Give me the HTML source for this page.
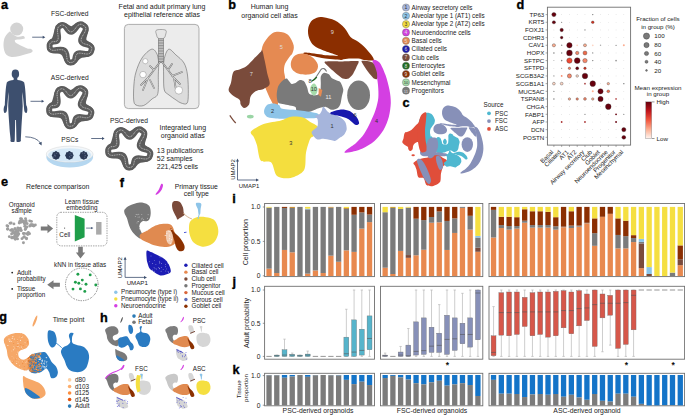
<!DOCTYPE html>
<html><head><meta charset="utf-8"><style>
html,body{margin:0;padding:0;background:#fff;width:685px;height:415px;overflow:hidden}
svg{display:block}
text{font-family:"Liberation Sans",sans-serif}
</style></head><body>
<svg width="685" height="415" viewBox="0 0 685 415" font-family="Liberation Sans, sans-serif">
<text x="69.7" y="16.2" font-size="6.7" text-anchor="middle" fill="#222" font-weight="normal" >FSC-derived</text>
<text x="69.7" y="79.6" font-size="6.7" text-anchor="middle" fill="#222" font-weight="normal" >ASC-derived</text>
<text x="69.8" y="142.1" font-size="6.6" text-anchor="middle" fill="#222" font-weight="normal" >PSCs</text>
<text x="128.9" y="122.6" font-size="6.7" text-anchor="middle" fill="#222" font-weight="normal" >PSC-derived</text>
<text x="162" y="8.6" font-size="7" text-anchor="middle" fill="#222" font-weight="normal" >Fetal and adult primary lung</text>
<text x="162" y="16.7" font-size="7" text-anchor="middle" fill="#222" font-weight="normal" >epithelial reference atlas</text>
<text x="182.8" y="130.1" font-size="7" text-anchor="middle" fill="#222" font-weight="normal" >Integrated lung</text>
<text x="182.8" y="137.7" font-size="7" text-anchor="middle" fill="#222" font-weight="normal" >organoid atlas</text>
<text x="156.8" y="153.0" font-size="7" text-anchor="start" fill="#222" font-weight="normal" >13 publications</text>
<text x="156.8" y="160.5" font-size="7" text-anchor="start" fill="#222" font-weight="normal" >52 samples</text>
<text x="156.8" y="168.6" font-size="7" text-anchor="start" fill="#222" font-weight="normal" >221,425 cells</text>
<line x1="32.2" y1="37.2" x2="43.739999999999995" y2="37.2" stroke="#3d4f6e" stroke-width="0.8"/>
<path d="M45.3,37.2 L42.699999999999996,35.7 L42.699999999999996,38.7Z" fill="#3d4f6e"/>
<line x1="30.5" y1="101.3" x2="42.64" y2="101.3" stroke="#3d4f6e" stroke-width="0.8"/>
<path d="M44.2,101.3 L41.6,99.8 L41.6,102.8Z" fill="#3d4f6e"/>
<line x1="91.2" y1="138.5" x2="103.03999999999999" y2="138.5" stroke="#3d4f6e" stroke-width="0.8"/>
<path d="M104.6,138.5 L102.0,137.0 L102.0,140.0Z" fill="#3d4f6e"/>
<path d="M25.3,136.8 Q36.5,137 40.6,143.2" fill="none" stroke="#3d4f6e" stroke-width="0.8"/>
<path d="M41.6,145.4 L38.6,143.2 L41.6,141.8Z" fill="#3d4f6e"/>
<g fill="#d3d3d3">
<circle cx="16.7" cy="29.1" r="6.5"/>
<path d="M10.1,31.2 C7,33.5 5,36 4.2,39 C3.2,43 3.3,47 4.2,50.5 C5,54 7.5,56.5 11.5,57 C16,57.2 22,55.5 28.4,53.6 C31.5,52.8 33,52 32.6,50.5 C32,48.6 30,48.5 28,48.7 C25,48 21,45.5 17.5,43.8 C15.5,42.8 14.6,41.5 14.8,40.2 C16,39.6 18.5,39.6 21.5,39.3 L24.8,38.4 C25,37 24,35.7 22.8,36 C20.5,36.8 18,37 16.5,36.5 C14,35.5 12,33.5 10.1,31.2Z" fill="#d3d3d3" />
</g>
<ellipse cx="15.4" cy="74" rx="3.7" ry="4.4" fill="#3d4f6e"/>
<path d="M13.7,77.5 L17.2,77.5 L17.4,79.9 C20,80.3 23.3,80.6 24.2,82.5 C25.5,88 25.8,98 26.2,105 C27.6,107.5 27.8,111 26.6,113 C25.6,113.5 24.3,112 24.2,110 C23.8,104 23,98 22.6,92 C22.2,97 22.6,102 22.7,106 C22.3,115 21.5,125 21.2,132 L20.8,139.5 C21.3,141 20.5,142 19,142 L16.8,142 C16.3,141 16.5,139.5 16.4,138 L16,120 L15.2,120 L14.8,138 C14.8,140 14.7,141.5 14.2,142 L11.8,142 C10.4,142 10.2,141 10.6,139.5 L9.8,132 C9.4,125 8.4,115 8.2,106 C8.3,102 8.8,97 8.4,92 C8,98 7.4,104 6.9,110 C6.8,112 5.5,113.5 4.4,113 C3.2,111 3.4,107.5 4.8,105 C5.2,98 5.5,88 6.8,82.5 C7.7,80.6 11,80.3 13.6,79.9Z" fill="#3d4f6e" />
<path d="M57.73,29.94 C58.85,27.12 58.60,27.02 60.07,26.15 C61.54,25.29 62.07,25.29 64.51,25.94 C66.95,26.59 68.28,29.31 71.32,29.14 C74.37,28.98 75.95,25.91 78.54,25.18 C81.13,24.45 81.78,24.72 83.28,25.76 C84.78,26.81 85.42,26.80 85.47,30.00 C85.53,33.19 82.50,37.03 83.52,40.50 C84.54,43.97 88.57,43.83 90.18,46.01 C91.80,48.18 91.52,48.86 90.98,50.53 C90.44,52.21 90.26,52.63 87.70,53.75 C85.14,54.88 82.02,54.32 79.18,55.72 C76.33,57.12 76.30,58.82 74.57,60.21 C72.84,61.60 72.68,62.09 71.19,62.14 C69.69,62.19 69.51,62.64 67.68,60.44 C65.85,58.23 66.05,54.21 62.75,51.97 C59.45,49.74 55.24,51.32 52.46,50.12 C49.68,48.92 50.13,48.14 49.93,46.44 C49.73,44.74 50.45,43.84 51.53,42.27 C52.61,40.69 53.56,41.84 54.90,39.17 C56.24,36.50 56.61,32.76 57.73,29.94Z" fill="#5c5c5c" stroke="#5c5c5c" stroke-width="5.94" stroke-linejoin="round"/>
<path d="M57.53,29.73 C58.01,26.66 58.42,26.76 59.91,25.88 C61.40,25.00 61.97,24.38 64.42,25.66 C66.86,26.95 68.11,31.99 71.19,31.82 C74.28,31.66 76.01,26.27 78.67,24.89 C81.33,23.52 81.95,24.43 83.47,25.49 C84.99,26.55 86.19,26.39 85.70,29.78 C85.21,33.17 80.16,37.61 81.19,41.13 C82.23,44.65 88.29,43.98 90.48,46.04 C92.67,48.10 91.84,48.93 91.29,50.63 C90.74,52.34 90.92,53.26 87.96,53.90 C85.00,54.54 80.52,52.18 77.63,53.60 C74.74,55.02 76.03,58.55 74.63,60.46 C73.24,62.37 72.71,62.37 71.19,62.41 C69.68,62.46 69.16,63.26 67.64,60.69 C66.11,58.11 67.51,52.80 64.16,50.53 C60.82,48.27 55.33,51.09 52.18,50.22 C49.03,49.34 49.82,48.20 49.61,46.48 C49.41,44.75 49.48,43.63 51.24,42.24 C53.00,40.85 56.37,42.75 57.73,40.04 C59.09,37.33 57.06,32.79 57.53,29.73Z" fill="#fff" stroke="#5c5c5c" stroke-width="5.94" stroke-linejoin="round"/>
<path d="M57.53,29.73 C58.01,26.66 58.42,26.76 59.91,25.88 C61.40,25.00 61.97,24.38 64.42,25.66 C66.86,26.95 68.11,31.99 71.19,31.82 C74.28,31.66 76.01,26.27 78.67,24.89 C81.33,23.52 81.95,24.43 83.47,25.49 C84.99,26.55 86.19,26.39 85.70,29.78 C85.21,33.17 80.16,37.61 81.19,41.13 C82.23,44.65 88.29,43.98 90.48,46.04 C92.67,48.10 91.84,48.93 91.29,50.63 C90.74,52.34 90.92,53.26 87.96,53.90 C85.00,54.54 80.52,52.18 77.63,53.60 C74.74,55.02 76.03,58.55 74.63,60.46 C73.24,62.37 72.71,62.37 71.19,62.41 C69.68,62.46 69.16,63.26 67.64,60.69 C66.11,58.11 67.51,52.80 64.16,50.53 C60.82,48.27 55.33,51.09 52.18,50.22 C49.03,49.34 49.82,48.20 49.61,46.48 C49.41,44.75 49.48,43.63 51.24,42.24 C53.00,40.85 56.37,42.75 57.73,40.04 C59.09,37.33 57.06,32.79 57.53,29.73Z" fill="none" stroke="#f2f2f2" stroke-width="0.6" stroke-dasharray="1 0.7"/>
<path d="M57.33,93.74 C58.45,90.92 58.20,90.82 59.67,89.95 C61.14,89.09 61.67,89.09 64.11,89.74 C66.55,90.39 67.88,93.11 70.92,92.94 C73.97,92.78 75.55,89.71 78.14,88.98 C80.73,88.25 81.38,88.52 82.88,89.56 C84.38,90.61 85.02,90.60 85.07,93.80 C85.13,96.99 82.10,100.83 83.12,104.30 C84.14,107.77 88.17,107.63 89.78,109.81 C91.40,111.98 91.12,112.66 90.58,114.33 C90.04,116.01 89.86,116.43 87.30,117.55 C84.74,118.68 81.62,118.12 78.78,119.52 C75.93,120.92 75.90,122.62 74.17,124.01 C72.44,125.40 72.28,125.89 70.79,125.94 C69.29,125.99 69.11,126.44 67.28,124.24 C65.45,122.03 65.65,118.01 62.35,115.77 C59.05,113.54 54.84,115.12 52.06,113.92 C49.28,112.72 49.73,111.94 49.53,110.24 C49.33,108.54 50.05,107.64 51.13,106.07 C52.21,104.49 53.16,105.64 54.50,102.97 C55.84,100.30 56.21,96.56 57.33,93.74Z" fill="#5c5c5c" stroke="#5c5c5c" stroke-width="5.94" stroke-linejoin="round"/>
<path d="M57.13,93.53 C57.61,90.46 58.02,90.56 59.51,89.68 C61.00,88.80 61.57,88.18 64.02,89.46 C66.46,90.75 67.71,95.79 70.79,95.62 C73.88,95.46 75.61,90.07 78.27,88.69 C80.93,87.32 81.55,88.23 83.07,89.29 C84.59,90.35 85.79,90.19 85.30,93.58 C84.81,96.97 79.76,101.41 80.79,104.93 C81.83,108.45 87.89,107.78 90.08,109.84 C92.27,111.90 91.44,112.73 90.89,114.43 C90.34,116.14 90.52,117.06 87.56,117.70 C84.60,118.34 80.12,115.98 77.23,117.40 C74.34,118.82 75.63,122.35 74.23,124.26 C72.84,126.17 72.31,126.17 70.79,126.21 C69.28,126.26 68.76,127.06 67.24,124.49 C65.71,121.91 67.11,116.60 63.77,114.33 C60.42,112.07 54.93,114.89 51.78,114.02 C48.63,113.14 49.42,112.00 49.21,110.27 C49.01,108.55 49.08,107.43 50.84,106.04 C52.60,104.65 55.97,106.55 57.33,103.84 C58.69,101.13 56.66,96.59 57.13,93.53Z" fill="#fff" stroke="#5c5c5c" stroke-width="5.94" stroke-linejoin="round"/>
<path d="M57.13,93.53 C57.61,90.46 58.02,90.56 59.51,89.68 C61.00,88.80 61.57,88.18 64.02,89.46 C66.46,90.75 67.71,95.79 70.79,95.62 C73.88,95.46 75.61,90.07 78.27,88.69 C80.93,87.32 81.55,88.23 83.07,89.29 C84.59,90.35 85.79,90.19 85.30,93.58 C84.81,96.97 79.76,101.41 80.79,104.93 C81.83,108.45 87.89,107.78 90.08,109.84 C92.27,111.90 91.44,112.73 90.89,114.43 C90.34,116.14 90.52,117.06 87.56,117.70 C84.60,118.34 80.12,115.98 77.23,117.40 C74.34,118.82 75.63,122.35 74.23,124.26 C72.84,126.17 72.31,126.17 70.79,126.21 C69.28,126.26 68.76,127.06 67.24,124.49 C65.71,121.91 67.11,116.60 63.77,114.33 C60.42,112.07 54.93,114.89 51.78,114.02 C48.63,113.14 49.42,112.00 49.21,110.27 C49.01,108.55 49.08,107.43 50.84,106.04 C52.60,104.65 55.97,106.55 57.33,103.84 C58.69,101.13 56.66,96.59 57.13,93.53Z" fill="none" stroke="#f2f2f2" stroke-width="0.6" stroke-dasharray="1 0.7"/>
<path d="M116.33,134.94 C117.45,132.12 117.20,132.02 118.67,131.15 C120.14,130.29 120.67,130.29 123.11,130.94 C125.55,131.59 126.88,134.31 129.92,134.14 C132.97,133.98 134.55,130.91 137.14,130.18 C139.73,129.45 140.38,129.72 141.88,130.76 C143.38,131.81 144.02,131.80 144.07,135.00 C144.13,138.19 141.10,142.03 142.12,145.50 C143.14,148.97 147.17,148.83 148.78,151.01 C150.40,153.18 150.12,153.86 149.58,155.53 C149.04,157.21 148.86,157.63 146.30,158.75 C143.74,159.88 140.62,159.32 137.78,160.72 C134.93,162.12 134.90,163.82 133.17,165.21 C131.44,166.60 131.28,167.09 129.79,167.14 C128.29,167.19 128.11,167.64 126.28,165.44 C124.45,163.23 124.65,159.21 121.35,156.97 C118.05,154.74 113.84,156.32 111.06,155.12 C108.28,153.92 108.73,153.14 108.53,151.44 C108.33,149.74 109.05,148.84 110.13,147.27 C111.21,145.69 112.16,146.84 113.50,144.17 C114.84,141.50 115.21,137.76 116.33,134.94Z" fill="#5c5c5c" stroke="#5c5c5c" stroke-width="5.94" stroke-linejoin="round"/>
<path d="M116.13,134.73 C116.61,131.66 117.02,131.76 118.51,130.88 C120.00,130.00 120.57,129.38 123.02,130.66 C125.46,131.95 126.71,136.99 129.79,136.82 C132.88,136.66 134.61,131.27 137.27,129.89 C139.93,128.52 140.55,129.43 142.07,130.49 C143.59,131.55 144.79,131.39 144.30,134.78 C143.81,138.17 138.76,142.61 139.79,146.13 C140.83,149.65 146.89,148.98 149.08,151.04 C151.27,153.10 150.44,153.93 149.89,155.63 C149.34,157.34 149.52,158.26 146.56,158.90 C143.60,159.54 139.12,157.18 136.23,158.60 C133.34,160.02 134.63,163.55 133.23,165.46 C131.84,167.37 131.31,167.37 129.79,167.41 C128.28,167.46 127.76,168.26 126.24,165.69 C124.71,163.11 126.11,157.80 122.76,155.53 C119.42,153.27 113.93,156.09 110.78,155.22 C107.63,154.34 108.42,153.20 108.21,151.47 C108.01,149.75 108.08,148.63 109.84,147.24 C111.60,145.85 114.97,147.75 116.33,145.04 C117.69,142.33 115.66,137.79 116.13,134.73Z" fill="#fff" stroke="#5c5c5c" stroke-width="5.94" stroke-linejoin="round"/>
<path d="M116.13,134.73 C116.61,131.66 117.02,131.76 118.51,130.88 C120.00,130.00 120.57,129.38 123.02,130.66 C125.46,131.95 126.71,136.99 129.79,136.82 C132.88,136.66 134.61,131.27 137.27,129.89 C139.93,128.52 140.55,129.43 142.07,130.49 C143.59,131.55 144.79,131.39 144.30,134.78 C143.81,138.17 138.76,142.61 139.79,146.13 C140.83,149.65 146.89,148.98 149.08,151.04 C151.27,153.10 150.44,153.93 149.89,155.63 C149.34,157.34 149.52,158.26 146.56,158.90 C143.60,159.54 139.12,157.18 136.23,158.60 C133.34,160.02 134.63,163.55 133.23,165.46 C131.84,167.37 131.31,167.37 129.79,167.41 C128.28,167.46 127.76,168.26 126.24,165.69 C124.71,163.11 126.11,157.80 122.76,155.53 C119.42,153.27 113.93,156.09 110.78,155.22 C107.63,154.34 108.42,153.20 108.21,151.47 C108.01,149.75 108.08,148.63 109.84,147.24 C111.60,145.85 114.97,147.75 116.33,145.04 C117.69,142.33 115.66,137.79 116.13,134.73Z" fill="none" stroke="#f2f2f2" stroke-width="0.6" stroke-dasharray="1 0.7"/>
<ellipse cx="69.7" cy="157.0" rx="23.4" ry="10.6" fill="#b5d7f0"/>
<ellipse cx="69.7" cy="154.2" rx="23.4" ry="8.1" fill="#f3f7fa" stroke="#cdcdcd" stroke-width="0.4"/>
<ellipse cx="69.7" cy="155.0" rx="21.6" ry="6.7" fill="#d6e9f7"/>
<path d="M60.30,155.40 C60.30,155.88 59.72,156.35 59.51,156.85 C59.30,157.36 59.38,158.10 59.04,158.44 C58.70,158.78 57.96,158.70 57.45,158.91 C56.95,159.12 56.48,159.70 56.00,159.70 C55.52,159.70 55.05,159.12 54.55,158.91 C54.04,158.70 53.30,158.78 52.96,158.44 C52.62,158.10 52.70,157.36 52.49,156.85 C52.28,156.35 51.70,155.88 51.70,155.40 C51.70,154.92 52.28,154.45 52.49,153.95 C52.70,153.44 52.62,152.70 52.96,152.36 C53.30,152.02 54.04,152.10 54.55,151.89 C55.05,151.68 55.52,151.10 56.00,151.10 C56.48,151.10 56.95,151.68 57.45,151.89 C57.96,152.10 58.70,152.02 59.04,152.36 C59.38,152.70 59.30,153.44 59.51,153.95 C59.72,154.45 60.30,154.92 60.30,155.40Z" fill="#2a3854" />
<circle cx="54.69" cy="155.62" r="0.6" fill="#5a6a88"/>
<circle cx="55.35" cy="155.92" r="0.6" fill="#5a6a88"/>
<circle cx="56.63" cy="153.23" r="0.6" fill="#5a6a88"/>
<circle cx="53.57" cy="157.09" r="0.6" fill="#5a6a88"/>
<circle cx="54.80" cy="154.07" r="0.6" fill="#5a6a88"/>
<path d="M73.70,155.40 C73.70,155.88 73.12,156.35 72.91,156.85 C72.70,157.36 72.78,158.10 72.44,158.44 C72.10,158.78 71.36,158.70 70.85,158.91 C70.35,159.12 69.88,159.70 69.40,159.70 C68.92,159.70 68.45,159.12 67.95,158.91 C67.44,158.70 66.70,158.78 66.36,158.44 C66.02,158.10 66.10,157.36 65.89,156.85 C65.68,156.35 65.10,155.88 65.10,155.40 C65.10,154.92 65.68,154.45 65.89,153.95 C66.10,153.44 66.02,152.70 66.36,152.36 C66.70,152.02 67.44,152.10 67.95,151.89 C68.45,151.68 68.92,151.10 69.40,151.10 C69.88,151.10 70.35,151.68 70.85,151.89 C71.36,152.10 72.10,152.02 72.44,152.36 C72.78,152.70 72.70,153.44 72.91,153.95 C73.12,154.45 73.70,154.92 73.70,155.40Z" fill="#2a3854" />
<circle cx="71.88" cy="155.25" r="0.6" fill="#5a6a88"/>
<circle cx="71.08" cy="155.28" r="0.6" fill="#5a6a88"/>
<circle cx="70.10" cy="153.65" r="0.6" fill="#5a6a88"/>
<circle cx="70.07" cy="157.24" r="0.6" fill="#5a6a88"/>
<circle cx="69.52" cy="156.61" r="0.6" fill="#5a6a88"/>
<path d="M88.00,155.40 C88.00,155.88 87.42,156.35 87.21,156.85 C87.00,157.36 87.08,158.10 86.74,158.44 C86.40,158.78 85.66,158.70 85.15,158.91 C84.65,159.12 84.18,159.70 83.70,159.70 C83.22,159.70 82.75,159.12 82.25,158.91 C81.74,158.70 81.00,158.78 80.66,158.44 C80.32,158.10 80.40,157.36 80.19,156.85 C79.98,156.35 79.40,155.88 79.40,155.40 C79.40,154.92 79.98,154.45 80.19,153.95 C80.40,153.44 80.32,152.70 80.66,152.36 C81.00,152.02 81.74,152.10 82.25,151.89 C82.75,151.68 83.22,151.10 83.70,151.10 C84.18,151.10 84.65,151.68 85.15,151.89 C85.66,152.10 86.40,152.02 86.74,152.36 C87.08,152.70 87.00,153.44 87.21,153.95 C87.42,154.45 88.00,154.92 88.00,155.40Z" fill="#2a3854" />
<circle cx="84.56" cy="153.22" r="0.6" fill="#5a6a88"/>
<circle cx="84.99" cy="155.86" r="0.6" fill="#5a6a88"/>
<circle cx="82.71" cy="153.06" r="0.6" fill="#5a6a88"/>
<circle cx="85.53" cy="155.26" r="0.6" fill="#5a6a88"/>
<circle cx="84.79" cy="157.29" r="0.6" fill="#5a6a88"/>
<rect x="124.4" y="24.4" width="74.6" height="84.2" rx="4" fill="#ececec" stroke="#8f8f8f" stroke-width="0.7"/>
<path d="M151.30,49.30 C153.72,48.47 155.28,50.88 156.50,53.00 C157.72,55.12 158.30,58.33 158.60,62.00 C158.90,65.67 158.43,69.73 158.30,75.00 C158.17,80.27 158.85,89.60 157.80,93.60 C156.75,97.60 154.35,97.02 152.00,99.00 C149.65,100.98 146.37,104.50 143.70,105.50 C141.03,106.50 137.67,105.92 136.00,105.00 C134.33,104.08 134.05,103.33 133.70,100.00 C133.35,96.67 133.52,89.67 133.90,85.00 C134.28,80.33 134.65,76.50 136.00,72.00 C137.35,67.50 139.45,61.78 142.00,58.00 C144.55,54.22 148.88,50.13 151.30,49.30Z" fill="#dcdcdc" stroke="#666" stroke-width="0.6"/>
<path d="M168.60,49.30 C170.60,48.47 173.43,52.72 176.00,55.00 C178.57,57.28 182.08,59.67 184.00,63.00 C185.92,66.33 186.78,69.90 187.50,75.00 C188.22,80.10 188.38,88.88 188.30,93.60 C188.22,98.32 188.22,101.73 187.00,103.30 C185.78,104.87 182.80,103.53 181.00,103.00 C179.20,102.47 178.20,101.43 176.20,100.10 C174.20,98.77 170.98,96.68 169.00,95.00 C167.02,93.32 165.20,93.33 164.30,90.00 C163.40,86.67 163.65,80.00 163.60,75.00 C163.55,70.00 163.17,64.28 164.00,60.00 C164.83,55.72 166.60,50.13 168.60,49.30Z" fill="#dcdcdc" stroke="#666" stroke-width="0.6"/>
<rect x="158.4" y="37" width="5.2" height="25.5" fill="#e0e0e0" stroke="#666" stroke-width="0.5"/>
<line x1="158.4" y1="39.0" x2="163.6" y2="39.0" stroke="#555" stroke-width="0.6"/>
<line x1="158.4" y1="40.6" x2="163.6" y2="40.6" stroke="#555" stroke-width="0.6"/>
<line x1="158.4" y1="42.2" x2="163.6" y2="42.2" stroke="#555" stroke-width="0.6"/>
<line x1="158.4" y1="43.8" x2="163.6" y2="43.8" stroke="#555" stroke-width="0.6"/>
<line x1="158.4" y1="45.4" x2="163.6" y2="45.4" stroke="#555" stroke-width="0.6"/>
<line x1="158.4" y1="47.0" x2="163.6" y2="47.0" stroke="#555" stroke-width="0.6"/>
<line x1="158.4" y1="48.6" x2="163.6" y2="48.6" stroke="#555" stroke-width="0.6"/>
<line x1="158.4" y1="50.2" x2="163.6" y2="50.2" stroke="#555" stroke-width="0.6"/>
<line x1="158.4" y1="51.8" x2="163.6" y2="51.8" stroke="#555" stroke-width="0.6"/>
<line x1="158.4" y1="53.4" x2="163.6" y2="53.4" stroke="#555" stroke-width="0.6"/>
<line x1="158.4" y1="55.0" x2="163.6" y2="55.0" stroke="#555" stroke-width="0.6"/>
<line x1="158.4" y1="56.6" x2="163.6" y2="56.6" stroke="#555" stroke-width="0.6"/>
<line x1="158.4" y1="58.2" x2="163.6" y2="58.2" stroke="#555" stroke-width="0.6"/>
<line x1="158.4" y1="59.8" x2="163.6" y2="59.8" stroke="#555" stroke-width="0.6"/>
<line x1="158.4" y1="61.4" x2="163.6" y2="61.4" stroke="#555" stroke-width="0.6"/>
<path d="M156.00,30.50 C156.73,29.58 159.33,29.50 161.00,29.50 C162.67,29.50 165.25,29.58 166.00,30.50 C166.75,31.42 165.87,33.72 165.50,35.00 C165.13,36.28 165.02,37.67 163.80,38.20 C162.58,38.73 159.40,38.73 158.20,38.20 C157.00,37.67 156.97,36.28 156.60,35.00 C156.23,33.72 155.27,31.42 156.00,30.50Z" fill="#e6e6e6" stroke="#666" stroke-width="0.5"/>
<g fill="none" stroke="#666" stroke-width="1.6" stroke-linecap="round"><path d="M160,62 L154,70 L148,78 L141,85 M154,70 L150,66 M148,78 L143,90 M150,80 L154,88"/><path d="M162,62 L168,70 L174,78 L180,84 M168,70 L172,64 M174,78 L176,90 M172,76 L182,72"/></g>
<g fill="none" stroke="#f4f4f4" stroke-width="0.7" stroke-linecap="round"><path d="M160,62 L154,70 L148,78 L141,85 M154,70 L150,66 M148,78 L143,90 M150,80 L154,88"/><path d="M162,62 L168,70 L174,78 L180,84 M168,70 L172,64 M174,78 L176,90 M172,76 L182,72"/></g>
<circle cx="145.3" cy="61.2" r="2.6" fill="#fff" stroke="#777" stroke-width="0.4"/>
<circle cx="143" cy="74.6" r="3.2" fill="#fff" stroke="#777" stroke-width="0.4"/>
<circle cx="178.8" cy="90.3" r="3.8" fill="#fff" stroke="#777" stroke-width="0.4"/>
<g >
<path d="M372.70,59.50 C373.60,59.27 377.58,60.17 379.50,62.50 C381.42,64.83 384.00,70.88 385.50,75.00 C387.00,79.12 388.70,85.80 389.50,90.00 C390.30,94.20 390.91,98.95 390.80,103.00 C390.69,107.05 389.90,112.95 388.80,117.00 C387.70,121.05 385.64,126.40 383.50,130.00 C381.36,133.60 377.73,138.18 374.50,141.00 C371.27,143.82 365.68,147.11 362.00,148.80 C358.32,150.50 352.62,151.75 350.00,152.30 C347.38,152.86 344.95,152.92 344.50,152.50 C344.05,152.08 345.27,150.93 347.00,149.50 C348.73,148.07 353.45,145.32 356.00,143.00 C358.55,140.68 361.82,137.15 364.00,134.00 C366.18,130.85 368.77,125.60 370.50,122.00 C372.23,118.40 374.33,113.60 375.50,110.00 C376.67,106.40 377.93,101.75 378.30,98.00 C378.68,94.25 378.35,88.90 378.00,85.00 C377.65,81.10 376.68,75.15 376.00,72.00 C375.32,68.85 374.00,65.88 373.50,64.00 C373.00,62.12 371.80,59.73 372.70,59.50Z" fill="#d43fe2"/>
<path d="M323.50,17.30 C326.55,17.78 331.57,18.77 335.10,20.60 C338.63,22.43 342.13,25.57 344.70,28.30 C347.27,31.03 348.25,34.75 350.50,37.00 C352.75,39.25 355.63,39.88 358.20,41.80 C360.77,43.72 363.30,45.58 365.90,48.50 C368.50,51.42 373.80,57.33 373.80,59.30 C373.80,61.27 368.50,60.42 365.90,60.30 C363.30,60.18 361.02,58.88 358.20,58.60 C355.38,58.32 351.87,58.47 349.00,58.60 C346.13,58.73 343.00,59.95 341.00,59.40 C339.00,58.85 339.92,56.78 337.00,55.30 C334.08,53.82 327.35,52.12 323.50,50.50 C319.65,48.88 316.30,47.70 313.90,45.60 C311.50,43.50 310.07,40.62 309.10,37.90 C308.13,35.18 307.78,32.02 308.10,29.30 C308.42,26.58 309.55,23.53 311.00,21.60 C312.45,19.67 314.72,18.42 316.80,17.70 C318.88,16.98 320.45,16.82 323.50,17.30Z" fill="#8b2e00"/>
<path d="M303.30,53.40 C303.30,53.20 304.18,52.45 306.20,52.60 C308.22,52.75 320.02,54.55 323.50,54.90 C326.98,55.25 339.05,55.77 341.00,56.10 C342.95,56.43 343.00,57.82 343.00,58.20 C343.00,58.58 342.95,59.89 341.00,59.90 C339.05,59.91 326.98,58.83 323.50,58.30 C320.02,57.77 308.22,55.09 306.20,54.60 C304.18,54.11 303.30,53.60 303.30,53.40Z" fill="#8b2e00"/>
<path d="M291.00,62.00 C291.50,59.75 293.00,56.90 295.00,55.50 C297.00,54.10 300.17,53.35 303.00,53.60 C305.83,53.85 309.53,55.18 312.00,57.00 C314.47,58.82 317.13,62.08 317.80,64.50 C318.47,66.92 317.63,69.82 316.00,71.50 C314.37,73.18 311.00,74.27 308.00,74.60 C305.00,74.93 300.67,74.43 298.00,73.50 C295.33,72.57 293.17,70.92 292.00,69.00 C290.83,67.08 290.50,64.25 291.00,62.00Z" fill="#e58a52"/>
<path d="M324.50,62.00 C325.09,60.97 336.63,61.49 340.00,61.40 C343.37,61.31 356.55,60.54 358.20,61.10 C359.85,61.66 357.02,65.71 356.50,67.00 C355.98,68.29 353.79,72.84 353.00,74.00 C352.21,75.16 349.62,78.14 348.60,78.60 C347.58,79.06 344.25,79.29 342.80,78.60 C341.35,77.91 335.93,73.36 334.10,71.70 C332.27,70.04 323.91,63.03 324.50,62.00Z" fill="#7a4b3b"/>
<path d="M361.50,61.00 C361.97,60.08 371.17,61.40 372.70,62.50 C374.23,63.60 376.37,70.35 376.80,72.00 C377.23,73.65 377.28,78.34 377.00,79.00 C376.72,79.66 374.90,79.33 374.00,78.60 C373.10,77.87 369.25,73.46 368.00,71.70 C366.75,69.94 361.03,61.92 361.50,61.00Z" fill="#7a4b3b"/>
<path d="M276.80,31.70 C278.72,31.53 281.48,31.72 283.50,32.40 C285.52,33.08 287.20,33.62 288.90,35.80 C290.60,37.98 293.10,42.63 293.70,45.50 C294.30,48.37 293.12,51.20 292.50,53.00 C291.88,54.80 291.22,54.53 290.00,56.30 C288.78,58.07 286.20,61.18 285.20,63.60 C284.20,66.02 284.00,68.23 284.00,70.80 C284.00,73.37 285.37,76.47 285.20,79.00 C285.03,81.53 284.00,82.95 283.00,86.00 C282.00,89.05 280.03,94.22 279.20,97.30 C278.37,100.38 277.80,101.28 278.00,104.50 C278.20,107.72 280.65,115.35 280.40,116.60 C280.15,117.85 277.70,114.02 276.50,112.00 C275.30,109.98 274.55,107.35 273.20,104.50 C271.85,101.65 270.00,98.52 268.40,94.90 C266.80,91.28 264.75,86.95 263.60,82.80 C262.45,78.65 261.92,74.02 261.50,70.00 C261.08,65.98 260.97,62.58 261.10,58.70 C261.23,54.82 261.28,50.10 262.30,46.70 C263.32,43.30 265.58,40.52 267.20,38.30 C268.82,36.08 270.40,34.50 272.00,33.40 C273.60,32.30 274.88,31.87 276.80,31.70Z" fill="#e58a52"/>
<path d="M262.30,50.30 C262.92,51.90 263.98,57.28 264.80,61.10 C265.62,64.92 266.40,69.38 267.20,73.20 C268.00,77.02 270.20,81.38 269.60,84.00 C269.00,86.62 265.42,87.88 263.60,88.90 C261.78,89.92 260.32,89.50 258.70,90.10 C257.08,90.70 255.30,91.30 253.90,92.50 C252.50,93.70 251.10,95.30 250.30,97.30 C249.50,99.30 250.10,102.70 249.10,104.50 C248.10,106.30 245.70,108.10 244.30,108.10 C242.90,108.10 241.50,105.90 240.70,104.50 C239.90,103.10 240.92,101.30 239.50,99.70 C238.08,98.10 234.02,96.50 232.20,94.90 C230.38,93.30 228.80,92.12 228.60,90.10 C228.40,88.08 230.20,85.82 231.00,82.80 C231.80,79.78 231.98,74.20 233.40,72.00 C234.82,69.80 237.28,70.60 239.50,69.60 C241.72,68.60 244.30,67.82 246.70,66.00 C249.10,64.18 251.50,61.12 253.90,58.70 C256.30,56.28 259.70,52.90 261.10,51.50 C262.50,50.10 261.68,48.70 262.30,50.30Z" fill="#7a4b3b"/>
<path d="M276.70,95.30 C276.70,93.18 277.33,88.53 278.10,86.60 C278.87,84.67 281.34,81.87 282.50,80.80 C283.66,79.73 285.64,78.21 286.80,78.60 C287.96,78.99 290.04,83.11 291.20,83.70 C292.36,84.29 294.35,83.48 295.50,83.00 C296.65,82.52 298.64,80.30 299.80,80.10 C300.96,79.90 303.23,80.54 304.20,81.50 C305.17,82.46 306.43,85.66 307.10,87.30 C307.77,88.94 308.04,92.73 309.20,93.80 C310.36,94.87 314.35,95.49 315.80,95.30 C317.25,95.11 319.43,93.95 320.10,92.40 C320.77,90.85 320.71,85.82 320.80,83.70 C320.89,81.58 320.41,77.94 320.80,76.50 C321.19,75.06 322.63,73.19 323.70,72.90 C324.77,72.61 327.73,73.63 328.80,74.30 C329.87,74.97 330.54,77.03 331.70,77.90 C332.86,78.77 336.34,80.21 337.50,80.80 C338.66,81.39 339.63,81.14 340.40,82.30 C341.17,83.46 343.11,87.58 343.30,89.50 C343.49,91.42 342.19,94.77 341.80,96.70 C341.41,98.63 340.97,102.45 340.40,104.00 C339.83,105.55 338.66,107.53 337.50,108.30 C336.34,109.07 333.25,109.99 331.70,109.80 C330.15,109.61 327.63,107.10 325.90,106.90 C324.17,106.70 320.63,107.73 318.70,108.30 C316.77,108.87 313.33,110.61 311.40,111.20 C309.47,111.79 306.13,112.70 304.20,112.70 C302.27,112.70 298.06,111.97 296.90,111.20 C295.74,110.43 296.46,107.67 295.50,106.90 C294.54,106.13 291.43,105.79 289.70,105.40 C287.97,105.01 284.05,104.39 282.50,104.00 C280.95,103.61 278.87,103.66 278.10,102.50 C277.33,101.34 276.70,97.42 276.70,95.30Z" fill="#7a7a7a"/>
<ellipse cx="358.6" cy="95.2" rx="11.4" ry="14.8" fill="#7a7a7a"/>
<path d="M314.30,83.50 C315.37,83.83 316.98,86.42 317.40,88.00 C317.82,89.58 317.43,91.75 316.80,93.00 C316.17,94.25 314.70,95.83 313.60,95.50 C312.50,95.17 310.63,92.58 310.20,91.00 C309.77,89.42 310.32,87.25 311.00,86.00 C311.68,84.75 313.23,83.17 314.30,83.50Z" fill="#a6dcab"/>
<path d="M264.20,110.00 C264.52,108.80 265.83,105.85 267.00,105.00 C268.17,104.15 271.40,103.60 273.00,103.60 C274.60,103.60 277.75,104.31 279.00,105.00 C280.25,105.69 279.60,108.07 282.40,108.80 C285.20,109.53 295.32,109.87 300.00,110.50 C304.68,111.13 315.23,112.53 317.50,113.50 C319.77,114.47 319.33,117.13 317.00,117.80 C314.67,118.47 304.53,118.38 300.00,118.50 C295.47,118.62 286.20,118.69 283.00,118.70 C279.80,118.71 278.00,118.79 276.00,118.60 C274.00,118.41 269.52,117.91 268.00,117.30 C266.48,116.69 265.11,114.97 264.60,114.00 C264.09,113.03 263.88,111.20 264.20,110.00Z" fill="#8dc4e8"/>
<path d="M251.00,131.60 C252.44,129.57 259.10,125.58 263.60,123.90 C268.10,122.22 276.86,121.47 281.00,120.40 C285.14,119.34 287.91,117.23 291.20,116.80 C294.49,116.36 300.05,116.73 302.90,117.50 C305.75,118.27 308.01,120.58 310.20,121.90 C312.39,123.22 316.19,124.55 317.50,126.30 C318.81,128.06 319.56,132.07 318.90,133.60 C318.24,135.13 314.44,135.65 313.10,136.50 C311.77,137.35 311.06,136.86 310.00,139.30 C308.94,141.75 306.90,148.17 306.00,152.80 C305.10,157.44 306.31,166.44 304.00,170.20 C301.69,173.96 294.65,177.03 290.60,177.90 C286.55,178.77 279.89,178.31 277.00,176.00 C274.11,173.69 273.75,164.82 271.30,162.50 C268.86,160.18 262.86,163.11 260.70,160.50 C258.54,157.89 257.90,148.56 256.90,145.10 C255.89,141.63 254.88,139.43 254.00,137.40 C253.12,135.38 249.56,133.62 251.00,131.60Z" fill="#f4de3e"/>
<path d="M323.30,106.60 C324.07,106.80 326.54,110.73 327.70,111.70 C328.86,112.67 330.44,113.22 332.00,113.90 C333.56,114.58 337.64,115.73 339.40,116.80 C341.16,117.87 344.23,120.25 345.20,121.90 C346.17,123.55 346.89,127.45 346.70,129.20 C346.51,130.95 344.77,133.83 343.80,135.00 C342.83,136.17 340.57,137.21 339.40,138.00 C338.23,138.79 336.17,140.62 335.00,140.90 C333.83,141.18 332.16,140.39 330.60,140.10 C329.04,139.81 325.05,138.79 323.30,138.70 C321.55,138.61 318.77,139.69 317.50,139.40 C316.23,139.11 314.59,137.47 313.80,136.50 C313.01,135.53 311.11,133.46 311.60,132.10 C312.09,130.74 316.71,128.05 317.50,126.30 C318.29,124.55 317.89,120.36 317.50,119.00 C317.11,117.64 314.31,116.78 314.60,116.10 C314.89,115.42 318.73,114.69 319.70,113.90 C320.67,113.11 321.42,111.17 321.90,110.20 C322.38,109.23 322.53,106.40 323.30,106.60Z" fill="#a6b5dc"/>
<path d="M330.60,112.40 C331.77,111.72 338.27,109.69 340.80,109.50 C343.33,109.31 347.45,109.93 349.60,111.00 C351.75,112.07 355.63,115.85 356.90,117.50 C358.17,119.15 359.30,122.43 359.10,123.40 C358.90,124.37 356.87,125.39 355.40,124.80 C353.93,124.21 350.23,120.16 348.10,119.00 C345.97,117.84 341.55,116.69 339.40,116.10 C337.25,115.51 333.17,115.09 332.00,114.60 C330.83,114.11 329.43,113.08 330.60,112.40Z" fill="#1818ad"/>
<ellipse cx="250.3" cy="116.6" rx="3.4" ry="1.9" fill="#9ad5a5"/>
</g>
<path d="M311.5,81.2 C315,80 318,74 321,69.5 C323,67.6 325,68.4 326.6,71.6" fill="none" stroke="#7a7a7a" stroke-width="1.1"/>
<path d="M311.5,81.2 C313.5,80.6 315.5,79 316.8,77.2" fill="none" stroke="#1d6b1d" stroke-width="1.2"/>
<path d="M229.8,115.4 C231.5,118 233.5,121 235.8,123" fill="none" stroke="#7a4b3b" stroke-width="1.2"/>
<path d="M318.7,88 L322.3,90 L321,96.7 L318.5,95 Z" fill="#e58a52"/>
<text x="332" y="127.5" font-size="5.6" text-anchor="middle" fill="#333" font-weight="normal" >1</text>
<text x="272.5" y="113.2" font-size="5.6" text-anchor="middle" fill="#333" font-weight="normal" >2</text>
<text x="290.8" y="144.6" font-size="5.6" text-anchor="middle" fill="#333" font-weight="normal" >3</text>
<text x="376.6" y="122.5" font-size="5.6" text-anchor="middle" fill="#333" font-weight="normal" >4</text>
<text x="281.3" y="48.5" font-size="5.6" text-anchor="middle" fill="#ddd" font-weight="normal" >5</text>
<text x="355" y="117.3" font-size="5.6" text-anchor="middle" fill="#333" font-weight="normal" >6</text>
<text x="251.3" y="75.5" font-size="5.6" text-anchor="middle" fill="#ddd" font-weight="normal" >7</text>
<text x="310" y="83.3" font-size="5.6" text-anchor="middle" fill="#333" font-weight="normal" >8</text>
<text x="332.3" y="33.5" font-size="5.6" text-anchor="middle" fill="#ddd" font-weight="normal" >9</text>
<text x="313.8" y="91.3" font-size="5.6" text-anchor="middle" fill="#333" font-weight="normal" >10</text>
<text x="328.5" y="98.5" font-size="5.6" text-anchor="middle" fill="#eee" font-weight="normal" >11</text>
<path d="M237.5,180 L237.5,160.2 M237.5,180 L257.3,180" stroke="#3d4f6e" stroke-width="0.8" fill="none"/>
<path d="M237.5,158.4 L236,161.4 L239,161.4Z M259,180 L256,178.5 L256,181.5Z" fill="#3d4f6e"/>
<text x="0" y="0" font-size="6.0" text-anchor="middle" fill="#222" font-weight="normal" transform="translate(234.8,169.5) rotate(-90)">UMAP2</text>
<text x="249" y="187.7" font-size="6.0" text-anchor="middle" fill="#222" font-weight="normal" >UMAP1</text>
<text x="269.5" y="8.5" font-size="7" text-anchor="middle" fill="#222" font-weight="normal" >Human lung</text>
<text x="269.5" y="18.0" font-size="7" text-anchor="middle" fill="#222" font-weight="normal" >organoid cell atlas</text>
<circle cx="406" cy="7.50" r="3.6" fill="#a6b5dc" stroke="#666" stroke-width="0.4"/>
<text x="406" y="9.4" font-size="5.0" text-anchor="middle" fill="#333" font-weight="normal" >1</text>
<text x="411.6" y="9.7" font-size="6.3" text-anchor="start" fill="#222" font-weight="normal" >Airway secretory cells</text>
<circle cx="406" cy="15.82" r="3.6" fill="#8dc4e8" stroke="#666" stroke-width="0.4"/>
<text x="406" y="17.72" font-size="5.0" text-anchor="middle" fill="#333" font-weight="normal" >2</text>
<text x="411.6" y="18.02" font-size="6.3" text-anchor="start" fill="#222" font-weight="normal" >Alveolar type 1 (AT1) cells</text>
<circle cx="406" cy="24.14" r="3.6" fill="#f4de3e" stroke="#666" stroke-width="0.4"/>
<text x="406" y="26.04" font-size="5.0" text-anchor="middle" fill="#333" font-weight="normal" >3</text>
<text x="411.6" y="26.34" font-size="6.3" text-anchor="start" fill="#222" font-weight="normal" >Alveolar type 2 (AT2) cells</text>
<circle cx="406" cy="32.46" r="3.6" fill="#d43fe2" stroke="#666" stroke-width="0.4"/>
<text x="406" y="34.36" font-size="5.0" text-anchor="middle" fill="#ddd" font-weight="normal" >4</text>
<text x="411.6" y="34.660000000000004" font-size="6.3" text-anchor="start" fill="#222" font-weight="normal" >Neuroendocrine cells</text>
<circle cx="406" cy="40.78" r="3.6" fill="#e58a52" stroke="#666" stroke-width="0.4"/>
<text x="406" y="42.68" font-size="5.0" text-anchor="middle" fill="#ddd" font-weight="normal" >5</text>
<text x="411.6" y="42.980000000000004" font-size="6.3" text-anchor="start" fill="#222" font-weight="normal" >Basal cells</text>
<circle cx="406" cy="49.10" r="3.6" fill="#1818ad" stroke="#666" stroke-width="0.4"/>
<text x="406" y="51.0" font-size="5.0" text-anchor="middle" fill="#ddd" font-weight="normal" >6</text>
<text x="411.6" y="51.300000000000004" font-size="6.3" text-anchor="start" fill="#222" font-weight="normal" >Ciliated cells</text>
<circle cx="406" cy="57.42" r="3.6" fill="#7a4b3b" stroke="#666" stroke-width="0.4"/>
<text x="406" y="59.32" font-size="5.0" text-anchor="middle" fill="#ddd" font-weight="normal" >7</text>
<text x="411.6" y="59.620000000000005" font-size="6.3" text-anchor="start" fill="#222" font-weight="normal" >Club cells</text>
<circle cx="406" cy="65.74" r="3.6" fill="#1d6b1d" stroke="#666" stroke-width="0.4"/>
<text x="406" y="67.64000000000001" font-size="5.0" text-anchor="middle" fill="#ddd" font-weight="normal" >8</text>
<text x="411.6" y="67.94000000000001" font-size="6.3" text-anchor="start" fill="#222" font-weight="normal" >Enterocytes</text>
<circle cx="406" cy="74.06" r="3.6" fill="#8b2e00" stroke="#666" stroke-width="0.4"/>
<text x="406" y="75.96000000000001" font-size="5.0" text-anchor="middle" fill="#ddd" font-weight="normal" >9</text>
<text x="411.6" y="76.26" font-size="6.3" text-anchor="start" fill="#222" font-weight="normal" >Goblet cells</text>
<circle cx="406" cy="82.38" r="3.6" fill="#a6dcab" stroke="#666" stroke-width="0.4"/>
<text x="406" y="84.28" font-size="4.2" text-anchor="middle" fill="#333" font-weight="normal" >10</text>
<text x="411.6" y="84.58" font-size="6.3" text-anchor="start" fill="#222" font-weight="normal" >Mesenchymal</text>
<circle cx="406" cy="90.70" r="3.6" fill="#7a7a7a" stroke="#666" stroke-width="0.4"/>
<text x="406" y="92.60000000000001" font-size="4.2" text-anchor="middle" fill="#ddd" font-weight="normal" >11</text>
<text x="411.6" y="92.9" font-size="6.3" text-anchor="start" fill="#222" font-weight="normal" >Progenitors</text>
<g transform="translate(288,97) scale(0.5)">
<path d="M372.70,59.50 C373.60,59.27 377.58,60.17 379.50,62.50 C381.42,64.83 384.00,70.88 385.50,75.00 C387.00,79.12 388.70,85.80 389.50,90.00 C390.30,94.20 390.91,98.95 390.80,103.00 C390.69,107.05 389.90,112.95 388.80,117.00 C387.70,121.05 385.64,126.40 383.50,130.00 C381.36,133.60 377.73,138.18 374.50,141.00 C371.27,143.82 365.68,147.11 362.00,148.80 C358.32,150.50 352.62,151.75 350.00,152.30 C347.38,152.86 344.95,152.92 344.50,152.50 C344.05,152.08 345.27,150.93 347.00,149.50 C348.73,148.07 353.45,145.32 356.00,143.00 C358.55,140.68 361.82,137.15 364.00,134.00 C366.18,130.85 368.77,125.60 370.50,122.00 C372.23,118.40 374.33,113.60 375.50,110.00 C376.67,106.40 377.93,101.75 378.30,98.00 C378.68,94.25 378.35,88.90 378.00,85.00 C377.65,81.10 376.68,75.15 376.00,72.00 C375.32,68.85 374.00,65.88 373.50,64.00 C373.00,62.12 371.80,59.73 372.70,59.50Z" fill="#8790b8"/>
<path d="M323.50,17.30 C326.55,17.78 331.57,18.77 335.10,20.60 C338.63,22.43 342.13,25.57 344.70,28.30 C347.27,31.03 348.25,34.75 350.50,37.00 C352.75,39.25 355.63,39.88 358.20,41.80 C360.77,43.72 363.30,45.58 365.90,48.50 C368.50,51.42 373.80,57.33 373.80,59.30 C373.80,61.27 368.50,60.42 365.90,60.30 C363.30,60.18 361.02,58.88 358.20,58.60 C355.38,58.32 351.87,58.47 349.00,58.60 C346.13,58.73 343.00,59.95 341.00,59.40 C339.00,58.85 339.92,56.78 337.00,55.30 C334.08,53.82 327.35,52.12 323.50,50.50 C319.65,48.88 316.30,47.70 313.90,45.60 C311.50,43.50 310.07,40.62 309.10,37.90 C308.13,35.18 307.78,32.02 308.10,29.30 C308.42,26.58 309.55,23.53 311.00,21.60 C312.45,19.67 314.72,18.42 316.80,17.70 C318.88,16.98 320.45,16.82 323.50,17.30Z" fill="#8790b8"/>
<path d="M303.30,53.40 C303.30,53.20 304.18,52.45 306.20,52.60 C308.22,52.75 320.02,54.55 323.50,54.90 C326.98,55.25 339.05,55.77 341.00,56.10 C342.95,56.43 343.00,57.82 343.00,58.20 C343.00,58.58 342.95,59.89 341.00,59.90 C339.05,59.91 326.98,58.83 323.50,58.30 C320.02,57.77 308.22,55.09 306.20,54.60 C304.18,54.11 303.30,53.60 303.30,53.40Z" fill="#8790b8"/>
<path d="M291.00,62.00 C291.50,59.75 293.00,56.90 295.00,55.50 C297.00,54.10 300.17,53.35 303.00,53.60 C305.83,53.85 309.53,55.18 312.00,57.00 C314.47,58.82 317.13,62.08 317.80,64.50 C318.47,66.92 317.63,69.82 316.00,71.50 C314.37,73.18 311.00,74.27 308.00,74.60 C305.00,74.93 300.67,74.43 298.00,73.50 C295.33,72.57 293.17,70.92 292.00,69.00 C290.83,67.08 290.50,64.25 291.00,62.00Z" fill="#8790b8"/>
<path d="M324.50,62.00 C325.09,60.97 336.63,61.49 340.00,61.40 C343.37,61.31 356.55,60.54 358.20,61.10 C359.85,61.66 357.02,65.71 356.50,67.00 C355.98,68.29 353.79,72.84 353.00,74.00 C352.21,75.16 349.62,78.14 348.60,78.60 C347.58,79.06 344.25,79.29 342.80,78.60 C341.35,77.91 335.93,73.36 334.10,71.70 C332.27,70.04 323.91,63.03 324.50,62.00Z" fill="#8790b8"/>
<path d="M361.50,61.00 C361.97,60.08 371.17,61.40 372.70,62.50 C374.23,63.60 376.37,70.35 376.80,72.00 C377.23,73.65 377.28,78.34 377.00,79.00 C376.72,79.66 374.90,79.33 374.00,78.60 C373.10,77.87 369.25,73.46 368.00,71.70 C366.75,69.94 361.03,61.92 361.50,61.00Z" fill="#8790b8"/>
<path d="M276.80,31.70 C278.72,31.53 281.48,31.72 283.50,32.40 C285.52,33.08 287.20,33.62 288.90,35.80 C290.60,37.98 293.10,42.63 293.70,45.50 C294.30,48.37 293.12,51.20 292.50,53.00 C291.88,54.80 291.22,54.53 290.00,56.30 C288.78,58.07 286.20,61.18 285.20,63.60 C284.20,66.02 284.00,68.23 284.00,70.80 C284.00,73.37 285.37,76.47 285.20,79.00 C285.03,81.53 284.00,82.95 283.00,86.00 C282.00,89.05 280.03,94.22 279.20,97.30 C278.37,100.38 277.80,101.28 278.00,104.50 C278.20,107.72 280.65,115.35 280.40,116.60 C280.15,117.85 277.70,114.02 276.50,112.00 C275.30,109.98 274.55,107.35 273.20,104.50 C271.85,101.65 270.00,98.52 268.40,94.90 C266.80,91.28 264.75,86.95 263.60,82.80 C262.45,78.65 261.92,74.02 261.50,70.00 C261.08,65.98 260.97,62.58 261.10,58.70 C261.23,54.82 261.28,50.10 262.30,46.70 C263.32,43.30 265.58,40.52 267.20,38.30 C268.82,36.08 270.40,34.50 272.00,33.40 C273.60,32.30 274.88,31.87 276.80,31.70Z" fill="#4fb8d0"/>
<path d="M262.30,50.30 C262.92,51.90 263.98,57.28 264.80,61.10 C265.62,64.92 266.40,69.38 267.20,73.20 C268.00,77.02 270.20,81.38 269.60,84.00 C269.00,86.62 265.42,87.88 263.60,88.90 C261.78,89.92 260.32,89.50 258.70,90.10 C257.08,90.70 255.30,91.30 253.90,92.50 C252.50,93.70 251.10,95.30 250.30,97.30 C249.50,99.30 250.10,102.70 249.10,104.50 C248.10,106.30 245.70,108.10 244.30,108.10 C242.90,108.10 241.50,105.90 240.70,104.50 C239.90,103.10 240.92,101.30 239.50,99.70 C238.08,98.10 234.02,96.50 232.20,94.90 C230.38,93.30 228.80,92.12 228.60,90.10 C228.40,88.08 230.20,85.82 231.00,82.80 C231.80,79.78 231.98,74.20 233.40,72.00 C234.82,69.80 237.28,70.60 239.50,69.60 C241.72,68.60 244.30,67.82 246.70,66.00 C249.10,64.18 251.50,61.12 253.90,58.70 C256.30,56.28 259.70,52.90 261.10,51.50 C262.50,50.10 261.68,48.70 262.30,50.30Z" fill="#e04e3a"/>
<path d="M276.70,95.30 C276.70,93.18 277.33,88.53 278.10,86.60 C278.87,84.67 281.34,81.87 282.50,80.80 C283.66,79.73 285.64,78.21 286.80,78.60 C287.96,78.99 290.04,83.11 291.20,83.70 C292.36,84.29 294.35,83.48 295.50,83.00 C296.65,82.52 298.64,80.30 299.80,80.10 C300.96,79.90 303.23,80.54 304.20,81.50 C305.17,82.46 306.43,85.66 307.10,87.30 C307.77,88.94 308.04,92.73 309.20,93.80 C310.36,94.87 314.35,95.49 315.80,95.30 C317.25,95.11 319.43,93.95 320.10,92.40 C320.77,90.85 320.71,85.82 320.80,83.70 C320.89,81.58 320.41,77.94 320.80,76.50 C321.19,75.06 322.63,73.19 323.70,72.90 C324.77,72.61 327.73,73.63 328.80,74.30 C329.87,74.97 330.54,77.03 331.70,77.90 C332.86,78.77 336.34,80.21 337.50,80.80 C338.66,81.39 339.63,81.14 340.40,82.30 C341.17,83.46 343.11,87.58 343.30,89.50 C343.49,91.42 342.19,94.77 341.80,96.70 C341.41,98.63 340.97,102.45 340.40,104.00 C339.83,105.55 338.66,107.53 337.50,108.30 C336.34,109.07 333.25,109.99 331.70,109.80 C330.15,109.61 327.63,107.10 325.90,106.90 C324.17,106.70 320.63,107.73 318.70,108.30 C316.77,108.87 313.33,110.61 311.40,111.20 C309.47,111.79 306.13,112.70 304.20,112.70 C302.27,112.70 298.06,111.97 296.90,111.20 C295.74,110.43 296.46,107.67 295.50,106.90 C294.54,106.13 291.43,105.79 289.70,105.40 C287.97,105.01 284.05,104.39 282.50,104.00 C280.95,103.61 278.87,103.66 278.10,102.50 C277.33,101.34 276.70,97.42 276.70,95.30Z" fill="#4fb8d0"/>
<ellipse cx="358.6" cy="95.2" rx="11.4" ry="14.8" fill="#8790b8"/>
<path d="M314.30,83.50 C315.37,83.83 316.98,86.42 317.40,88.00 C317.82,89.58 317.43,91.75 316.80,93.00 C316.17,94.25 314.70,95.83 313.60,95.50 C312.50,95.17 310.63,92.58 310.20,91.00 C309.77,89.42 310.32,87.25 311.00,86.00 C311.68,84.75 313.23,83.17 314.30,83.50Z" fill="#4fb8d0"/>
<path d="M264.20,110.00 C264.52,108.80 265.83,105.85 267.00,105.00 C268.17,104.15 271.40,103.60 273.00,103.60 C274.60,103.60 277.75,104.31 279.00,105.00 C280.25,105.69 279.60,108.07 282.40,108.80 C285.20,109.53 295.32,109.87 300.00,110.50 C304.68,111.13 315.23,112.53 317.50,113.50 C319.77,114.47 319.33,117.13 317.00,117.80 C314.67,118.47 304.53,118.38 300.00,118.50 C295.47,118.62 286.20,118.69 283.00,118.70 C279.80,118.71 278.00,118.79 276.00,118.60 C274.00,118.41 269.52,117.91 268.00,117.30 C266.48,116.69 265.11,114.97 264.60,114.00 C264.09,113.03 263.88,111.20 264.20,110.00Z" fill="#8790b8"/>
<path d="M251.00,131.60 C252.44,129.57 259.10,125.58 263.60,123.90 C268.10,122.22 276.86,121.47 281.00,120.40 C285.14,119.34 287.91,117.23 291.20,116.80 C294.49,116.36 300.05,116.73 302.90,117.50 C305.75,118.27 308.01,120.58 310.20,121.90 C312.39,123.22 316.19,124.55 317.50,126.30 C318.81,128.06 319.56,132.07 318.90,133.60 C318.24,135.13 314.44,135.65 313.10,136.50 C311.77,137.35 311.06,136.86 310.00,139.30 C308.94,141.75 306.90,148.17 306.00,152.80 C305.10,157.44 306.31,166.44 304.00,170.20 C301.69,173.96 294.65,177.03 290.60,177.90 C286.55,178.77 279.89,178.31 277.00,176.00 C274.11,173.69 273.75,164.82 271.30,162.50 C268.86,160.18 262.86,163.11 260.70,160.50 C258.54,157.89 257.90,148.56 256.90,145.10 C255.89,141.63 254.88,139.43 254.00,137.40 C253.12,135.38 249.56,133.62 251.00,131.60Z" fill="#e04e3a"/>
<path d="M323.30,106.60 C324.07,106.80 326.54,110.73 327.70,111.70 C328.86,112.67 330.44,113.22 332.00,113.90 C333.56,114.58 337.64,115.73 339.40,116.80 C341.16,117.87 344.23,120.25 345.20,121.90 C346.17,123.55 346.89,127.45 346.70,129.20 C346.51,130.95 344.77,133.83 343.80,135.00 C342.83,136.17 340.57,137.21 339.40,138.00 C338.23,138.79 336.17,140.62 335.00,140.90 C333.83,141.18 332.16,140.39 330.60,140.10 C329.04,139.81 325.05,138.79 323.30,138.70 C321.55,138.61 318.77,139.69 317.50,139.40 C316.23,139.11 314.59,137.47 313.80,136.50 C313.01,135.53 311.11,133.46 311.60,132.10 C312.09,130.74 316.71,128.05 317.50,126.30 C318.29,124.55 317.89,120.36 317.50,119.00 C317.11,117.64 314.31,116.78 314.60,116.10 C314.89,115.42 318.73,114.69 319.70,113.90 C320.67,113.11 321.42,111.17 321.90,110.20 C322.38,109.23 322.53,106.40 323.30,106.60Z" fill="#4fb8d0"/>
<path d="M330.60,112.40 C331.77,111.72 338.27,109.69 340.80,109.50 C343.33,109.31 347.45,109.93 349.60,111.00 C351.75,112.07 355.63,115.85 356.90,117.50 C358.17,119.15 359.30,122.43 359.10,123.40 C358.90,124.37 356.87,125.39 355.40,124.80 C353.93,124.21 350.23,120.16 348.10,119.00 C345.97,117.84 341.55,116.69 339.40,116.10 C337.25,115.51 333.17,115.09 332.00,114.60 C330.83,114.11 329.43,113.08 330.60,112.40Z" fill="#4fb8d0"/>
<ellipse cx="250.3" cy="116.6" rx="3.4" ry="1.9" fill="#e04e3a"/>
</g>
<path d="M418.50,124.00 C419.08,121.25 419.75,117.42 421.00,115.50 C422.25,113.58 425.17,111.75 426.00,112.50 C426.83,113.25 426.17,117.08 426.00,120.00 C425.83,122.92 425.08,126.67 425.00,130.00 C424.92,133.33 425.17,136.67 425.50,140.00 C425.83,143.33 427.75,148.00 427.00,150.00 C426.25,152.00 422.50,153.33 421.00,152.00 C419.50,150.67 418.58,145.33 418.00,142.00 C417.42,138.67 417.42,135.00 417.50,132.00 C417.58,129.00 417.92,126.75 418.50,124.00Z" fill="#e04e3a" />
<path d="M428.00,140.00 C429.08,137.92 431.50,137.67 433.00,137.50 C434.50,137.33 436.17,137.42 437.00,139.00 C437.83,140.58 438.50,144.17 438.00,147.00 C437.50,149.83 435.50,154.17 434.00,156.00 C432.50,157.83 430.25,159.00 429.00,158.00 C427.75,157.00 426.67,153.00 426.50,150.00 C426.33,147.00 426.92,142.08 428.00,140.00Z" fill="#8790b8" />
<path d="M417.00,161.00 C416.83,158.83 418.83,158.67 420.00,159.00 C421.17,159.33 422.67,161.00 424.00,163.00 C425.33,165.00 426.83,168.17 428.00,171.00 C429.17,173.83 430.83,177.83 431.00,180.00 C431.17,182.17 430.00,184.00 429.00,184.00 C428.00,184.00 426.33,182.00 425.00,180.00 C423.67,178.00 422.33,175.17 421.00,172.00 C419.67,168.83 417.17,163.17 417.00,161.00Z" fill="#8790b8" />
<path d="M436.00,157.00 C436.33,155.67 438.00,155.50 439.00,156.00 C440.00,156.50 441.33,158.17 442.00,160.00 C442.67,161.83 443.33,165.33 443.00,167.00 C442.67,168.67 441.00,170.50 440.00,170.00 C439.00,169.50 437.67,166.17 437.00,164.00 C436.33,161.83 435.67,158.33 436.00,157.00Z" fill="#8790b8" />
<text x="483.5" y="107.3" font-size="6.3" text-anchor="start" fill="#222" font-weight="normal" >Source</text>
<circle cx="489" cy="113.30" r="1.9" fill="#4fb8d0"/>
<text x="495" y="115.5" font-size="6.3" text-anchor="start" fill="#222" font-weight="normal" >PSC</text>
<circle cx="489" cy="121.10" r="1.9" fill="#8790b8"/>
<text x="495" y="123.3" font-size="6.3" text-anchor="start" fill="#222" font-weight="normal" >FSC</text>
<circle cx="489" cy="128.90" r="1.9" fill="#e04e3a"/>
<text x="495" y="131.1" font-size="6.3" text-anchor="start" fill="#222" font-weight="normal" >ASC</text>
<text x="57.7" y="188.5" font-size="6.9" text-anchor="middle" fill="#222" font-weight="normal" >Refence comparison</text>
<text x="21.7" y="206.8" font-size="6.3" text-anchor="middle" fill="#222" font-weight="normal" >Organoid</text>
<text x="21.7" y="213.3" font-size="6.3" text-anchor="middle" fill="#222" font-weight="normal" >sample</text>
<text x="81.9" y="203.5" font-size="6.3" text-anchor="middle" fill="#222" font-weight="normal" >Learn tissue</text>
<text x="81.9" y="210.2" font-size="6.3" text-anchor="middle" fill="#222" font-weight="normal" >embedding</text>
<circle cx="20.56" cy="222.33" r="1.45" fill="#9e9e9e"/>
<circle cx="25.89" cy="220.37" r="1.45" fill="#9e9e9e"/>
<circle cx="20.31" cy="221.36" r="1.45" fill="#9e9e9e"/>
<circle cx="24.65" cy="223.92" r="1.45" fill="#9e9e9e"/>
<circle cx="20.58" cy="218.66" r="1.45" fill="#9e9e9e"/>
<circle cx="25.19" cy="222.54" r="1.45" fill="#9e9e9e"/>
<circle cx="27.18" cy="223.66" r="1.45" fill="#9e9e9e"/>
<circle cx="23.26" cy="220.90" r="1.45" fill="#9e9e9e"/>
<circle cx="29.67" cy="220.86" r="1.45" fill="#9e9e9e"/>
<circle cx="21.62" cy="219.00" r="1.45" fill="#9e9e9e"/>
<circle cx="23.73" cy="221.82" r="1.45" fill="#9e9e9e"/>
<circle cx="22.67" cy="221.36" r="1.45" fill="#9e9e9e"/>
<circle cx="24.16" cy="223.02" r="1.45" fill="#9e9e9e"/>
<circle cx="26.13" cy="221.96" r="1.45" fill="#9e9e9e"/>
<circle cx="19.20" cy="223.04" r="1.45" fill="#9e9e9e"/>
<circle cx="20.09" cy="221.12" r="1.45" fill="#9e9e9e"/>
<circle cx="19.96" cy="221.50" r="1.45" fill="#9e9e9e"/>
<circle cx="21.63" cy="221.97" r="1.45" fill="#9e9e9e"/>
<circle cx="31.42" cy="221.39" r="1.45" fill="#9e9e9e"/>
<circle cx="25.52" cy="218.59" r="1.45" fill="#9e9e9e"/>
<circle cx="29.75" cy="226.10" r="1.45" fill="#9e9e9e"/>
<circle cx="30.26" cy="225.83" r="1.45" fill="#9e9e9e"/>
<circle cx="30.77" cy="224.59" r="1.45" fill="#9e9e9e"/>
<circle cx="31.97" cy="224.77" r="1.45" fill="#9e9e9e"/>
<circle cx="35.37" cy="225.05" r="1.45" fill="#9e9e9e"/>
<circle cx="32.28" cy="225.50" r="1.45" fill="#9e9e9e"/>
<circle cx="32.98" cy="224.96" r="1.45" fill="#9e9e9e"/>
<circle cx="33.10" cy="225.39" r="1.45" fill="#9e9e9e"/>
<circle cx="33.78" cy="226.06" r="1.45" fill="#9e9e9e"/>
<circle cx="15.04" cy="229.00" r="1.45" fill="#9e9e9e"/>
<circle cx="17.42" cy="233.00" r="1.45" fill="#9e9e9e"/>
<circle cx="20.74" cy="230.29" r="1.45" fill="#9e9e9e"/>
<circle cx="16.61" cy="233.13" r="1.45" fill="#9e9e9e"/>
<circle cx="15.58" cy="232.17" r="1.45" fill="#9e9e9e"/>
<circle cx="15.19" cy="229.59" r="1.45" fill="#9e9e9e"/>
<circle cx="10.65" cy="230.23" r="1.45" fill="#9e9e9e"/>
<circle cx="16.75" cy="236.34" r="1.45" fill="#9e9e9e"/>
<circle cx="18.21" cy="234.87" r="1.45" fill="#9e9e9e"/>
<circle cx="17.45" cy="233.74" r="1.45" fill="#9e9e9e"/>
<circle cx="15.20" cy="233.97" r="1.45" fill="#9e9e9e"/>
<circle cx="21.24" cy="230.45" r="1.45" fill="#9e9e9e"/>
<circle cx="11.86" cy="237.77" r="1.45" fill="#9e9e9e"/>
<circle cx="15.43" cy="234.61" r="1.45" fill="#9e9e9e"/>
<circle cx="17.82" cy="227.87" r="1.45" fill="#9e9e9e"/>
<circle cx="23.75" cy="237.18" r="1.45" fill="#9e9e9e"/>
<circle cx="15.17" cy="233.91" r="1.45" fill="#9e9e9e"/>
<circle cx="14.98" cy="228.67" r="1.45" fill="#9e9e9e"/>
<circle cx="14.07" cy="232.70" r="1.45" fill="#9e9e9e"/>
<circle cx="18.74" cy="233.77" r="1.45" fill="#9e9e9e"/>
<circle cx="14.73" cy="235.84" r="1.45" fill="#9e9e9e"/>
<circle cx="11.61" cy="234.04" r="1.45" fill="#9e9e9e"/>
<circle cx="18.73" cy="230.57" r="1.45" fill="#9e9e9e"/>
<circle cx="7.70" cy="228.60" r="1.45" fill="#9e9e9e"/>
<circle cx="15.40" cy="233.19" r="1.45" fill="#9e9e9e"/>
<circle cx="20.38" cy="228.29" r="1.45" fill="#9e9e9e"/>
<circle cx="14.51" cy="233.58" r="1.45" fill="#9e9e9e"/>
<circle cx="13.90" cy="223.92" r="1.45" fill="#9e9e9e"/>
<circle cx="17.56" cy="238.90" r="1.45" fill="#9e9e9e"/>
<circle cx="18.32" cy="228.56" r="1.45" fill="#9e9e9e"/>
<circle cx="12.93" cy="232.21" r="1.45" fill="#9e9e9e"/>
<circle cx="23.96" cy="233.48" r="1.45" fill="#9e9e9e"/>
<circle cx="14.93" cy="236.48" r="1.45" fill="#9e9e9e"/>
<circle cx="14.19" cy="237.46" r="1.45" fill="#9e9e9e"/>
<circle cx="11.90" cy="229.98" r="1.45" fill="#9e9e9e"/>
<circle cx="17.24" cy="236.06" r="1.45" fill="#9e9e9e"/>
<circle cx="16.98" cy="232.47" r="1.45" fill="#9e9e9e"/>
<circle cx="7.58" cy="229.22" r="1.45" fill="#9e9e9e"/>
<circle cx="12.18" cy="229.79" r="1.45" fill="#9e9e9e"/>
<circle cx="16.73" cy="230.43" r="1.45" fill="#9e9e9e"/>
<circle cx="17.49" cy="231.76" r="1.45" fill="#9e9e9e"/>
<circle cx="13.24" cy="231.88" r="1.45" fill="#9e9e9e"/>
<circle cx="16.13" cy="234.25" r="1.45" fill="#9e9e9e"/>
<circle cx="12.69" cy="230.76" r="1.45" fill="#9e9e9e"/>
<circle cx="9.32" cy="236.63" r="1.45" fill="#9e9e9e"/>
<circle cx="28.32" cy="232.50" r="1.45" fill="#9e9e9e"/>
<circle cx="25.23" cy="229.54" r="1.45" fill="#9e9e9e"/>
<circle cx="26.27" cy="233.58" r="1.45" fill="#9e9e9e"/>
<circle cx="29.49" cy="233.69" r="1.45" fill="#9e9e9e"/>
<circle cx="24.76" cy="226.16" r="1.45" fill="#9e9e9e"/>
<circle cx="28.26" cy="233.53" r="1.45" fill="#9e9e9e"/>
<circle cx="23.43" cy="233.51" r="1.45" fill="#9e9e9e"/>
<circle cx="23.43" cy="242.75" r="1.45" fill="#9e9e9e"/>
<circle cx="27.79" cy="234.60" r="1.45" fill="#9e9e9e"/>
<circle cx="25.72" cy="227.01" r="1.45" fill="#9e9e9e"/>
<circle cx="25.80" cy="228.65" r="1.45" fill="#9e9e9e"/>
<circle cx="26.95" cy="227.01" r="1.45" fill="#9e9e9e"/>
<circle cx="7.82" cy="226.09" r="1.45" fill="#9e9e9e"/>
<circle cx="11.14" cy="222.96" r="1.45" fill="#9e9e9e"/>
<circle cx="7.01" cy="225.64" r="1.45" fill="#9e9e9e"/>
<circle cx="10.11" cy="223.22" r="1.45" fill="#9e9e9e"/>
<circle cx="12.53" cy="237.74" r="1.45" fill="#9e9e9e"/>
<circle cx="11.83" cy="237.75" r="1.45" fill="#9e9e9e"/>
<circle cx="15.25" cy="239.26" r="1.45" fill="#9e9e9e"/>
<circle cx="16.38" cy="238.41" r="1.45" fill="#9e9e9e"/>
<circle cx="13.31" cy="237.42" r="1.45" fill="#9e9e9e"/>
<circle cx="24.33" cy="236.82" r="1.45" fill="#9e9e9e"/>
<circle cx="22.01" cy="238.63" r="1.45" fill="#9e9e9e"/>
<circle cx="26.52" cy="238.75" r="1.45" fill="#9e9e9e"/>
<circle cx="26.37" cy="238.23" r="1.45" fill="#9e9e9e"/>
<rect x="56.8" y="212.3" width="50.2" height="33.6" rx="4.5" fill="none" stroke="#444" stroke-width="0.7" stroke-dasharray="0.7 1.0"/>
<path d="M40.8,226.6 L47.5,226.6 L47.5,224 L53.1,228.6 L47.5,233.2 L47.5,230.6 L40.8,230.6Z" fill="#7a7a7a" />
<path d="M78.2,246.8 L78.2,252.5 L75.9,252.5 L80.5,258.6 L85.2,252.5 L82.8,252.5 L82.8,246.8Z" fill="#7a7a7a" />
<path d="M59.9,282.7 L53.5,282.7 L53.5,280.2 L47.2,284.7 L53.5,289.2 L53.5,286.7 L59.9,286.7Z" fill="#7a7a7a" />
<circle cx="64.6" cy="228.1" r="0.6" fill="#555"/>
<text x="64.8" y="237.3" font-size="6.3" text-anchor="middle" fill="#222" font-weight="normal" >Cell</text>
<path d="M74.8,215.1 L84.6,218.8 L84.6,237.2 L74.8,241.6Z" fill="#1e9e4a" />
<line x1="86.1" y1="228.1" x2="92" y2="228.1" stroke="#3d4f6e" stroke-width="0.7"/>
<path d="M93.4,228.1 L91.2,226.9 L91.2,229.3Z" fill="#3d4f6e" />
<rect x="96.1" y="222" width="5.4" height="12.6" fill="#aaa"/>
<text x="80.1" y="266.5" font-size="6.3" text-anchor="middle" fill="#222" font-weight="normal" >kNN in tissue atlas</text>
<circle cx="81.8" cy="284.4" r="16.3" fill="none" stroke="#222" stroke-width="0.75" stroke-dasharray="0.7 1.1"/>
<circle cx="77.9" cy="274.2" r="1.45" fill="#1e9e4a"/>
<circle cx="90.2" cy="274.9" r="1.45" fill="#1e9e4a"/>
<circle cx="82.3" cy="280.1" r="1.45" fill="#1e9e4a"/>
<circle cx="75.4" cy="282.2" r="1.45" fill="#1e9e4a"/>
<circle cx="78.8" cy="283.3" r="1.45" fill="#1e9e4a"/>
<circle cx="86" cy="284.2" r="1.45" fill="#1e9e4a"/>
<circle cx="95.8" cy="285" r="1.45" fill="#1e9e4a"/>
<circle cx="73" cy="289.1" r="1.45" fill="#1e9e4a"/>
<circle cx="80.4" cy="288.9" r="1.45" fill="#1e9e4a"/>
<circle cx="84.8" cy="291.4" r="1.45" fill="#1e9e4a"/>
<circle cx="82" cy="284.4" r="0.7" fill="#999"/>
<text x="16.9" y="274.6" font-size="6.3" text-anchor="start" fill="#222" font-weight="normal" >Adult</text>
<text x="16.9" y="281.2" font-size="6.3" text-anchor="start" fill="#222" font-weight="normal" >probability</text>
<text x="16.9" y="291" font-size="6.3" text-anchor="start" fill="#222" font-weight="normal" >Tissue</text>
<text x="16.9" y="297" font-size="6.3" text-anchor="start" fill="#222" font-weight="normal" >proportion</text>
<circle cx="12.2" cy="272.6" r="0.9" fill="#222"/><circle cx="12.2" cy="288.9" r="0.9" fill="#222"/>
<g >
<path d="M124.60,209.60 C125.37,208.32 127.42,206.73 129.20,205.70 C130.98,204.67 133.00,203.90 135.30,203.40 C137.60,202.90 140.70,202.32 143.00,202.70 C145.30,203.08 147.82,204.17 149.10,205.70 C150.38,207.23 150.57,209.85 150.70,211.90 C150.83,213.95 150.42,216.47 149.90,218.00 C149.38,219.53 148.75,220.58 147.60,221.10 C146.45,221.62 144.28,220.60 143.00,221.10 C141.72,221.60 140.42,222.83 139.90,224.10 C139.38,225.37 139.38,226.90 139.90,228.70 C140.42,230.50 141.85,233.62 143.00,234.90 C144.15,236.18 147.13,235.80 146.80,236.40 C146.47,237.00 142.65,238.50 141.00,238.50 C139.35,238.50 138.35,237.52 136.90,236.40 C135.45,235.28 133.58,233.58 132.30,231.80 C131.02,230.02 130.10,228.00 129.20,225.70 C128.30,223.40 127.67,220.05 126.90,218.00 C126.13,215.95 124.98,214.80 124.60,213.40 C124.22,212.00 123.83,210.88 124.60,209.60Z" fill="#777"/>
<path d="M139.90,234.90 C140.92,233.37 145.30,231.72 147.60,230.30 C149.90,228.88 151.40,227.43 153.70,226.40 C156.00,225.37 158.83,224.48 161.40,224.10 C163.97,223.72 167.18,223.58 169.10,224.10 C171.02,224.62 171.88,225.40 172.90,227.20 C173.92,229.00 174.57,232.60 175.20,234.90 C175.83,237.20 177.22,239.22 176.70,241.00 C176.18,242.78 174.13,244.58 172.10,245.60 C170.07,246.62 167.30,247.10 164.50,247.10 C161.70,247.10 158.12,246.37 155.30,245.60 C152.48,244.83 149.90,243.52 147.60,242.50 C145.30,241.48 142.78,240.77 141.50,239.50 C140.22,238.23 138.88,236.43 139.90,234.90Z" fill="#e08a50"/>
<path d="M170.60,228.00 C171.05,227.73 173.53,231.52 175.20,233.30 C176.87,235.08 179.07,236.65 180.60,238.70 C182.13,240.75 183.88,243.68 184.40,245.60 C184.92,247.52 184.60,249.30 183.70,250.20 C182.80,251.10 180.28,251.52 179.00,251.00 C177.72,250.48 176.75,248.77 176.00,247.10 C175.25,245.43 175.08,243.03 174.50,241.00 C173.92,238.97 173.15,237.07 172.50,234.90 C171.85,232.73 170.15,228.27 170.60,228.00Z" fill="#8b3000"/>
<path d="M174.40,201.10 C175.68,200.72 178.38,200.87 179.80,201.90 C181.22,202.93 182.25,205.52 182.90,207.30 C183.55,209.08 183.45,211.33 183.70,212.60 C183.95,213.87 185.05,214.00 184.40,214.90 C183.75,215.80 180.95,217.23 179.80,218.00 C178.65,218.77 178.13,219.75 177.50,219.50 C176.87,219.25 176.77,218.03 176.00,216.50 C175.23,214.97 173.55,212.35 172.90,210.30 C172.25,208.25 171.85,205.73 172.10,204.20 C172.35,202.67 173.12,201.48 174.40,201.10Z" fill="#7a4a3a"/>
<path d="M190.60,221.10 C191.88,219.43 194.15,217.85 196.70,217.20 C199.25,216.55 203.08,216.82 205.90,217.20 C208.72,217.58 211.68,218.08 213.60,219.50 C215.52,220.92 216.63,223.40 217.40,225.70 C218.17,228.00 218.58,230.75 218.20,233.30 C217.82,235.85 216.63,238.95 215.10,241.00 C213.57,243.05 211.30,244.70 209.00,245.60 C206.70,246.50 203.87,246.92 201.30,246.40 C198.73,245.88 195.52,244.42 193.60,242.50 C191.68,240.58 190.57,237.45 189.80,234.90 C189.03,232.35 188.87,229.50 189.00,227.20 C189.13,224.90 189.32,222.77 190.60,221.10Z" fill="#f5df40"/>
<path d="M195.90,203.40 C196.22,202.78 197.60,202.70 198.50,202.80 C199.40,202.90 200.95,202.97 201.30,204.00 C201.65,205.03 200.78,207.33 200.60,209.00 C200.42,210.67 200.53,213.17 200.20,214.00 C199.87,214.83 199.00,214.83 198.60,214.00 C198.20,213.17 198.13,210.25 197.80,209.00 C197.47,207.75 196.92,207.43 196.60,206.50 C196.28,205.57 195.58,204.02 195.90,203.40Z" fill="#8dc4e8"/>
<path d="M146.70,250.80 C147.42,249.63 149.23,251.30 151.00,252.00 C152.77,252.70 155.30,254.00 157.30,255.00 C159.30,256.00 161.23,256.70 163.00,258.00 C164.77,259.30 166.60,260.55 167.90,262.80 C169.20,265.05 171.12,269.55 170.80,271.50 C170.48,273.45 167.77,273.85 166.00,274.50 C164.23,275.15 162.20,275.82 160.20,275.40 C158.20,274.98 155.77,273.13 154.00,272.00 C152.23,270.87 150.68,270.10 149.60,268.60 C148.52,267.10 147.98,264.60 147.50,263.00 C147.02,261.40 146.83,261.03 146.70,259.00 C146.57,256.97 145.98,251.97 146.70,250.80Z" fill="#1c1cb4"/>
<path d="M161.50,183.70 C161.95,183.53 162.95,184.03 163.00,185.00 C163.05,185.97 162.55,188.08 161.80,189.50 C161.05,190.92 159.47,192.62 158.50,193.50 C157.53,194.38 156.45,194.75 156.00,194.80 C155.55,194.85 155.37,194.60 155.80,193.80 C156.23,193.00 157.85,191.30 158.60,190.00 C159.35,188.70 159.82,187.05 160.30,186.00 C160.78,184.95 161.05,183.87 161.50,183.70Z" fill="#d43fe2"/>
<path d="M183,213 C186,216 189,218 192,219" stroke="#caa27a" stroke-width="0.8" fill="none"/>
<path d="M199.5,213 L198,219" stroke="#8dc4e8" stroke-width="1" fill="none"/>
<path d="M184,232.6 L186.5,232.2" stroke="#3a4ad0" stroke-width="0.9" fill="none"/>
<circle cx="142.2" cy="218.1" r="0.45" fill="#fff" opacity="0.8"/>
<circle cx="145.5" cy="223.0" r="0.45" fill="#fff" opacity="0.8"/>
<circle cx="144.2" cy="230.6" r="0.45" fill="#fff" opacity="0.8"/>
<circle cx="138.8" cy="214.2" r="0.45" fill="#fff" opacity="0.8"/>
<circle cx="139.5" cy="226.2" r="0.45" fill="#fff" opacity="0.8"/>
<circle cx="138.0" cy="217.1" r="0.45" fill="#fff" opacity="0.8"/>
<circle cx="148.6" cy="225.9" r="0.45" fill="#fff" opacity="0.8"/>
<circle cx="141.6" cy="230.1" r="0.45" fill="#fff" opacity="0.8"/>
<circle cx="139.9" cy="226.0" r="0.45" fill="#fff" opacity="0.8"/>
<circle cx="138.0" cy="221.8" r="0.45" fill="#fff" opacity="0.8"/>
<circle cx="147.1" cy="230.5" r="0.45" fill="#fff" opacity="0.8"/>
<circle cx="148.2" cy="220.9" r="0.45" fill="#fff" opacity="0.8"/>
<circle cx="143.7" cy="219.7" r="0.45" fill="#fff" opacity="0.8"/>
<circle cx="137.0" cy="222.9" r="0.45" fill="#fff" opacity="0.8"/>
<circle cx="147.6" cy="229.3" r="0.45" fill="#fff" opacity="0.8"/>
<circle cx="145.7" cy="231.1" r="0.45" fill="#fff" opacity="0.8"/>
<circle cx="139.2" cy="217.0" r="0.45" fill="#fff" opacity="0.8"/>
<circle cx="141.8" cy="219.0" r="0.45" fill="#fff" opacity="0.8"/>
<circle cx="138.2" cy="221.5" r="0.45" fill="#fff" opacity="0.8"/>
<circle cx="144.4" cy="222.9" r="0.45" fill="#fff" opacity="0.8"/>
<circle cx="139.7" cy="229.1" r="0.45" fill="#fff" opacity="0.8"/>
<circle cx="149.7" cy="222.1" r="0.45" fill="#fff" opacity="0.8"/>
<circle cx="136.1" cy="214.6" r="0.45" fill="#fff" opacity="0.8"/>
<circle cx="148.1" cy="214.7" r="0.45" fill="#fff" opacity="0.8"/>
<circle cx="145.6" cy="224.3" r="0.45" fill="#fff" opacity="0.8"/>
<circle cx="139.6" cy="228.2" r="0.45" fill="#fff" opacity="0.8"/>
<circle cx="135.3" cy="216.4" r="0.45" fill="#fff" opacity="0.8"/>
<circle cx="141.8" cy="214.4" r="0.45" fill="#fff" opacity="0.8"/>
<circle cx="147.4" cy="218.3" r="0.45" fill="#fff" opacity="0.8"/>
<circle cx="137.1" cy="214.8" r="0.45" fill="#fff" opacity="0.8"/>
<path d="M166,231 C168.5,229.5 171,230.5 172.5,234 C173.5,238 173,242 171,244.5 C168.5,245 166.5,242 166,238Z" fill="#fff" opacity="0.55"/>
<circle cx="169.4" cy="235.1" r="0.5" fill="#fff" opacity="0.8"/>
<circle cx="169.4" cy="238.5" r="0.5" fill="#fff" opacity="0.8"/>
<circle cx="170.7" cy="243.3" r="0.5" fill="#fff" opacity="0.8"/>
<circle cx="169.8" cy="231.2" r="0.5" fill="#fff" opacity="0.8"/>
<circle cx="168.3" cy="230.9" r="0.5" fill="#fff" opacity="0.8"/>
<circle cx="165.1" cy="235.6" r="0.5" fill="#fff" opacity="0.8"/>
<circle cx="170.0" cy="230.9" r="0.5" fill="#fff" opacity="0.8"/>
<circle cx="166.9" cy="233.5" r="0.5" fill="#fff" opacity="0.8"/>
<circle cx="169.9" cy="236.3" r="0.5" fill="#fff" opacity="0.8"/>
<circle cx="169.3" cy="240.1" r="0.5" fill="#fff" opacity="0.8"/>
<circle cx="167.8" cy="240.7" r="0.5" fill="#fff" opacity="0.8"/>
<circle cx="171.3" cy="229.4" r="0.5" fill="#fff" opacity="0.8"/>
<circle cx="171.5" cy="239.6" r="0.5" fill="#fff" opacity="0.8"/>
<circle cx="165.9" cy="235.3" r="0.5" fill="#fff" opacity="0.8"/>
<circle cx="161.1" cy="271.2" r="0.45" fill="#fff" opacity="0.7"/>
<circle cx="155.9" cy="264.4" r="0.45" fill="#fff" opacity="0.7"/>
<circle cx="166.5" cy="268.9" r="0.45" fill="#fff" opacity="0.7"/>
<circle cx="167.8" cy="262.3" r="0.45" fill="#fff" opacity="0.7"/>
<circle cx="161.7" cy="257.1" r="0.45" fill="#fff" opacity="0.7"/>
<circle cx="163.2" cy="269.4" r="0.45" fill="#fff" opacity="0.7"/>
<circle cx="161.5" cy="267.4" r="0.45" fill="#fff" opacity="0.7"/>
<circle cx="152.5" cy="271.0" r="0.45" fill="#fff" opacity="0.7"/>
<circle cx="168.6" cy="272.5" r="0.45" fill="#fff" opacity="0.7"/>
<circle cx="159.3" cy="268.8" r="0.45" fill="#fff" opacity="0.7"/>
<circle cx="154.7" cy="271.2" r="0.45" fill="#fff" opacity="0.7"/>
<circle cx="166.0" cy="260.0" r="0.45" fill="#fff" opacity="0.7"/>
<circle cx="149.7" cy="261.8" r="0.45" fill="#fff" opacity="0.7"/>
<circle cx="159.6" cy="268.4" r="0.45" fill="#fff" opacity="0.7"/>
<circle cx="158.2" cy="253.6" r="0.45" fill="#fff" opacity="0.7"/>
<circle cx="165.0" cy="254.3" r="0.45" fill="#fff" opacity="0.7"/>
<circle cx="164.8" cy="256.5" r="0.45" fill="#fff" opacity="0.7"/>
<circle cx="155.0" cy="268.8" r="0.45" fill="#fff" opacity="0.7"/>
<circle cx="151.0" cy="256.0" r="0.45" fill="#fff" opacity="0.7"/>
<circle cx="158.8" cy="267.5" r="0.45" fill="#fff" opacity="0.7"/>
<circle cx="165.6" cy="266.8" r="0.45" fill="#fff" opacity="0.7"/>
<circle cx="167.9" cy="262.9" r="0.45" fill="#fff" opacity="0.7"/>
<circle cx="167.9" cy="254.7" r="0.45" fill="#fff" opacity="0.7"/>
<circle cx="152.6" cy="263.5" r="0.45" fill="#fff" opacity="0.7"/>
<circle cx="154.1" cy="267.6" r="0.45" fill="#fff" opacity="0.7"/>
<circle cx="161.4" cy="263.5" r="0.45" fill="#fff" opacity="0.7"/>
<circle cx="165.7" cy="264.2" r="0.45" fill="#fff" opacity="0.7"/>
<circle cx="154.5" cy="260.6" r="0.45" fill="#fff" opacity="0.7"/>
<circle cx="165.8" cy="271.0" r="0.45" fill="#fff" opacity="0.7"/>
<circle cx="152.4" cy="270.0" r="0.45" fill="#fff" opacity="0.7"/>
<circle cx="168.3" cy="263.5" r="0.45" fill="#fff" opacity="0.7"/>
<circle cx="160.0" cy="257.0" r="0.45" fill="#fff" opacity="0.7"/>
<circle cx="159.3" cy="263.1" r="0.45" fill="#fff" opacity="0.7"/>
<circle cx="160.7" cy="253.6" r="0.45" fill="#fff" opacity="0.7"/>
<circle cx="168.4" cy="263.3" r="0.45" fill="#fff" opacity="0.7"/>
<circle cx="156.4" cy="269.0" r="0.45" fill="#fff" opacity="0.7"/>
<circle cx="159.8" cy="262.8" r="0.45" fill="#fff" opacity="0.7"/>
<circle cx="162.5" cy="254.3" r="0.45" fill="#fff" opacity="0.7"/>
<circle cx="159.3" cy="261.3" r="0.45" fill="#fff" opacity="0.7"/>
<circle cx="168.1" cy="271.5" r="0.45" fill="#fff" opacity="0.7"/>
</g>
<text x="196.3" y="188.5" font-size="6.8" text-anchor="middle" fill="#222" font-weight="normal" >Primary tissue</text>
<text x="196.3" y="196.0" font-size="6.8" text-anchor="middle" fill="#222" font-weight="normal" >cell type</text>
<path d="M125.1,277.4 L125.1,258.6 M125.1,277.4 L145.2,277.4" stroke="#3d4f6e" stroke-width="0.8" fill="none"/>
<path d="M125.1,256.8 L123.6,259.8 L126.6,259.8Z M147,277.4 L144,275.9 L144,278.9Z" fill="#3d4f6e"/>
<text x="0" y="0" font-size="6.2" text-anchor="middle" fill="#222" font-weight="normal" transform="translate(122.4,267.6) rotate(-90)">UMAP2</text>
<text x="137.3" y="284.6" font-size="6.2" text-anchor="middle" fill="#222" font-weight="normal" >UMAP1</text>
<circle cx="185.9" cy="265.30" r="1.7" fill="#1c1cb4"/>
<text x="191.5" y="267.5" font-size="6.3" text-anchor="start" fill="#222" font-weight="normal" >Ciliated cell</text>
<circle cx="185.9" cy="272.13" r="1.7" fill="#e8894f"/>
<text x="191.5" y="274.33" font-size="6.3" text-anchor="start" fill="#222" font-weight="normal" >Basal cell</text>
<circle cx="185.9" cy="278.96" r="1.7" fill="#7a4a3a"/>
<text x="191.5" y="281.16" font-size="6.3" text-anchor="start" fill="#222" font-weight="normal" >Club cell</text>
<circle cx="185.9" cy="285.79" r="1.7" fill="#777"/>
<text x="191.5" y="287.99" font-size="6.3" text-anchor="start" fill="#222" font-weight="normal" >Progenitor</text>
<circle cx="185.9" cy="292.62" r="1.7" fill="#d9653a"/>
<text x="191.5" y="294.82" font-size="6.3" text-anchor="start" fill="#222" font-weight="normal" >Mucous cell</text>
<circle cx="185.9" cy="299.45" r="1.7" fill="#5a6ab8"/>
<text x="191.5" y="301.65" font-size="6.3" text-anchor="start" fill="#222" font-weight="normal" >Serous cell</text>
<circle cx="185.9" cy="306.28" r="1.7" fill="#8b3000"/>
<text x="191.5" y="308.48" font-size="6.3" text-anchor="start" fill="#222" font-weight="normal" >Goblet cell</text>
<circle cx="115.8" cy="292.20" r="1.7" fill="#8dc4e8"/>
<text x="121" y="294.4" font-size="6.3" text-anchor="start" fill="#222" font-weight="normal" >Pneumocyte (type i)</text>
<circle cx="115.8" cy="298.95" r="1.7" fill="#f5df40"/>
<text x="121" y="301.15" font-size="6.3" text-anchor="start" fill="#222" font-weight="normal" >Pneumocyte (type ii)</text>
<circle cx="115.8" cy="305.70" r="1.7" fill="#d43fe2"/>
<text x="121" y="307.9" font-size="6.3" text-anchor="start" fill="#222" font-weight="normal" >Neuroendocrine</text>
<text x="68.6" y="321.8" font-size="6.9" text-anchor="middle" fill="#222" font-weight="normal" >Time point</text>
<path d="M56,343 C59,345 61,347 63,349" stroke="#2a7bc2" stroke-width="0.8" fill="none"/>
<clipPath id="gclip"><path d="M32.50,325.50 C32.60,324.58 33.22,322.50 33.80,321.00 C34.38,319.50 35.42,317.37 36.00,316.50 C36.58,315.63 37.17,315.30 37.30,315.80 C37.43,316.30 37.18,318.13 36.80,319.50 C36.42,320.87 35.60,322.83 35.00,324.00 C34.40,325.17 33.62,326.25 33.20,326.50 C32.78,326.75 32.40,326.42 32.50,325.50Z"/><path d="M3.90,339.50 C4.33,338.19 5.98,336.56 7.70,335.60 C9.43,334.64 13.07,333.39 15.40,333.10 C17.73,332.81 21.31,332.89 23.20,333.70 C25.09,334.51 27.13,336.91 28.00,338.50 C28.87,340.09 29.29,342.85 29.00,344.30 C28.71,345.75 27.27,347.33 26.10,348.20 C24.93,349.07 22.37,349.38 21.20,350.10 C20.03,350.82 18.59,351.85 18.30,353.00 C18.02,354.15 18.57,356.80 19.30,357.80 C20.04,358.81 21.74,359.83 23.20,359.70 C24.66,359.56 27.56,357.75 29.00,356.90 C30.44,356.04 32.50,353.24 32.80,354.00 C33.10,354.76 31.57,360.12 31.00,362.00 C30.43,363.88 29.60,365.24 29.00,366.50 C28.40,367.76 28.17,369.96 27.00,370.40 C25.83,370.83 22.94,369.98 21.20,369.40 C19.46,368.81 16.99,367.65 15.40,366.50 C13.81,365.35 11.75,363.29 10.60,361.70 C9.45,360.11 8.27,357.64 7.70,355.90 C7.13,354.16 7.23,351.84 6.80,350.10 C6.37,348.36 5.23,345.89 4.80,344.30 C4.37,342.71 3.46,340.81 3.90,339.50Z"/><path d="M29.00,356.90 C29.68,355.46 31.84,354.58 33.00,354.00 C34.16,353.42 34.99,353.30 36.70,353.00 C38.41,352.70 42.66,351.56 44.40,352.00 C46.14,352.44 47.14,354.31 48.30,355.90 C49.45,357.49 50.95,361.01 52.10,362.60 C53.26,364.19 55.13,365.05 56.00,366.50 C56.87,367.95 57.90,370.71 57.90,372.30 C57.90,373.89 57.01,376.23 56.00,377.10 C54.99,377.97 52.22,378.82 51.20,378.10 C50.18,377.38 49.94,373.75 49.20,372.30 C48.47,370.85 47.60,368.40 46.30,368.40 C44.99,368.40 42.38,371.56 40.50,372.30 C38.62,373.04 35.52,373.59 33.80,373.30 C32.07,373.01 29.79,371.85 29.00,370.40 C28.21,368.94 28.50,365.62 28.50,363.60 C28.50,361.58 28.32,358.34 29.00,356.90Z"/><path d="M47.90,331.60 C48.38,329.97 49.70,330.28 50.80,330.40 C51.90,330.52 53.53,330.90 54.50,332.30 C55.47,333.70 56.37,336.75 56.60,338.80 C56.83,340.85 56.50,343.15 55.90,344.60 C55.30,346.05 53.97,347.27 53.00,347.50 C52.03,347.73 50.95,347.22 50.10,346.00 C49.25,344.78 48.27,342.60 47.90,340.20 C47.53,337.80 47.42,333.23 47.90,331.60Z"/><path d="M61.00,351.10 C61.21,350.02 62.12,348.37 63.10,347.50 C64.08,346.63 66.42,346.17 67.50,345.30 C68.58,344.43 70.09,343.11 70.30,341.70 C70.51,340.29 68.90,337.20 68.90,335.90 C68.90,334.59 69.61,333.39 70.30,333.00 C70.99,332.61 73.23,332.66 73.50,333.30 C73.77,333.94 72.25,335.83 72.10,337.30 C71.95,338.77 71.67,341.90 72.50,343.10 C73.33,344.30 75.96,344.76 77.60,345.30 C79.23,345.84 81.89,345.83 83.40,346.70 C84.92,347.57 86.84,349.47 87.70,351.10 C88.56,352.74 89.20,355.34 89.10,357.60 C88.99,359.87 87.86,364.25 87.00,366.20 C86.14,368.15 84.81,369.69 83.40,370.60 C81.99,371.52 79.56,372.30 77.60,372.30 C75.63,372.30 71.94,371.52 70.30,370.60 C68.66,369.69 67.56,367.71 66.70,366.20 C65.84,364.69 65.35,362.23 64.60,360.50 C63.85,358.77 62.24,356.11 61.70,354.70 C61.16,353.29 60.79,352.18 61.00,351.10Z"/><path d="M23.20,376.20 C23.83,375.40 25.08,377.30 27.00,378.10 C28.92,378.90 32.45,380.03 34.70,381.00 C36.95,381.97 38.88,382.62 40.50,383.90 C42.12,385.18 43.58,386.93 44.40,388.70 C45.22,390.47 46.05,392.88 45.40,394.50 C44.75,396.12 42.60,397.75 40.50,398.40 C38.40,399.05 35.05,399.05 32.80,398.40 C30.55,397.75 28.45,396.12 27.00,394.50 C25.55,392.88 24.73,390.63 24.10,388.70 C23.47,386.77 23.35,384.98 23.20,382.90 C23.05,380.82 22.57,377.00 23.20,376.20Z"/><path d="M25.50,388.00 C26.33,387.83 28.25,389.00 30.00,390.00 C31.75,391.00 34.33,392.75 36.00,394.00 C37.67,395.25 40.50,396.73 40.00,397.50 C39.50,398.27 35.08,399.02 33.00,398.60 C30.92,398.18 28.83,396.27 27.50,395.00 C26.17,393.73 25.33,392.17 25.00,391.00 C24.67,389.83 24.67,388.17 25.50,388.00Z"/></clipPath>
<g >
<path d="M32.50,325.50 C32.60,324.58 33.22,322.50 33.80,321.00 C34.38,319.50 35.42,317.37 36.00,316.50 C36.58,315.63 37.17,315.30 37.30,315.80 C37.43,316.30 37.18,318.13 36.80,319.50 C36.42,320.87 35.60,322.83 35.00,324.00 C34.40,325.17 33.62,326.25 33.20,326.50 C32.78,326.75 32.40,326.42 32.50,325.50Z" fill="#f6a868"/>
<path d="M3.90,339.50 C4.33,338.19 5.98,336.56 7.70,335.60 C9.43,334.64 13.07,333.39 15.40,333.10 C17.73,332.81 21.31,332.89 23.20,333.70 C25.09,334.51 27.13,336.91 28.00,338.50 C28.87,340.09 29.29,342.85 29.00,344.30 C28.71,345.75 27.27,347.33 26.10,348.20 C24.93,349.07 22.37,349.38 21.20,350.10 C20.03,350.82 18.59,351.85 18.30,353.00 C18.02,354.15 18.57,356.80 19.30,357.80 C20.04,358.81 21.74,359.83 23.20,359.70 C24.66,359.56 27.56,357.75 29.00,356.90 C30.44,356.04 32.50,353.24 32.80,354.00 C33.10,354.76 31.57,360.12 31.00,362.00 C30.43,363.88 29.60,365.24 29.00,366.50 C28.40,367.76 28.17,369.96 27.00,370.40 C25.83,370.83 22.94,369.98 21.20,369.40 C19.46,368.81 16.99,367.65 15.40,366.50 C13.81,365.35 11.75,363.29 10.60,361.70 C9.45,360.11 8.27,357.64 7.70,355.90 C7.13,354.16 7.23,351.84 6.80,350.10 C6.37,348.36 5.23,345.89 4.80,344.30 C4.37,342.71 3.46,340.81 3.90,339.50Z" fill="#f6a868"/>
<path d="M29.00,356.90 C29.68,355.46 31.84,354.58 33.00,354.00 C34.16,353.42 34.99,353.30 36.70,353.00 C38.41,352.70 42.66,351.56 44.40,352.00 C46.14,352.44 47.14,354.31 48.30,355.90 C49.45,357.49 50.95,361.01 52.10,362.60 C53.26,364.19 55.13,365.05 56.00,366.50 C56.87,367.95 57.90,370.71 57.90,372.30 C57.90,373.89 57.01,376.23 56.00,377.10 C54.99,377.97 52.22,378.82 51.20,378.10 C50.18,377.38 49.94,373.75 49.20,372.30 C48.47,370.85 47.60,368.40 46.30,368.40 C44.99,368.40 42.38,371.56 40.50,372.30 C38.62,373.04 35.52,373.59 33.80,373.30 C32.07,373.01 29.79,371.85 29.00,370.40 C28.21,368.94 28.50,365.62 28.50,363.60 C28.50,361.58 28.32,358.34 29.00,356.90Z" fill="#2a7bc2"/>
<path d="M47.90,331.60 C48.38,329.97 49.70,330.28 50.80,330.40 C51.90,330.52 53.53,330.90 54.50,332.30 C55.47,333.70 56.37,336.75 56.60,338.80 C56.83,340.85 56.50,343.15 55.90,344.60 C55.30,346.05 53.97,347.27 53.00,347.50 C52.03,347.73 50.95,347.22 50.10,346.00 C49.25,344.78 48.27,342.60 47.90,340.20 C47.53,337.80 47.42,333.23 47.90,331.60Z" fill="#2a7bc2"/>
<path d="M61.00,351.10 C61.21,350.02 62.12,348.37 63.10,347.50 C64.08,346.63 66.42,346.17 67.50,345.30 C68.58,344.43 70.09,343.11 70.30,341.70 C70.51,340.29 68.90,337.20 68.90,335.90 C68.90,334.59 69.61,333.39 70.30,333.00 C70.99,332.61 73.23,332.66 73.50,333.30 C73.77,333.94 72.25,335.83 72.10,337.30 C71.95,338.77 71.67,341.90 72.50,343.10 C73.33,344.30 75.96,344.76 77.60,345.30 C79.23,345.84 81.89,345.83 83.40,346.70 C84.92,347.57 86.84,349.47 87.70,351.10 C88.56,352.74 89.20,355.34 89.10,357.60 C88.99,359.87 87.86,364.25 87.00,366.20 C86.14,368.15 84.81,369.69 83.40,370.60 C81.99,371.52 79.56,372.30 77.60,372.30 C75.63,372.30 71.94,371.52 70.30,370.60 C68.66,369.69 67.56,367.71 66.70,366.20 C65.84,364.69 65.35,362.23 64.60,360.50 C63.85,358.77 62.24,356.11 61.70,354.70 C61.16,353.29 60.79,352.18 61.00,351.10Z" fill="#2a7bc2"/>
<path d="M23.20,376.20 C23.83,375.40 25.08,377.30 27.00,378.10 C28.92,378.90 32.45,380.03 34.70,381.00 C36.95,381.97 38.88,382.62 40.50,383.90 C42.12,385.18 43.58,386.93 44.40,388.70 C45.22,390.47 46.05,392.88 45.40,394.50 C44.75,396.12 42.60,397.75 40.50,398.40 C38.40,399.05 35.05,399.05 32.80,398.40 C30.55,397.75 28.45,396.12 27.00,394.50 C25.55,392.88 24.73,390.63 24.10,388.70 C23.47,386.77 23.35,384.98 23.20,382.90 C23.05,380.82 22.57,377.00 23.20,376.20Z" fill="#f6a868"/>
<path d="M25.50,388.00 C26.33,387.83 28.25,389.00 30.00,390.00 C31.75,391.00 34.33,392.75 36.00,394.00 C37.67,395.25 40.50,396.73 40.00,397.50 C39.50,398.27 35.08,399.02 33.00,398.60 C30.92,398.18 28.83,396.27 27.50,395.00 C26.17,393.73 25.33,392.17 25.00,391.00 C24.67,389.83 24.67,388.17 25.50,388.00Z" fill="#2a7bc2"/>
</g>
<g clip-path="url(#gclip)">
<circle cx="11.8" cy="351.0" r="0.5" fill="#fbc89a" opacity="0.85"/>
<circle cx="13.9" cy="367.2" r="0.5" fill="#fbc89a" opacity="0.85"/>
<circle cx="19.2" cy="337.1" r="0.5" fill="#fbc89a" opacity="0.85"/>
<circle cx="21.9" cy="368.2" r="0.5" fill="#fbc89a" opacity="0.85"/>
<circle cx="24.4" cy="370.1" r="0.5" fill="#ee8a3e" opacity="0.85"/>
<circle cx="9.6" cy="341.6" r="0.5" fill="#fff" opacity="0.85"/>
<circle cx="13.3" cy="346.5" r="0.5" fill="#fbc89a" opacity="0.85"/>
<circle cx="7.0" cy="360.8" r="0.5" fill="#ee8a3e" opacity="0.85"/>
<circle cx="28.7" cy="356.7" r="0.5" fill="#fbc89a" opacity="0.85"/>
<circle cx="24.3" cy="366.4" r="0.5" fill="#ee8a3e" opacity="0.85"/>
<circle cx="14.9" cy="348.7" r="0.5" fill="#fbc89a" opacity="0.85"/>
<circle cx="19.6" cy="365.8" r="0.5" fill="#fbc89a" opacity="0.85"/>
<circle cx="19.4" cy="365.3" r="0.5" fill="#fbc89a" opacity="0.85"/>
<circle cx="10.7" cy="361.1" r="0.5" fill="#fff" opacity="0.85"/>
<circle cx="30.2" cy="345.0" r="0.5" fill="#fff" opacity="0.85"/>
<circle cx="29.8" cy="340.4" r="0.5" fill="#fbc89a" opacity="0.85"/>
<circle cx="29.7" cy="338.1" r="0.5" fill="#fbc89a" opacity="0.85"/>
<circle cx="7.8" cy="336.3" r="0.5" fill="#fbc89a" opacity="0.85"/>
<circle cx="6.8" cy="364.6" r="0.5" fill="#fbc89a" opacity="0.85"/>
<circle cx="19.8" cy="359.8" r="0.5" fill="#fbc89a" opacity="0.85"/>
<circle cx="15.7" cy="359.0" r="0.5" fill="#ee8a3e" opacity="0.85"/>
<circle cx="6.8" cy="354.7" r="0.5" fill="#fff" opacity="0.85"/>
<circle cx="30.4" cy="369.8" r="0.5" fill="#ee8a3e" opacity="0.85"/>
<circle cx="24.4" cy="357.1" r="0.5" fill="#fff" opacity="0.85"/>
<circle cx="18.6" cy="359.1" r="0.5" fill="#fbc89a" opacity="0.85"/>
<circle cx="27.3" cy="351.3" r="0.5" fill="#ee8a3e" opacity="0.85"/>
<circle cx="5.1" cy="354.0" r="0.5" fill="#fbc89a" opacity="0.85"/>
<circle cx="8.3" cy="340.0" r="0.5" fill="#fbc89a" opacity="0.85"/>
<circle cx="9.0" cy="339.0" r="0.5" fill="#fff" opacity="0.85"/>
<circle cx="30.9" cy="336.6" r="0.5" fill="#ee8a3e" opacity="0.85"/>
<circle cx="7.9" cy="358.9" r="0.5" fill="#ee8a3e" opacity="0.85"/>
<circle cx="26.2" cy="345.4" r="0.5" fill="#fbc89a" opacity="0.85"/>
<circle cx="16.4" cy="346.5" r="0.5" fill="#fbc89a" opacity="0.85"/>
<circle cx="21.4" cy="333.5" r="0.5" fill="#ee8a3e" opacity="0.85"/>
<circle cx="28.5" cy="339.9" r="0.5" fill="#fbc89a" opacity="0.85"/>
<circle cx="14.4" cy="347.1" r="0.5" fill="#fbc89a" opacity="0.85"/>
<circle cx="21.5" cy="336.6" r="0.5" fill="#ee8a3e" opacity="0.85"/>
<circle cx="13.4" cy="336.2" r="0.5" fill="#fbc89a" opacity="0.85"/>
<circle cx="20.5" cy="340.3" r="0.5" fill="#fff" opacity="0.85"/>
<circle cx="27.3" cy="342.8" r="0.5" fill="#ee8a3e" opacity="0.85"/>
<circle cx="25.6" cy="362.6" r="0.5" fill="#fbc89a" opacity="0.85"/>
<circle cx="7.9" cy="345.5" r="0.5" fill="#fff" opacity="0.85"/>
<circle cx="26.3" cy="362.1" r="0.5" fill="#fbc89a" opacity="0.85"/>
<circle cx="10.0" cy="340.0" r="0.5" fill="#fff" opacity="0.85"/>
<circle cx="12.7" cy="336.8" r="0.5" fill="#fff" opacity="0.85"/>
<circle cx="32.7" cy="367.3" r="0.5" fill="#ee8a3e" opacity="0.85"/>
<circle cx="10.7" cy="368.9" r="0.5" fill="#fff" opacity="0.85"/>
<circle cx="13.8" cy="358.1" r="0.5" fill="#fbc89a" opacity="0.85"/>
<circle cx="19.5" cy="347.8" r="0.5" fill="#fbc89a" opacity="0.85"/>
<circle cx="22.6" cy="359.6" r="0.5" fill="#fbc89a" opacity="0.85"/>
<circle cx="32.4" cy="333.9" r="0.5" fill="#ee8a3e" opacity="0.85"/>
<circle cx="25.4" cy="342.8" r="0.5" fill="#fbc89a" opacity="0.85"/>
<circle cx="18.6" cy="361.9" r="0.5" fill="#fbc89a" opacity="0.85"/>
<circle cx="4.3" cy="342.8" r="0.5" fill="#fff" opacity="0.85"/>
<circle cx="30.3" cy="353.9" r="0.5" fill="#fbc89a" opacity="0.85"/>
<circle cx="32.0" cy="354.6" r="0.5" fill="#ee8a3e" opacity="0.85"/>
<circle cx="22.5" cy="363.8" r="0.5" fill="#ee8a3e" opacity="0.85"/>
<circle cx="19.9" cy="358.4" r="0.5" fill="#ee8a3e" opacity="0.85"/>
<circle cx="15.2" cy="368.7" r="0.5" fill="#fbc89a" opacity="0.85"/>
<circle cx="17.7" cy="339.4" r="0.5" fill="#fbc89a" opacity="0.85"/>
<circle cx="19.7" cy="355.7" r="0.5" fill="#fbc89a" opacity="0.85"/>
<circle cx="31.4" cy="349.0" r="0.5" fill="#fbc89a" opacity="0.85"/>
<circle cx="21.3" cy="346.9" r="0.5" fill="#fff" opacity="0.85"/>
<circle cx="18.0" cy="343.3" r="0.5" fill="#fff" opacity="0.85"/>
<circle cx="23.2" cy="361.4" r="0.5" fill="#ee8a3e" opacity="0.85"/>
<circle cx="4.4" cy="342.3" r="0.5" fill="#ee8a3e" opacity="0.85"/>
<circle cx="22.4" cy="348.5" r="0.5" fill="#fbc89a" opacity="0.85"/>
<circle cx="5.5" cy="345.0" r="0.5" fill="#fbc89a" opacity="0.85"/>
<circle cx="5.5" cy="370.6" r="0.5" fill="#fff" opacity="0.85"/>
<circle cx="6.1" cy="367.4" r="0.5" fill="#fbc89a" opacity="0.85"/>
<circle cx="24.9" cy="342.5" r="0.5" fill="#fbc89a" opacity="0.85"/>
<circle cx="5.3" cy="336.7" r="0.5" fill="#fbc89a" opacity="0.85"/>
<circle cx="8.2" cy="369.5" r="0.5" fill="#fbc89a" opacity="0.85"/>
<circle cx="21.5" cy="337.4" r="0.5" fill="#fbc89a" opacity="0.85"/>
<circle cx="17.2" cy="340.7" r="0.5" fill="#ee8a3e" opacity="0.85"/>
<circle cx="14.3" cy="338.9" r="0.5" fill="#fff" opacity="0.85"/>
<circle cx="16.8" cy="358.4" r="0.5" fill="#fbc89a" opacity="0.85"/>
<circle cx="21.4" cy="357.3" r="0.5" fill="#fbc89a" opacity="0.85"/>
<circle cx="14.6" cy="361.3" r="0.5" fill="#fbc89a" opacity="0.85"/>
<circle cx="31.6" cy="360.9" r="0.5" fill="#fbc89a" opacity="0.85"/>
<circle cx="18.0" cy="352.1" r="0.5" fill="#fff" opacity="0.85"/>
<circle cx="26.7" cy="356.7" r="0.5" fill="#fff" opacity="0.85"/>
<circle cx="12.0" cy="356.2" r="0.5" fill="#fbc89a" opacity="0.85"/>
<circle cx="22.4" cy="361.6" r="0.5" fill="#fbc89a" opacity="0.85"/>
<circle cx="31.6" cy="352.1" r="0.5" fill="#fbc89a" opacity="0.85"/>
<circle cx="29.5" cy="334.5" r="0.5" fill="#ee8a3e" opacity="0.85"/>
<circle cx="4.3" cy="342.9" r="0.5" fill="#ee8a3e" opacity="0.85"/>
<circle cx="22.1" cy="336.9" r="0.5" fill="#fff" opacity="0.85"/>
<circle cx="6.1" cy="336.3" r="0.5" fill="#fbc89a" opacity="0.85"/>
<circle cx="20.0" cy="357.0" r="0.5" fill="#fff" opacity="0.85"/>
<circle cx="18.0" cy="346.5" r="0.5" fill="#fff" opacity="0.85"/>
<circle cx="14.0" cy="361.3" r="0.5" fill="#ee8a3e" opacity="0.85"/>
<circle cx="27.3" cy="350.0" r="0.5" fill="#fbc89a" opacity="0.85"/>
<circle cx="16.9" cy="361.4" r="0.5" fill="#fbc89a" opacity="0.85"/>
<circle cx="27.5" cy="347.0" r="0.5" fill="#fff" opacity="0.85"/>
<circle cx="12.4" cy="361.8" r="0.5" fill="#fbc89a" opacity="0.85"/>
<circle cx="16.4" cy="347.0" r="0.5" fill="#ee8a3e" opacity="0.85"/>
<circle cx="17.4" cy="345.3" r="0.5" fill="#ee8a3e" opacity="0.85"/>
<circle cx="16.5" cy="354.6" r="0.5" fill="#fbc89a" opacity="0.85"/>
<circle cx="12.7" cy="362.5" r="0.5" fill="#ee8a3e" opacity="0.85"/>
<circle cx="13.0" cy="367.6" r="0.5" fill="#ee8a3e" opacity="0.85"/>
<circle cx="24.2" cy="351.8" r="0.5" fill="#fff" opacity="0.85"/>
<circle cx="12.2" cy="338.4" r="0.5" fill="#fff" opacity="0.85"/>
<circle cx="23.1" cy="345.4" r="0.5" fill="#ee8a3e" opacity="0.85"/>
<circle cx="13.4" cy="349.8" r="0.5" fill="#fff" opacity="0.85"/>
<circle cx="16.7" cy="363.5" r="0.5" fill="#fff" opacity="0.85"/>
<circle cx="17.3" cy="341.4" r="0.5" fill="#fbc89a" opacity="0.85"/>
<circle cx="6.4" cy="364.5" r="0.5" fill="#ee8a3e" opacity="0.85"/>
<circle cx="14.5" cy="348.0" r="0.5" fill="#fbc89a" opacity="0.85"/>
<circle cx="27.1" cy="361.1" r="0.5" fill="#fff" opacity="0.85"/>
<circle cx="27.1" cy="353.5" r="0.5" fill="#fbc89a" opacity="0.85"/>
<circle cx="9.1" cy="361.8" r="0.5" fill="#fff" opacity="0.85"/>
<circle cx="27.5" cy="341.4" r="0.5" fill="#ee8a3e" opacity="0.85"/>
<circle cx="19.8" cy="354.6" r="0.5" fill="#ee8a3e" opacity="0.85"/>
<circle cx="22.9" cy="363.6" r="0.5" fill="#ee8a3e" opacity="0.85"/>
<circle cx="20.9" cy="344.6" r="0.5" fill="#ee8a3e" opacity="0.85"/>
<circle cx="13.7" cy="343.4" r="0.5" fill="#ee8a3e" opacity="0.85"/>
<circle cx="30.1" cy="336.2" r="0.5" fill="#fbc89a" opacity="0.85"/>
<circle cx="6.8" cy="364.0" r="0.5" fill="#fbc89a" opacity="0.85"/>
<circle cx="11.1" cy="341.4" r="0.5" fill="#fff" opacity="0.85"/>
<circle cx="44.9" cy="361.7" r="0.5" fill="#fff" opacity="0.8"/>
<circle cx="41.0" cy="368.6" r="0.5" fill="#fff" opacity="0.8"/>
<circle cx="44.1" cy="362.9" r="0.5" fill="#fff" opacity="0.8"/>
<circle cx="42.8" cy="365.7" r="0.5" fill="#fff" opacity="0.8"/>
<circle cx="44.4" cy="368.0" r="0.5" fill="#fff" opacity="0.8"/>
<circle cx="41.7" cy="366.9" r="0.5" fill="#fff" opacity="0.8"/>
<circle cx="44.0" cy="367.2" r="0.5" fill="#fff" opacity="0.8"/>
<circle cx="45.3" cy="367.0" r="0.5" fill="#fff" opacity="0.8"/>
<circle cx="46.0" cy="368.5" r="0.5" fill="#fff" opacity="0.8"/>
<circle cx="43.8" cy="363.3" r="0.5" fill="#fff" opacity="0.8"/>
<circle cx="44.4" cy="366.6" r="0.5" fill="#fff" opacity="0.8"/>
<circle cx="41.8" cy="362.0" r="0.5" fill="#fff" opacity="0.8"/>
<circle cx="39.3" cy="365.9" r="0.5" fill="#fff" opacity="0.8"/>
<circle cx="46.9" cy="361.5" r="0.5" fill="#fff" opacity="0.8"/>
<circle cx="39.5" cy="359.5" r="0.5" fill="#fff" opacity="0.8"/>
<circle cx="41.8" cy="360.5" r="0.5" fill="#fff" opacity="0.8"/>
<circle cx="46.7" cy="357.7" r="0.5" fill="#fff" opacity="0.8"/>
<circle cx="40.8" cy="358.4" r="0.5" fill="#fff" opacity="0.8"/>
<circle cx="43.8" cy="366.3" r="0.5" fill="#fff" opacity="0.8"/>
<circle cx="39.6" cy="357.7" r="0.5" fill="#fff" opacity="0.8"/>
<circle cx="42.1" cy="364.0" r="0.5" fill="#fff" opacity="0.8"/>
<circle cx="46.2" cy="357.4" r="0.5" fill="#fff" opacity="0.8"/>
<circle cx="39.0" cy="359.2" r="0.5" fill="#fff" opacity="0.8"/>
<circle cx="40.0" cy="359.8" r="0.5" fill="#fff" opacity="0.8"/>
<circle cx="44.5" cy="364.1" r="0.5" fill="#fff" opacity="0.8"/>
<circle cx="40.0" cy="359.2" r="0.5" fill="#fff" opacity="0.8"/>
<circle cx="40.5" cy="359.1" r="0.5" fill="#fff" opacity="0.8"/>
<circle cx="44.8" cy="360.7" r="0.5" fill="#fff" opacity="0.8"/>
<circle cx="42.9" cy="366.8" r="0.5" fill="#fff" opacity="0.8"/>
<circle cx="42.3" cy="360.1" r="0.5" fill="#fff" opacity="0.8"/>
<circle cx="46.0" cy="368.0" r="0.5" fill="#fff" opacity="0.8"/>
<circle cx="41.1" cy="363.6" r="0.5" fill="#fff" opacity="0.8"/>
<circle cx="46.6" cy="362.8" r="0.5" fill="#fff" opacity="0.8"/>
<circle cx="40.0" cy="357.6" r="0.5" fill="#fff" opacity="0.8"/>
<circle cx="46.5" cy="366.6" r="0.5" fill="#fff" opacity="0.8"/>
<circle cx="41.5" cy="363.3" r="0.5" fill="#fff" opacity="0.8"/>
<circle cx="42.6" cy="360.3" r="0.5" fill="#fff" opacity="0.8"/>
<circle cx="46.9" cy="364.9" r="0.5" fill="#fff" opacity="0.8"/>
<circle cx="40.1" cy="357.1" r="0.5" fill="#fff" opacity="0.8"/>
<circle cx="42.3" cy="361.5" r="0.5" fill="#fff" opacity="0.8"/>
<circle cx="37.0" cy="367.3" r="0.55" fill="#d9762e"/>
<circle cx="38.5" cy="361.3" r="0.55" fill="#f6a868"/>
<circle cx="28.6" cy="371.2" r="0.55" fill="#d9762e"/>
<circle cx="28.5" cy="367.8" r="0.55" fill="#d9762e"/>
<circle cx="29.6" cy="363.7" r="0.55" fill="#ee8a3e"/>
<circle cx="33.3" cy="356.6" r="0.55" fill="#ee8a3e"/>
<circle cx="37.5" cy="369.9" r="0.55" fill="#ee8a3e"/>
<circle cx="28.2" cy="358.4" r="0.55" fill="#d9762e"/>
<circle cx="32.7" cy="370.8" r="0.55" fill="#d9762e"/>
<circle cx="31.9" cy="372.1" r="0.55" fill="#d9762e"/>
<circle cx="32.9" cy="363.1" r="0.55" fill="#ee8a3e"/>
<circle cx="36.9" cy="361.3" r="0.55" fill="#d9762e"/>
<circle cx="28.3" cy="369.5" r="0.55" fill="#ee8a3e"/>
<circle cx="28.1" cy="361.3" r="0.55" fill="#f6a868"/>
<circle cx="28.7" cy="369.6" r="0.55" fill="#f6a868"/>
<circle cx="30.1" cy="361.1" r="0.55" fill="#d9762e"/>
<circle cx="30.0" cy="362.3" r="0.55" fill="#d9762e"/>
<circle cx="28.2" cy="354.5" r="0.55" fill="#ee8a3e"/>
<circle cx="28.4" cy="360.9" r="0.55" fill="#f6a868"/>
<circle cx="36.1" cy="368.7" r="0.55" fill="#ee8a3e"/>
<circle cx="34.6" cy="353.2" r="0.55" fill="#f6a868"/>
<circle cx="35.5" cy="362.5" r="0.55" fill="#f6a868"/>
<circle cx="33.2" cy="362.2" r="0.55" fill="#ee8a3e"/>
<circle cx="38.1" cy="369.9" r="0.55" fill="#d9762e"/>
<circle cx="29.0" cy="365.3" r="0.55" fill="#f6a868"/>
<circle cx="34.2" cy="371.7" r="0.55" fill="#d9762e"/>
<circle cx="29.9" cy="359.7" r="0.55" fill="#f6a868"/>
<circle cx="33.1" cy="354.7" r="0.55" fill="#ee8a3e"/>
<circle cx="29.0" cy="367.6" r="0.55" fill="#f6a868"/>
<circle cx="30.0" cy="358.5" r="0.55" fill="#f6a868"/>
<circle cx="35.8" cy="359.6" r="0.55" fill="#f6a868"/>
<circle cx="28.3" cy="355.8" r="0.55" fill="#ee8a3e"/>
<circle cx="28.5" cy="365.6" r="0.55" fill="#ee8a3e"/>
<circle cx="28.8" cy="361.0" r="0.55" fill="#f6a868"/>
<circle cx="33.6" cy="354.8" r="0.55" fill="#ee8a3e"/>
<circle cx="28.1" cy="372.7" r="0.55" fill="#f6a868"/>
<circle cx="31.1" cy="354.5" r="0.55" fill="#f6a868"/>
<circle cx="39.5" cy="355.8" r="0.55" fill="#ee8a3e"/>
<circle cx="36.5" cy="369.4" r="0.55" fill="#f6a868"/>
<circle cx="32.1" cy="371.4" r="0.55" fill="#d9762e"/>
<circle cx="28.0" cy="361.0" r="0.55" fill="#d9762e"/>
<circle cx="30.1" cy="368.8" r="0.55" fill="#ee8a3e"/>
<circle cx="34.7" cy="365.2" r="0.55" fill="#ee8a3e"/>
<circle cx="29.5" cy="356.8" r="0.55" fill="#f6a868"/>
<circle cx="34.5" cy="355.1" r="0.55" fill="#f6a868"/>
<circle cx="29.0" cy="359.7" r="0.55" fill="#f6a868"/>
<circle cx="37.6" cy="365.2" r="0.55" fill="#ee8a3e"/>
<circle cx="29.4" cy="363.8" r="0.55" fill="#f6a868"/>
<circle cx="33.0" cy="360.1" r="0.55" fill="#d9762e"/>
<circle cx="32.5" cy="364.5" r="0.55" fill="#ee8a3e"/>
<circle cx="40.7" cy="363.3" r="0.55" fill="#d9762e"/>
<circle cx="35.5" cy="371.7" r="0.55" fill="#d9762e"/>
<circle cx="39.9" cy="365.5" r="0.55" fill="#ee8a3e"/>
<circle cx="36.7" cy="355.7" r="0.55" fill="#f6a868"/>
<circle cx="33.4" cy="366.9" r="0.55" fill="#f6a868"/>
<circle cx="28.3" cy="370.5" r="0.55" fill="#f6a868"/>
<circle cx="31.8" cy="355.5" r="0.55" fill="#d9762e"/>
<circle cx="28.5" cy="371.1" r="0.55" fill="#d9762e"/>
<circle cx="32.9" cy="354.3" r="0.55" fill="#f6a868"/>
<circle cx="28.8" cy="367.9" r="0.55" fill="#f6a868"/>
<circle cx="33.8" cy="355.5" r="0.55" fill="#ee8a3e"/>
<circle cx="29.8" cy="370.9" r="0.55" fill="#ee8a3e"/>
<circle cx="36.4" cy="360.3" r="0.55" fill="#ee8a3e"/>
<circle cx="28.9" cy="364.0" r="0.55" fill="#ee8a3e"/>
<circle cx="31.7" cy="361.1" r="0.55" fill="#d9762e"/>
<circle cx="28.5" cy="368.1" r="0.55" fill="#d9762e"/>
<circle cx="39.1" cy="365.3" r="0.55" fill="#d9762e"/>
<circle cx="37.2" cy="353.3" r="0.55" fill="#ee8a3e"/>
<circle cx="31.1" cy="353.7" r="0.55" fill="#d9762e"/>
<circle cx="30.8" cy="364.4" r="0.55" fill="#ee8a3e"/>
<circle cx="30.3" cy="355.6" r="0.55" fill="#ee8a3e"/>
<circle cx="33.3" cy="359.6" r="0.55" fill="#d9762e"/>
<circle cx="36.8" cy="367.4" r="0.55" fill="#ee8a3e"/>
<circle cx="31.0" cy="363.0" r="0.55" fill="#ee8a3e"/>
<circle cx="31.9" cy="361.2" r="0.55" fill="#d9762e"/>
<circle cx="39.2" cy="364.3" r="0.55" fill="#f6a868"/>
<circle cx="36.2" cy="362.7" r="0.55" fill="#f6a868"/>
<circle cx="37.8" cy="370.1" r="0.55" fill="#f6a868"/>
<circle cx="37.6" cy="355.3" r="0.55" fill="#ee8a3e"/>
<circle cx="39.1" cy="363.5" r="0.55" fill="#d9762e"/>
<circle cx="32.6" cy="361.4" r="0.55" fill="#ee8a3e"/>
<circle cx="30.1" cy="354.1" r="0.55" fill="#d9762e"/>
<circle cx="34.0" cy="361.7" r="0.55" fill="#f6a868"/>
<circle cx="33.7" cy="368.0" r="0.55" fill="#f6a868"/>
<circle cx="38.6" cy="370.5" r="0.55" fill="#ee8a3e"/>
<circle cx="28.5" cy="361.9" r="0.55" fill="#d9762e"/>
<circle cx="38.5" cy="372.5" r="0.55" fill="#f6a868"/>
<circle cx="35.3" cy="363.5" r="0.55" fill="#ee8a3e"/>
<circle cx="32.9" cy="366.1" r="0.55" fill="#ee8a3e"/>
<circle cx="38.6" cy="373.0" r="0.55" fill="#d9762e"/>
<circle cx="40.3" cy="366.3" r="0.55" fill="#d9762e"/>
<circle cx="31.3" cy="369.1" r="0.55" fill="#ee8a3e"/>
<circle cx="34.5" cy="361.4" r="0.55" fill="#ee8a3e"/>
<circle cx="39.1" cy="355.0" r="0.55" fill="#ee8a3e"/>
<circle cx="28.5" cy="363.8" r="0.55" fill="#f6a868"/>
<circle cx="28.0" cy="357.9" r="0.55" fill="#f6a868"/>
<circle cx="28.0" cy="356.4" r="0.55" fill="#f6a868"/>
<circle cx="38.9" cy="369.3" r="0.55" fill="#f6a868"/>
<circle cx="28.6" cy="366.8" r="0.55" fill="#ee8a3e"/>
<circle cx="28.1" cy="353.6" r="0.55" fill="#f6a868"/>
<circle cx="30.0" cy="363.0" r="0.55" fill="#f6a868"/>
<circle cx="38.6" cy="357.1" r="0.55" fill="#d9762e"/>
<circle cx="38.9" cy="356.9" r="0.55" fill="#f6a868"/>
<circle cx="39.0" cy="353.3" r="0.55" fill="#d9762e"/>
<circle cx="38.6" cy="372.9" r="0.55" fill="#ee8a3e"/>
<circle cx="32.8" cy="357.7" r="0.55" fill="#ee8a3e"/>
<circle cx="34.5" cy="359.1" r="0.55" fill="#f6a868"/>
<circle cx="40.2" cy="358.5" r="0.55" fill="#f6a868"/>
<circle cx="35.6" cy="355.7" r="0.55" fill="#d9762e"/>
<circle cx="40.1" cy="368.6" r="0.55" fill="#f6a868"/>
<circle cx="28.2" cy="357.5" r="0.55" fill="#f6a868"/>
<circle cx="28.4" cy="366.8" r="0.55" fill="#f6a868"/>
<circle cx="28.8" cy="357.7" r="0.55" fill="#d9762e"/>
<circle cx="29.8" cy="358.5" r="0.55" fill="#d9762e"/>
<circle cx="32.6" cy="355.3" r="0.55" fill="#d9762e"/>
<circle cx="29.2" cy="359.0" r="0.55" fill="#ee8a3e"/>
<circle cx="34.8" cy="358.5" r="0.55" fill="#d9762e"/>
<circle cx="34.8" cy="362.3" r="0.55" fill="#ee8a3e"/>
<circle cx="31.5" cy="363.6" r="0.55" fill="#d9762e"/>
<circle cx="39.1" cy="353.1" r="0.55" fill="#d9762e"/>
<circle cx="29.7" cy="358.0" r="0.55" fill="#d9762e"/>
<circle cx="28.3" cy="358.7" r="0.55" fill="#ee8a3e"/>
<circle cx="29.4" cy="358.6" r="0.55" fill="#d9762e"/>
<circle cx="28.0" cy="368.8" r="0.55" fill="#ee8a3e"/>
<circle cx="40.7" cy="353.7" r="0.55" fill="#f6a868"/>
<circle cx="39.3" cy="364.7" r="0.55" fill="#ee8a3e"/>
<circle cx="39.6" cy="363.0" r="0.55" fill="#ee8a3e"/>
<circle cx="28.2" cy="368.5" r="0.55" fill="#f6a868"/>
<circle cx="30.1" cy="362.7" r="0.55" fill="#ee8a3e"/>
<circle cx="32.5" cy="363.1" r="0.55" fill="#d9762e"/>
<circle cx="35.1" cy="363.4" r="0.55" fill="#d9762e"/>
<circle cx="28.8" cy="368.6" r="0.55" fill="#ee8a3e"/>
<circle cx="28.4" cy="361.7" r="0.55" fill="#d9762e"/>
<circle cx="31.5" cy="368.5" r="0.55" fill="#d9762e"/>
<circle cx="36.9" cy="357.7" r="0.55" fill="#f6a868"/>
<circle cx="32.9" cy="370.1" r="0.55" fill="#d9762e"/>
<circle cx="32.3" cy="353.7" r="0.55" fill="#d9762e"/>
<circle cx="40.4" cy="354.1" r="0.55" fill="#f6a868"/>
<circle cx="38.5" cy="356.6" r="0.55" fill="#ee8a3e"/>
<circle cx="33.9" cy="365.2" r="0.55" fill="#f6a868"/>
<circle cx="32.3" cy="367.5" r="0.55" fill="#ee8a3e"/>
<circle cx="28.2" cy="371.1" r="0.55" fill="#d9762e"/>
<circle cx="34.4" cy="364.6" r="0.55" fill="#d9762e"/>
<circle cx="29.3" cy="355.9" r="0.55" fill="#f6a868"/>
<circle cx="31.3" cy="366.9" r="0.55" fill="#d9762e"/>
<circle cx="36.0" cy="368.6" r="0.55" fill="#d9762e"/>
<circle cx="32.3" cy="366.0" r="0.55" fill="#d9762e"/>
<circle cx="28.8" cy="358.1" r="0.55" fill="#ee8a3e"/>
<circle cx="32.2" cy="366.2" r="0.55" fill="#d9762e"/>
<circle cx="36.9" cy="354.2" r="0.55" fill="#f6a868"/>
<circle cx="31.8" cy="367.0" r="0.55" fill="#d9762e"/>
<circle cx="40.4" cy="353.8" r="0.55" fill="#f6a868"/>
<circle cx="36.3" cy="365.0" r="0.55" fill="#ee8a3e"/>
<circle cx="28.6" cy="362.1" r="0.55" fill="#d9762e"/>
<circle cx="40.7" cy="353.1" r="0.55" fill="#f6a868"/>
<circle cx="38.8" cy="355.8" r="0.55" fill="#f6a868"/>
<circle cx="33.1" cy="362.4" r="0.55" fill="#ee8a3e"/>
<circle cx="40.4" cy="366.6" r="0.55" fill="#d9762e"/>
<circle cx="36.4" cy="367.7" r="0.55" fill="#ee8a3e"/>
<circle cx="29.9" cy="355.4" r="0.55" fill="#ee8a3e"/>
<circle cx="31.2" cy="354.7" r="0.55" fill="#ee8a3e"/>
<circle cx="30.6" cy="359.7" r="0.55" fill="#d9762e"/>
<circle cx="29.1" cy="356.2" r="0.55" fill="#d9762e"/>
<circle cx="34.5" cy="354.2" r="0.55" fill="#f6a868"/>
<circle cx="33.3" cy="371.2" r="0.55" fill="#d9762e"/>
<circle cx="39.5" cy="356.5" r="0.55" fill="#f6a868"/>
<circle cx="39.7" cy="357.3" r="0.55" fill="#f6a868"/>
<circle cx="36.8" cy="357.3" r="0.55" fill="#f6a868"/>
<circle cx="29.4" cy="368.9" r="0.55" fill="#ee8a3e"/>
<circle cx="32.0" cy="361.0" r="0.55" fill="#d9762e"/>
<circle cx="31.9" cy="359.2" r="0.55" fill="#f6a868"/>
<circle cx="32.2" cy="365.5" r="0.55" fill="#ee8a3e"/>
<circle cx="38.3" cy="357.1" r="0.55" fill="#f6a868"/>
<circle cx="31.2" cy="353.9" r="0.55" fill="#f6a868"/>
<circle cx="30.6" cy="358.5" r="0.55" fill="#ee8a3e"/>
<circle cx="32.6" cy="367.8" r="0.55" fill="#d9762e"/>
<circle cx="30.9" cy="371.5" r="0.55" fill="#d9762e"/>
<circle cx="29.1" cy="355.1" r="0.55" fill="#ee8a3e"/>
<circle cx="28.6" cy="371.7" r="0.55" fill="#f6a868"/>
<circle cx="28.5" cy="357.8" r="0.55" fill="#ee8a3e"/>
<circle cx="28.0" cy="359.4" r="0.55" fill="#f6a868"/>
<circle cx="31.6" cy="370.1" r="0.55" fill="#f6a868"/>
<circle cx="30.2" cy="368.4" r="0.55" fill="#d9762e"/>
<circle cx="34.8" cy="359.0" r="0.55" fill="#d9762e"/>
<circle cx="29.3" cy="353.8" r="0.55" fill="#ee8a3e"/>
<circle cx="32.5" cy="355.6" r="0.55" fill="#ee8a3e"/>
<circle cx="30.0" cy="361.5" r="0.55" fill="#d9762e"/>
<circle cx="35.2" cy="363.3" r="0.55" fill="#d9762e"/>
<circle cx="29.5" cy="367.5" r="0.55" fill="#d9762e"/>
<circle cx="30.7" cy="370.6" r="0.55" fill="#f6a868"/>
<circle cx="32.8" cy="362.0" r="0.55" fill="#ee8a3e"/>
<circle cx="30.8" cy="370.3" r="0.55" fill="#ee8a3e"/>
<circle cx="28.3" cy="360.4" r="0.55" fill="#d9762e"/>
<circle cx="29.1" cy="353.8" r="0.55" fill="#ee8a3e"/>
<circle cx="36.2" cy="362.7" r="0.55" fill="#ee8a3e"/>
<circle cx="37.3" cy="372.5" r="0.55" fill="#f6a868"/>
<circle cx="34.7" cy="354.3" r="0.55" fill="#ee8a3e"/>
<circle cx="33.1" cy="360.1" r="0.55" fill="#ee8a3e"/>
<circle cx="40.1" cy="370.4" r="0.55" fill="#ee8a3e"/>
<circle cx="36.8" cy="358.2" r="0.55" fill="#f6a868"/>
<circle cx="28.4" cy="362.9" r="0.55" fill="#f6a868"/>
<circle cx="30.8" cy="359.6" r="0.55" fill="#f6a868"/>
<circle cx="35.4" cy="357.4" r="0.55" fill="#f6a868"/>
<circle cx="29.0" cy="368.4" r="0.55" fill="#f6a868"/>
<circle cx="34.8" cy="357.8" r="0.55" fill="#ee8a3e"/>
<circle cx="36.1" cy="371.2" r="0.55" fill="#ee8a3e"/>
<circle cx="32.0" cy="358.1" r="0.55" fill="#d9762e"/>
<circle cx="30.0" cy="371.3" r="0.55" fill="#f6a868"/>
<circle cx="28.4" cy="371.2" r="0.55" fill="#f6a868"/>
<circle cx="29.6" cy="360.5" r="0.55" fill="#d9762e"/>
<circle cx="29.9" cy="367.4" r="0.55" fill="#f6a868"/>
<circle cx="28.2" cy="353.7" r="0.55" fill="#f6a868"/>
<circle cx="38.8" cy="364.3" r="0.55" fill="#f6a868"/>
<circle cx="37.4" cy="370.7" r="0.55" fill="#d9762e"/>
<circle cx="31.9" cy="365.3" r="0.55" fill="#f6a868"/>
<circle cx="28.1" cy="367.1" r="0.55" fill="#ee8a3e"/>
<circle cx="36.6" cy="365.5" r="0.55" fill="#d9762e"/>
<circle cx="32.9" cy="365.3" r="0.55" fill="#ee8a3e"/>
<circle cx="29.7" cy="369.6" r="0.55" fill="#f6a868"/>
<circle cx="30.8" cy="371.2" r="0.55" fill="#ee8a3e"/>
<circle cx="37.2" cy="366.7" r="0.55" fill="#f6a868"/>
<circle cx="30.0" cy="360.2" r="0.55" fill="#ee8a3e"/>
<circle cx="28.6" cy="356.8" r="0.55" fill="#ee8a3e"/>
<circle cx="29.5" cy="357.4" r="0.55" fill="#d9762e"/>
<circle cx="28.0" cy="363.9" r="0.55" fill="#f6a868"/>
<circle cx="28.0" cy="363.9" r="0.55" fill="#d9762e"/>
<circle cx="36.5" cy="354.6" r="0.55" fill="#d9762e"/>
<circle cx="38.7" cy="366.8" r="0.55" fill="#f6a868"/>
<circle cx="29.5" cy="355.1" r="0.55" fill="#ee8a3e"/>
<circle cx="30.0" cy="367.3" r="0.55" fill="#d9762e"/>
<circle cx="31.0" cy="356.1" r="0.55" fill="#ee8a3e"/>
<circle cx="37.5" cy="356.2" r="0.55" fill="#d9762e"/>
<circle cx="35.2" cy="369.1" r="0.55" fill="#f6a868"/>
<circle cx="30.6" cy="358.7" r="0.55" fill="#d9762e"/>
<circle cx="34.8" cy="363.0" r="0.55" fill="#d9762e"/>
<circle cx="29.4" cy="359.5" r="0.55" fill="#ee8a3e"/>
<circle cx="39.3" cy="367.8" r="0.55" fill="#ee8a3e"/>
<circle cx="40.8" cy="369.4" r="0.55" fill="#d9762e"/>
<circle cx="30.0" cy="370.0" r="0.55" fill="#d9762e"/>
<circle cx="36.6" cy="362.6" r="0.55" fill="#ee8a3e"/>
<circle cx="34.1" cy="361.3" r="0.55" fill="#f6a868"/>
<circle cx="28.1" cy="358.1" r="0.55" fill="#d9762e"/>
<circle cx="36.0" cy="366.9" r="0.55" fill="#f6a868"/>
<circle cx="35.6" cy="358.0" r="0.55" fill="#d9762e"/>
<circle cx="35.1" cy="356.7" r="0.55" fill="#ee8a3e"/>
<circle cx="37.9" cy="369.6" r="0.55" fill="#d9762e"/>
<circle cx="40.7" cy="365.8" r="0.55" fill="#ee8a3e"/>
<circle cx="34.1" cy="369.6" r="0.55" fill="#ee8a3e"/>
<circle cx="28.5" cy="360.5" r="0.55" fill="#d9762e"/>
<circle cx="29.8" cy="366.0" r="0.55" fill="#ee8a3e"/>
<circle cx="31.9" cy="366.9" r="0.55" fill="#ee8a3e"/>
<circle cx="29.6" cy="358.4" r="0.55" fill="#f6a868"/>
<circle cx="34.2" cy="360.9" r="0.55" fill="#d9762e"/>
<circle cx="40.8" cy="354.0" r="0.55" fill="#d9762e"/>
<circle cx="40.9" cy="370.4" r="0.55" fill="#ee8a3e"/>
<circle cx="29.8" cy="367.6" r="0.55" fill="#ee8a3e"/>
<circle cx="31.1" cy="371.1" r="0.55" fill="#d9762e"/>
<circle cx="38.1" cy="356.4" r="0.55" fill="#ee8a3e"/>
<circle cx="30.0" cy="369.0" r="0.55" fill="#d9762e"/>
<circle cx="29.7" cy="360.8" r="0.55" fill="#d9762e"/>
</g>
<circle cx="69.6" cy="379.90" r="1.8" fill="#fdd0a2"/>
<text x="74.9" y="382.09999999999997" font-size="6.4" text-anchor="start" fill="#222" font-weight="normal" >d80</text>
<circle cx="69.6" cy="386.45" r="1.8" fill="#fdae6b"/>
<text x="74.9" y="388.65" font-size="6.4" text-anchor="start" fill="#222" font-weight="normal" >d103</text>
<circle cx="69.6" cy="393.00" r="1.8" fill="#fd8d3c"/>
<text x="74.9" y="395.2" font-size="6.4" text-anchor="start" fill="#222" font-weight="normal" >d125</text>
<circle cx="69.6" cy="399.55" r="1.8" fill="#e6550d"/>
<text x="74.9" y="401.74999999999994" font-size="6.4" text-anchor="start" fill="#222" font-weight="normal" >d145</text>
<circle cx="69.6" cy="406.10" r="1.8" fill="#2c7bb6"/>
<text x="74.9" y="408.29999999999995" font-size="6.4" text-anchor="start" fill="#222" font-weight="normal" >Adult</text>
<circle cx="134" cy="316.1" r="1.8" fill="#2c7bb6"/><circle cx="134" cy="322.2" r="1.8" fill="#777"/>
<text x="138.2" y="318.3" font-size="6.3" text-anchor="start" fill="#222" font-weight="normal" >Adult</text>
<text x="138.2" y="324.4" font-size="6.3" text-anchor="start" fill="#222" font-weight="normal" >Fetal</text>
<g transform="translate(103.1,149.8) scale(0.53)">
<path d="M32.50,325.50 C32.60,324.58 33.22,322.50 33.80,321.00 C34.38,319.50 35.42,317.37 36.00,316.50 C36.58,315.63 37.17,315.30 37.30,315.80 C37.43,316.30 37.18,318.13 36.80,319.50 C36.42,320.87 35.60,322.83 35.00,324.00 C34.40,325.17 33.62,326.25 33.20,326.50 C32.78,326.75 32.40,326.42 32.50,325.50Z" fill="#555"/>
<path d="M3.90,339.50 C4.33,338.19 5.98,336.56 7.70,335.60 C9.43,334.64 13.07,333.39 15.40,333.10 C17.73,332.81 21.31,332.89 23.20,333.70 C25.09,334.51 27.13,336.91 28.00,338.50 C28.87,340.09 29.29,342.85 29.00,344.30 C28.71,345.75 27.27,347.33 26.10,348.20 C24.93,349.07 22.37,349.38 21.20,350.10 C20.03,350.82 18.59,351.85 18.30,353.00 C18.02,354.15 18.57,356.80 19.30,357.80 C20.04,358.81 21.74,359.83 23.20,359.70 C24.66,359.56 27.56,357.75 29.00,356.90 C30.44,356.04 32.50,353.24 32.80,354.00 C33.10,354.76 31.57,360.12 31.00,362.00 C30.43,363.88 29.60,365.24 29.00,366.50 C28.40,367.76 28.17,369.96 27.00,370.40 C25.83,370.83 22.94,369.98 21.20,369.40 C19.46,368.81 16.99,367.65 15.40,366.50 C13.81,365.35 11.75,363.29 10.60,361.70 C9.45,360.11 8.27,357.64 7.70,355.90 C7.13,354.16 7.23,351.84 6.80,350.10 C6.37,348.36 5.23,345.89 4.80,344.30 C4.37,342.71 3.46,340.81 3.90,339.50Z" fill="#7a7a7a"/>
<path d="M29.00,356.90 C29.68,355.46 31.84,354.58 33.00,354.00 C34.16,353.42 34.99,353.30 36.70,353.00 C38.41,352.70 42.66,351.56 44.40,352.00 C46.14,352.44 47.14,354.31 48.30,355.90 C49.45,357.49 50.95,361.01 52.10,362.60 C53.26,364.19 55.13,365.05 56.00,366.50 C56.87,367.95 57.90,370.71 57.90,372.30 C57.90,373.89 57.01,376.23 56.00,377.10 C54.99,377.97 52.22,378.82 51.20,378.10 C50.18,377.38 49.94,373.75 49.20,372.30 C48.47,370.85 47.60,368.40 46.30,368.40 C44.99,368.40 42.38,371.56 40.50,372.30 C38.62,373.04 35.52,373.59 33.80,373.30 C32.07,373.01 29.79,371.85 29.00,370.40 C28.21,368.94 28.50,365.62 28.50,363.60 C28.50,361.58 28.32,358.34 29.00,356.90Z" fill="#2a7bc2"/>
<path d="M47.90,331.60 C48.38,329.97 49.70,330.28 50.80,330.40 C51.90,330.52 53.53,330.90 54.50,332.30 C55.47,333.70 56.37,336.75 56.60,338.80 C56.83,340.85 56.50,343.15 55.90,344.60 C55.30,346.05 53.97,347.27 53.00,347.50 C52.03,347.73 50.95,347.22 50.10,346.00 C49.25,344.78 48.27,342.60 47.90,340.20 C47.53,337.80 47.42,333.23 47.90,331.60Z" fill="#2a7bc2"/>
<path d="M61.00,351.10 C61.21,350.02 62.12,348.37 63.10,347.50 C64.08,346.63 66.42,346.17 67.50,345.30 C68.58,344.43 70.09,343.11 70.30,341.70 C70.51,340.29 68.90,337.20 68.90,335.90 C68.90,334.59 69.61,333.39 70.30,333.00 C70.99,332.61 73.23,332.66 73.50,333.30 C73.77,333.94 72.25,335.83 72.10,337.30 C71.95,338.77 71.67,341.90 72.50,343.10 C73.33,344.30 75.96,344.76 77.60,345.30 C79.23,345.84 81.89,345.83 83.40,346.70 C84.92,347.57 86.84,349.47 87.70,351.10 C88.56,352.74 89.20,355.34 89.10,357.60 C88.99,359.87 87.86,364.25 87.00,366.20 C86.14,368.15 84.81,369.69 83.40,370.60 C81.99,371.52 79.56,372.30 77.60,372.30 C75.63,372.30 71.94,371.52 70.30,370.60 C68.66,369.69 67.56,367.71 66.70,366.20 C65.84,364.69 65.35,362.23 64.60,360.50 C63.85,358.77 62.24,356.11 61.70,354.70 C61.16,353.29 60.79,352.18 61.00,351.10Z" fill="#2a7bc2"/>
<path d="M23.20,376.20 C23.83,375.40 25.08,377.30 27.00,378.10 C28.92,378.90 32.45,380.03 34.70,381.00 C36.95,381.97 38.88,382.62 40.50,383.90 C42.12,385.18 43.58,386.93 44.40,388.70 C45.22,390.47 46.05,392.88 45.40,394.50 C44.75,396.12 42.60,397.75 40.50,398.40 C38.40,399.05 35.05,399.05 32.80,398.40 C30.55,397.75 28.45,396.12 27.00,394.50 C25.55,392.88 24.73,390.63 24.10,388.70 C23.47,386.77 23.35,384.98 23.20,382.90 C23.05,380.82 22.57,377.00 23.20,376.20Z" fill="#7a7a7a"/>
<path d="M25.50,388.00 C26.33,387.83 28.25,389.00 30.00,390.00 C31.75,391.00 34.33,392.75 36.00,394.00 C37.67,395.25 40.50,396.73 40.00,397.50 C39.50,398.27 35.08,399.02 33.00,398.60 C30.92,398.18 28.83,396.27 27.50,395.00 C26.17,393.73 25.33,392.17 25.00,391.00 C24.67,389.83 24.67,388.17 25.50,388.00Z" fill="#2a7bc2"/>
</g>
<g transform="translate(105.70,228.70) scale(0.48)">
<path d="M124.60,209.60 C125.37,208.32 127.42,206.73 129.20,205.70 C130.98,204.67 133.00,203.90 135.30,203.40 C137.60,202.90 140.70,202.32 143.00,202.70 C145.30,203.08 147.82,204.17 149.10,205.70 C150.38,207.23 150.57,209.85 150.70,211.90 C150.83,213.95 150.42,216.47 149.90,218.00 C149.38,219.53 148.75,220.58 147.60,221.10 C146.45,221.62 144.28,220.60 143.00,221.10 C141.72,221.60 140.42,222.83 139.90,224.10 C139.38,225.37 139.38,226.90 139.90,228.70 C140.42,230.50 141.85,233.62 143.00,234.90 C144.15,236.18 147.13,235.80 146.80,236.40 C146.47,237.00 142.65,238.50 141.00,238.50 C139.35,238.50 138.35,237.52 136.90,236.40 C135.45,235.28 133.58,233.58 132.30,231.80 C131.02,230.02 130.10,228.00 129.20,225.70 C128.30,223.40 127.67,220.05 126.90,218.00 C126.13,215.95 124.98,214.80 124.60,213.40 C124.22,212.00 123.83,210.88 124.60,209.60Z" fill="#7d7d7d"/>
<path d="M139.90,234.90 C140.92,233.37 145.30,231.72 147.60,230.30 C149.90,228.88 151.40,227.43 153.70,226.40 C156.00,225.37 158.83,224.48 161.40,224.10 C163.97,223.72 167.18,223.58 169.10,224.10 C171.02,224.62 171.88,225.40 172.90,227.20 C173.92,229.00 174.57,232.60 175.20,234.90 C175.83,237.20 177.22,239.22 176.70,241.00 C176.18,242.78 174.13,244.58 172.10,245.60 C170.07,246.62 167.30,247.10 164.50,247.10 C161.70,247.10 158.12,246.37 155.30,245.60 C152.48,244.83 149.90,243.52 147.60,242.50 C145.30,241.48 142.78,240.77 141.50,239.50 C140.22,238.23 138.88,236.43 139.90,234.90Z" fill="#e08a50"/>
<path d="M170.60,228.00 C171.05,227.73 173.53,231.52 175.20,233.30 C176.87,235.08 179.07,236.65 180.60,238.70 C182.13,240.75 183.88,243.68 184.40,245.60 C184.92,247.52 184.60,249.30 183.70,250.20 C182.80,251.10 180.28,251.52 179.00,251.00 C177.72,250.48 176.75,248.77 176.00,247.10 C175.25,245.43 175.08,243.03 174.50,241.00 C173.92,238.97 173.15,237.07 172.50,234.90 C171.85,232.73 170.15,228.27 170.60,228.00Z" fill="#8b3000"/>
<path d="M174.40,201.10 C175.68,200.72 178.38,200.87 179.80,201.90 C181.22,202.93 182.25,205.52 182.90,207.30 C183.55,209.08 183.45,211.33 183.70,212.60 C183.95,213.87 185.05,214.00 184.40,214.90 C183.75,215.80 180.95,217.23 179.80,218.00 C178.65,218.77 178.13,219.75 177.50,219.50 C176.87,219.25 176.77,218.03 176.00,216.50 C175.23,214.97 173.55,212.35 172.90,210.30 C172.25,208.25 171.85,205.73 172.10,204.20 C172.35,202.67 173.12,201.48 174.40,201.10Z" fill="#d6d6d6"/>
<path d="M190.60,221.10 C191.88,219.43 194.15,217.85 196.70,217.20 C199.25,216.55 203.08,216.82 205.90,217.20 C208.72,217.58 211.68,218.08 213.60,219.50 C215.52,220.92 216.63,223.40 217.40,225.70 C218.17,228.00 218.58,230.75 218.20,233.30 C217.82,235.85 216.63,238.95 215.10,241.00 C213.57,243.05 211.30,244.70 209.00,245.60 C206.70,246.50 203.87,246.92 201.30,246.40 C198.73,245.88 195.52,244.42 193.60,242.50 C191.68,240.58 190.57,237.45 189.80,234.90 C189.03,232.35 188.87,229.50 189.00,227.20 C189.13,224.90 189.32,222.77 190.60,221.10Z" fill="#d6d6d6"/>
<path d="M195.90,203.40 C196.22,202.78 197.60,202.70 198.50,202.80 C199.40,202.90 200.95,202.97 201.30,204.00 C201.65,205.03 200.78,207.33 200.60,209.00 C200.42,210.67 200.53,213.17 200.20,214.00 C199.87,214.83 199.00,214.83 198.60,214.00 C198.20,213.17 198.13,210.25 197.80,209.00 C197.47,207.75 196.92,207.43 196.60,206.50 C196.28,205.57 195.58,204.02 195.90,203.40Z" fill="#d6d6d6"/>
<path d="M146.70,250.80 C147.42,249.63 149.23,251.30 151.00,252.00 C152.77,252.70 155.30,254.00 157.30,255.00 C159.30,256.00 161.23,256.70 163.00,258.00 C164.77,259.30 166.60,260.55 167.90,262.80 C169.20,265.05 171.12,269.55 170.80,271.50 C170.48,273.45 167.77,273.85 166.00,274.50 C164.23,275.15 162.20,275.82 160.20,275.40 C158.20,274.98 155.77,273.13 154.00,272.00 C152.23,270.87 150.68,270.10 149.60,268.60 C148.52,267.10 147.98,264.60 147.50,263.00 C147.02,261.40 146.83,261.03 146.70,259.00 C146.57,256.97 145.98,251.97 146.70,250.80Z" fill="#d6d6d6"/>
<path d="M161.50,183.70 C161.95,183.53 162.95,184.03 163.00,185.00 C163.05,185.97 162.55,188.08 161.80,189.50 C161.05,190.92 159.47,192.62 158.50,193.50 C157.53,194.38 156.45,194.75 156.00,194.80 C155.55,194.85 155.37,194.60 155.80,193.80 C156.23,193.00 157.85,191.30 158.60,190.00 C159.35,188.70 159.82,187.05 160.30,186.00 C160.78,184.95 161.05,183.87 161.50,183.70Z" fill="#d43fe2"/>
</g>
<g transform="translate(46.20,276.50) scale(0.48)">
<path d="M124.60,209.60 C125.37,208.32 127.42,206.73 129.20,205.70 C130.98,204.67 133.00,203.90 135.30,203.40 C137.60,202.90 140.70,202.32 143.00,202.70 C145.30,203.08 147.82,204.17 149.10,205.70 C150.38,207.23 150.57,209.85 150.70,211.90 C150.83,213.95 150.42,216.47 149.90,218.00 C149.38,219.53 148.75,220.58 147.60,221.10 C146.45,221.62 144.28,220.60 143.00,221.10 C141.72,221.60 140.42,222.83 139.90,224.10 C139.38,225.37 139.38,226.90 139.90,228.70 C140.42,230.50 141.85,233.62 143.00,234.90 C144.15,236.18 147.13,235.80 146.80,236.40 C146.47,237.00 142.65,238.50 141.00,238.50 C139.35,238.50 138.35,237.52 136.90,236.40 C135.45,235.28 133.58,233.58 132.30,231.80 C131.02,230.02 130.10,228.00 129.20,225.70 C128.30,223.40 127.67,220.05 126.90,218.00 C126.13,215.95 124.98,214.80 124.60,213.40 C124.22,212.00 123.83,210.88 124.60,209.60Z" fill="#777"/>
<path d="M139.90,234.90 C140.92,233.37 145.30,231.72 147.60,230.30 C149.90,228.88 151.40,227.43 153.70,226.40 C156.00,225.37 158.83,224.48 161.40,224.10 C163.97,223.72 167.18,223.58 169.10,224.10 C171.02,224.62 171.88,225.40 172.90,227.20 C173.92,229.00 174.57,232.60 175.20,234.90 C175.83,237.20 177.22,239.22 176.70,241.00 C176.18,242.78 174.13,244.58 172.10,245.60 C170.07,246.62 167.30,247.10 164.50,247.10 C161.70,247.10 158.12,246.37 155.30,245.60 C152.48,244.83 149.90,243.52 147.60,242.50 C145.30,241.48 142.78,240.77 141.50,239.50 C140.22,238.23 138.88,236.43 139.90,234.90Z" fill="#e08a50"/>
<path d="M170.60,228.00 C171.05,227.73 173.53,231.52 175.20,233.30 C176.87,235.08 179.07,236.65 180.60,238.70 C182.13,240.75 183.88,243.68 184.40,245.60 C184.92,247.52 184.60,249.30 183.70,250.20 C182.80,251.10 180.28,251.52 179.00,251.00 C177.72,250.48 176.75,248.77 176.00,247.10 C175.25,245.43 175.08,243.03 174.50,241.00 C173.92,238.97 173.15,237.07 172.50,234.90 C171.85,232.73 170.15,228.27 170.60,228.00Z" fill="#8b3000"/>
<path d="M174.40,201.10 C175.68,200.72 178.38,200.87 179.80,201.90 C181.22,202.93 182.25,205.52 182.90,207.30 C183.55,209.08 183.45,211.33 183.70,212.60 C183.95,213.87 185.05,214.00 184.40,214.90 C183.75,215.80 180.95,217.23 179.80,218.00 C178.65,218.77 178.13,219.75 177.50,219.50 C176.87,219.25 176.77,218.03 176.00,216.50 C175.23,214.97 173.55,212.35 172.90,210.30 C172.25,208.25 171.85,205.73 172.10,204.20 C172.35,202.67 173.12,201.48 174.40,201.10Z" fill="#d6d6d6"/>
<path d="M190.60,221.10 C191.88,219.43 194.15,217.85 196.70,217.20 C199.25,216.55 203.08,216.82 205.90,217.20 C208.72,217.58 211.68,218.08 213.60,219.50 C215.52,220.92 216.63,223.40 217.40,225.70 C218.17,228.00 218.58,230.75 218.20,233.30 C217.82,235.85 216.63,238.95 215.10,241.00 C213.57,243.05 211.30,244.70 209.00,245.60 C206.70,246.50 203.87,246.92 201.30,246.40 C198.73,245.88 195.52,244.42 193.60,242.50 C191.68,240.58 190.57,237.45 189.80,234.90 C189.03,232.35 188.87,229.50 189.00,227.20 C189.13,224.90 189.32,222.77 190.60,221.10Z" fill="#d6d6d6"/>
<path d="M195.90,203.40 C196.22,202.78 197.60,202.70 198.50,202.80 C199.40,202.90 200.95,202.97 201.30,204.00 C201.65,205.03 200.78,207.33 200.60,209.00 C200.42,210.67 200.53,213.17 200.20,214.00 C199.87,214.83 199.00,214.83 198.60,214.00 C198.20,213.17 198.13,210.25 197.80,209.00 C197.47,207.75 196.92,207.43 196.60,206.50 C196.28,205.57 195.58,204.02 195.90,203.40Z" fill="#8dc4e8"/>
<path d="M146.70,250.80 C147.42,249.63 149.23,251.30 151.00,252.00 C152.77,252.70 155.30,254.00 157.30,255.00 C159.30,256.00 161.23,256.70 163.00,258.00 C164.77,259.30 166.60,260.55 167.90,262.80 C169.20,265.05 171.12,269.55 170.80,271.50 C170.48,273.45 167.77,273.85 166.00,274.50 C164.23,275.15 162.20,275.82 160.20,275.40 C158.20,274.98 155.77,273.13 154.00,272.00 C152.23,270.87 150.68,270.10 149.60,268.60 C148.52,267.10 147.98,264.60 147.50,263.00 C147.02,261.40 146.83,261.03 146.70,259.00 C146.57,256.97 145.98,251.97 146.70,250.80Z" fill="#d6d6d6"/>
<path d="M161.50,183.70 C161.95,183.53 162.95,184.03 163.00,185.00 C163.05,185.97 162.55,188.08 161.80,189.50 C161.05,190.92 159.47,192.62 158.50,193.50 C157.53,194.38 156.45,194.75 156.00,194.80 C155.55,194.85 155.37,194.60 155.80,193.80 C156.23,193.00 157.85,191.30 158.60,190.00 C159.35,188.70 159.82,187.05 160.30,186.00 C160.78,184.95 161.05,183.87 161.50,183.70Z" fill="#d43fe2"/>
</g>
<g transform="translate(105.70,276.50) scale(0.48)">
<path d="M124.60,209.60 C125.37,208.32 127.42,206.73 129.20,205.70 C130.98,204.67 133.00,203.90 135.30,203.40 C137.60,202.90 140.70,202.32 143.00,202.70 C145.30,203.08 147.82,204.17 149.10,205.70 C150.38,207.23 150.57,209.85 150.70,211.90 C150.83,213.95 150.42,216.47 149.90,218.00 C149.38,219.53 148.75,220.58 147.60,221.10 C146.45,221.62 144.28,220.60 143.00,221.10 C141.72,221.60 140.42,222.83 139.90,224.10 C139.38,225.37 139.38,226.90 139.90,228.70 C140.42,230.50 141.85,233.62 143.00,234.90 C144.15,236.18 147.13,235.80 146.80,236.40 C146.47,237.00 142.65,238.50 141.00,238.50 C139.35,238.50 138.35,237.52 136.90,236.40 C135.45,235.28 133.58,233.58 132.30,231.80 C131.02,230.02 130.10,228.00 129.20,225.70 C128.30,223.40 127.67,220.05 126.90,218.00 C126.13,215.95 124.98,214.80 124.60,213.40 C124.22,212.00 123.83,210.88 124.60,209.60Z" fill="#c8c8c8"/>
<path d="M139.90,234.90 C140.92,233.37 145.30,231.72 147.60,230.30 C149.90,228.88 151.40,227.43 153.70,226.40 C156.00,225.37 158.83,224.48 161.40,224.10 C163.97,223.72 167.18,223.58 169.10,224.10 C171.02,224.62 171.88,225.40 172.90,227.20 C173.92,229.00 174.57,232.60 175.20,234.90 C175.83,237.20 177.22,239.22 176.70,241.00 C176.18,242.78 174.13,244.58 172.10,245.60 C170.07,246.62 167.30,247.10 164.50,247.10 C161.70,247.10 158.12,246.37 155.30,245.60 C152.48,244.83 149.90,243.52 147.60,242.50 C145.30,241.48 142.78,240.77 141.50,239.50 C140.22,238.23 138.88,236.43 139.90,234.90Z" fill="#e08a50"/>
<path d="M170.60,228.00 C171.05,227.73 173.53,231.52 175.20,233.30 C176.87,235.08 179.07,236.65 180.60,238.70 C182.13,240.75 183.88,243.68 184.40,245.60 C184.92,247.52 184.60,249.30 183.70,250.20 C182.80,251.10 180.28,251.52 179.00,251.00 C177.72,250.48 176.75,248.77 176.00,247.10 C175.25,245.43 175.08,243.03 174.50,241.00 C173.92,238.97 173.15,237.07 172.50,234.90 C171.85,232.73 170.15,228.27 170.60,228.00Z" fill="#8b3000"/>
<path d="M174.40,201.10 C175.68,200.72 178.38,200.87 179.80,201.90 C181.22,202.93 182.25,205.52 182.90,207.30 C183.55,209.08 183.45,211.33 183.70,212.60 C183.95,213.87 185.05,214.00 184.40,214.90 C183.75,215.80 180.95,217.23 179.80,218.00 C178.65,218.77 178.13,219.75 177.50,219.50 C176.87,219.25 176.77,218.03 176.00,216.50 C175.23,214.97 173.55,212.35 172.90,210.30 C172.25,208.25 171.85,205.73 172.10,204.20 C172.35,202.67 173.12,201.48 174.40,201.10Z" fill="#d6d6d6"/>
<path d="M190.60,221.10 C191.88,219.43 194.15,217.85 196.70,217.20 C199.25,216.55 203.08,216.82 205.90,217.20 C208.72,217.58 211.68,218.08 213.60,219.50 C215.52,220.92 216.63,223.40 217.40,225.70 C218.17,228.00 218.58,230.75 218.20,233.30 C217.82,235.85 216.63,238.95 215.10,241.00 C213.57,243.05 211.30,244.70 209.00,245.60 C206.70,246.50 203.87,246.92 201.30,246.40 C198.73,245.88 195.52,244.42 193.60,242.50 C191.68,240.58 190.57,237.45 189.80,234.90 C189.03,232.35 188.87,229.50 189.00,227.20 C189.13,224.90 189.32,222.77 190.60,221.10Z" fill="#f5df40"/>
<path d="M195.90,203.40 C196.22,202.78 197.60,202.70 198.50,202.80 C199.40,202.90 200.95,202.97 201.30,204.00 C201.65,205.03 200.78,207.33 200.60,209.00 C200.42,210.67 200.53,213.17 200.20,214.00 C199.87,214.83 199.00,214.83 198.60,214.00 C198.20,213.17 198.13,210.25 197.80,209.00 C197.47,207.75 196.92,207.43 196.60,206.50 C196.28,205.57 195.58,204.02 195.90,203.40Z" fill="#8dc4e8"/>
<path d="M146.70,250.80 C147.42,249.63 149.23,251.30 151.00,252.00 C152.77,252.70 155.30,254.00 157.30,255.00 C159.30,256.00 161.23,256.70 163.00,258.00 C164.77,259.30 166.60,260.55 167.90,262.80 C169.20,265.05 171.12,269.55 170.80,271.50 C170.48,273.45 167.77,273.85 166.00,274.50 C164.23,275.15 162.20,275.82 160.20,275.40 C158.20,274.98 155.77,273.13 154.00,272.00 C152.23,270.87 150.68,270.10 149.60,268.60 C148.52,267.10 147.98,264.60 147.50,263.00 C147.02,261.40 146.83,261.03 146.70,259.00 C146.57,256.97 145.98,251.97 146.70,250.80Z" fill="#d6d6d6"/>
<path d="M161.50,183.70 C161.95,183.53 162.95,184.03 163.00,185.00 C163.05,185.97 162.55,188.08 161.80,189.50 C161.05,190.92 159.47,192.62 158.50,193.50 C157.53,194.38 156.45,194.75 156.00,194.80 C155.55,194.85 155.37,194.60 155.80,193.80 C156.23,193.00 157.85,191.30 158.60,190.00 C159.35,188.70 159.82,187.05 160.30,186.00 C160.78,184.95 161.05,183.87 161.50,183.70Z" fill="#d43fe2"/>
</g>
<path d="M105.3,378.6 C108,374 112,372.5 117,371 C120,370 122.5,368.5 123.6,365.2" stroke="#d43fe2" stroke-width="1.1" fill="none"/>
<path d="M137,375 C135.5,380 135,386 137.5,392.5 L140.5,391 C139.5,386 139.5,380 141,375.5Z" fill="#f5df40"/>
<circle cx="180.8" cy="351.2" r="0.45" fill="#2626c8"/>
<circle cx="182.6" cy="356.8" r="0.45" fill="#2626c8"/>
<circle cx="178.7" cy="352.6" r="0.45" fill="#2626c8"/>
<circle cx="185.8" cy="354.3" r="0.45" fill="#2626c8"/>
<circle cx="185.5" cy="355.5" r="0.45" fill="#2626c8"/>
<circle cx="186.2" cy="359.0" r="0.45" fill="#2626c8"/>
<circle cx="181.0" cy="351.3" r="0.45" fill="#2626c8"/>
<circle cx="186.0" cy="352.5" r="0.45" fill="#2626c8"/>
<circle cx="182.5" cy="352.6" r="0.45" fill="#2626c8"/>
<circle cx="180.7" cy="353.1" r="0.45" fill="#2626c8"/>
<circle cx="177.2" cy="351.8" r="0.45" fill="#2626c8"/>
<circle cx="182.3" cy="355.6" r="0.45" fill="#2626c8"/>
<circle cx="177.9" cy="349.7" r="0.45" fill="#2626c8"/>
<circle cx="184.7" cy="356.7" r="0.45" fill="#2626c8"/>
<path d="M176.3,349.7 L182.5,352.5" stroke="#2626c8" stroke-width="0.7"/>
<circle cx="116.8" cy="401.0" r="0.45" fill="#2626c8"/>
<circle cx="118.3" cy="405.8" r="0.45" fill="#2626c8"/>
<circle cx="127.7" cy="401.8" r="0.45" fill="#2626c8"/>
<circle cx="117.1" cy="401.2" r="0.45" fill="#2626c8"/>
<circle cx="122.9" cy="403.3" r="0.45" fill="#2626c8"/>
<circle cx="119.1" cy="404.0" r="0.45" fill="#2626c8"/>
<circle cx="125.9" cy="400.1" r="0.45" fill="#2626c8"/>
<circle cx="118.8" cy="400.5" r="0.45" fill="#2626c8"/>
<circle cx="119.5" cy="406.0" r="0.45" fill="#2626c8"/>
<circle cx="123.1" cy="407.4" r="0.45" fill="#2626c8"/>
<circle cx="117.3" cy="406.5" r="0.45" fill="#2626c8"/>
<circle cx="127.2" cy="403.2" r="0.45" fill="#2626c8"/>
<circle cx="124.2" cy="400.3" r="0.45" fill="#2626c8"/>
<circle cx="117.0" cy="403.3" r="0.45" fill="#2626c8"/>
<path d="M116.8,397.5 L123.0,400.3" stroke="#2626c8" stroke-width="0.7"/>
<circle cx="177.0" cy="402.4" r="0.45" fill="#2626c8"/>
<circle cx="186.0" cy="398.1" r="0.45" fill="#2626c8"/>
<circle cx="180.3" cy="405.6" r="0.45" fill="#2626c8"/>
<circle cx="179.2" cy="400.0" r="0.45" fill="#2626c8"/>
<circle cx="186.5" cy="402.7" r="0.45" fill="#2626c8"/>
<circle cx="179.7" cy="403.1" r="0.45" fill="#2626c8"/>
<circle cx="183.6" cy="405.9" r="0.45" fill="#2626c8"/>
<circle cx="184.7" cy="407.3" r="0.45" fill="#2626c8"/>
<circle cx="181.6" cy="406.3" r="0.45" fill="#2626c8"/>
<circle cx="180.8" cy="407.0" r="0.45" fill="#2626c8"/>
<circle cx="183.1" cy="397.6" r="0.45" fill="#2626c8"/>
<circle cx="177.8" cy="400.9" r="0.45" fill="#2626c8"/>
<circle cx="184.3" cy="402.8" r="0.45" fill="#2626c8"/>
<circle cx="179.3" cy="407.9" r="0.45" fill="#2626c8"/>
<path d="M176.3,397.5 L182.5,400.3" stroke="#2626c8" stroke-width="0.7"/>
<path d="M190.2,333.3 L195.0,331.4" stroke="#7a4a3a" stroke-width="1"/>
<path d="M130.7,381.1 L135.5,379.2" stroke="#7a4a3a" stroke-width="1"/>
<path d="M190.2,381.1 L195.0,379.2" stroke="#7a4a3a" stroke-width="1"/>
<text x="199.2" y="322.5" font-size="6.3" text-anchor="middle" fill="#222" font-weight="normal" >PSC</text>
<text x="141.4" y="370.8" font-size="6.3" text-anchor="middle" fill="#222" font-weight="normal" >FSC</text>
<text x="199.2" y="371.3" font-size="6.3" text-anchor="middle" fill="#222" font-weight="normal" >ASC</text>
<text x="0.9" y="9.4" font-size="12.7" text-anchor="start" fill="#000" font-weight="bold" stroke="#000" stroke-width="0.35">a</text>
<text x="228.2" y="8.9" font-size="12.7" text-anchor="start" fill="#000" font-weight="bold" stroke="#000" stroke-width="0.35">b</text>
<text x="402.6" y="107" font-size="12.7" text-anchor="start" fill="#000" font-weight="bold" stroke="#000" stroke-width="0.35">c</text>
<text x="516.4" y="8.8" font-size="12.7" text-anchor="start" fill="#000" font-weight="bold" stroke="#000" stroke-width="0.35">d</text>
<text x="1.0" y="185.9" font-size="12.7" text-anchor="start" fill="#000" font-weight="bold" stroke="#000" stroke-width="0.35">e</text>
<text x="119.8" y="186.5" font-size="12.7" text-anchor="start" fill="#000" font-weight="bold" stroke="#000" stroke-width="0.35">f</text>
<text x="-0.8" y="321.2" font-size="12.7" text-anchor="start" fill="#000" font-weight="bold" stroke="#000" stroke-width="0.35">g</text>
<text x="100.1" y="321.6" font-size="12.7" text-anchor="start" fill="#000" font-weight="bold" stroke="#000" stroke-width="0.35">h</text>
<text x="232.2" y="203" font-size="12.7" text-anchor="start" fill="#000" font-weight="bold" stroke="#000" stroke-width="0.35">i</text>
<text x="232.6" y="286.2" font-size="12.7" text-anchor="start" fill="#000" font-weight="bold" stroke="#000" stroke-width="0.35">j</text>
<text x="232.4" y="373.6" font-size="12.7" text-anchor="start" fill="#000" font-weight="bold" stroke="#000" stroke-width="0.35">k</text>
<rect x="264.60" y="203.50" width="109.90" height="73.10" fill="none" stroke="#6f6f6f" stroke-width="0.9"/>
<rect x="264.60" y="286.30" width="109.90" height="72.90" fill="none" stroke="#6f6f6f" stroke-width="0.9"/>
<rect x="264.60" y="373.30" width="109.90" height="32.50" fill="none" stroke="#6f6f6f" stroke-width="0.9"/>
<rect x="266.40" y="268.68" width="5.30" height="7.32" fill="#e8894f" />
<rect x="266.40" y="207.59" width="5.30" height="61.08" fill="#7b7b7b" />
<rect x="266.40" y="206.90" width="5.30" height="0.69" fill="#f5df41" />
<line x1="266.40" y1="356.40" x2="271.70" y2="356.40" stroke="#8a8a8a" stroke-width="0.9" />
<rect x="266.40" y="375.00" width="5.30" height="0.30" fill="#1474c8" />
<rect x="266.40" y="375.30" width="5.30" height="30.10" fill="#7b7b7b" />
<rect x="274.13" y="273.03" width="5.30" height="2.97" fill="#e8894f" />
<rect x="274.13" y="206.90" width="5.30" height="66.13" fill="#7b7b7b" />
<line x1="276.78" y1="355.07" x2="276.78" y2="355.07" stroke="#b8b8b8" stroke-width="0.7" />
<line x1="276.78" y1="356.40" x2="276.78" y2="356.40" stroke="#b8b8b8" stroke-width="0.7" />
<line x1="275.58" y1="355.07" x2="277.98" y2="355.07" stroke="#b8b8b8" stroke-width="0.7" />
<line x1="275.58" y1="356.40" x2="277.98" y2="356.40" stroke="#b8b8b8" stroke-width="0.7" />
<rect x="274.33" y="355.07" width="4.90" height="1.33" fill="#56b4cb" stroke="#6a6a6a" stroke-width="0.35"/>
<line x1="274.33" y1="355.74" x2="279.23" y2="355.74" stroke="#555" stroke-width="0.6" />
<rect x="274.13" y="375.00" width="5.30" height="0.30" fill="#1474c8" />
<rect x="274.13" y="375.30" width="5.30" height="30.10" fill="#7b7b7b" />
<rect x="281.86" y="249.95" width="5.30" height="26.05" fill="#e8894f" />
<rect x="281.86" y="207.94" width="5.30" height="42.01" fill="#7b7b7b" />
<rect x="281.86" y="206.90" width="5.30" height="1.04" fill="#8b2f02" />
<line x1="284.51" y1="339.14" x2="284.51" y2="349.76" stroke="#b8b8b8" stroke-width="0.7" />
<line x1="284.51" y1="356.40" x2="284.51" y2="356.40" stroke="#b8b8b8" stroke-width="0.7" />
<line x1="283.31" y1="339.14" x2="285.71" y2="339.14" stroke="#b8b8b8" stroke-width="0.7" />
<line x1="283.31" y1="356.40" x2="285.71" y2="356.40" stroke="#b8b8b8" stroke-width="0.7" />
<rect x="282.06" y="349.76" width="4.90" height="6.64" fill="#56b4cb" stroke="#6a6a6a" stroke-width="0.35"/>
<line x1="282.06" y1="355.07" x2="286.96" y2="355.07" stroke="#555" stroke-width="0.6" />
<rect x="281.86" y="375.00" width="5.30" height="2.74" fill="#1474c8" />
<rect x="281.86" y="377.74" width="5.30" height="27.66" fill="#7b7b7b" />
<rect x="289.59" y="252.30" width="5.30" height="23.70" fill="#e8894f" />
<rect x="289.59" y="207.94" width="5.30" height="44.36" fill="#7b7b7b" />
<rect x="289.59" y="206.90" width="5.30" height="1.04" fill="#c98a2a" />
<line x1="292.24" y1="353.08" x2="292.24" y2="354.41" stroke="#b8b8b8" stroke-width="0.7" />
<line x1="292.24" y1="356.40" x2="292.24" y2="356.40" stroke="#b8b8b8" stroke-width="0.7" />
<line x1="291.04" y1="353.08" x2="293.44" y2="353.08" stroke="#b8b8b8" stroke-width="0.7" />
<line x1="291.04" y1="356.40" x2="293.44" y2="356.40" stroke="#b8b8b8" stroke-width="0.7" />
<rect x="289.79" y="354.41" width="4.90" height="1.99" fill="#56b4cb" stroke="#6a6a6a" stroke-width="0.35"/>
<line x1="289.79" y1="355.07" x2="294.69" y2="355.07" stroke="#555" stroke-width="0.6" />
<rect x="289.59" y="375.00" width="5.30" height="1.52" fill="#1474c8" />
<rect x="289.59" y="376.52" width="5.30" height="28.88" fill="#7b7b7b" />
<rect x="297.32" y="206.90" width="5.30" height="69.10" fill="#7b7b7b" />
<line x1="299.97" y1="355.07" x2="299.97" y2="355.07" stroke="#b8b8b8" stroke-width="0.7" />
<line x1="299.97" y1="356.40" x2="299.97" y2="356.40" stroke="#b8b8b8" stroke-width="0.7" />
<line x1="298.77" y1="355.07" x2="301.17" y2="355.07" stroke="#b8b8b8" stroke-width="0.7" />
<line x1="298.77" y1="356.40" x2="301.17" y2="356.40" stroke="#b8b8b8" stroke-width="0.7" />
<rect x="297.52" y="355.07" width="4.90" height="1.33" fill="#56b4cb" stroke="#6a6a6a" stroke-width="0.35"/>
<line x1="297.52" y1="355.74" x2="302.42" y2="355.74" stroke="#555" stroke-width="0.6" />
<rect x="297.32" y="375.00" width="5.30" height="0.00" fill="#1474c8" />
<rect x="297.32" y="375.00" width="5.30" height="30.40" fill="#7b7b7b" />
<rect x="305.05" y="273.65" width="5.30" height="2.35" fill="#e8894f" />
<rect x="305.05" y="209.32" width="5.30" height="64.33" fill="#7b7b7b" />
<rect x="305.05" y="208.63" width="5.30" height="0.69" fill="#8cc5ea" />
<rect x="305.05" y="206.90" width="5.30" height="1.73" fill="#f5df41" />
<line x1="307.70" y1="351.09" x2="307.70" y2="354.08" stroke="#b8b8b8" stroke-width="0.7" />
<line x1="307.70" y1="356.40" x2="307.70" y2="356.40" stroke="#b8b8b8" stroke-width="0.7" />
<line x1="306.50" y1="351.09" x2="308.90" y2="351.09" stroke="#b8b8b8" stroke-width="0.7" />
<line x1="306.50" y1="356.40" x2="308.90" y2="356.40" stroke="#b8b8b8" stroke-width="0.7" />
<rect x="305.25" y="354.08" width="4.90" height="2.32" fill="#56b4cb" stroke="#6a6a6a" stroke-width="0.35"/>
<line x1="305.25" y1="355.07" x2="310.15" y2="355.07" stroke="#555" stroke-width="0.6" />
<rect x="305.05" y="375.00" width="5.30" height="1.82" fill="#1474c8" />
<rect x="305.05" y="376.82" width="5.30" height="28.58" fill="#7b7b7b" />
<rect x="312.78" y="270.47" width="5.30" height="5.53" fill="#e8894f" />
<rect x="312.78" y="206.90" width="5.30" height="63.57" fill="#7b7b7b" />
<line x1="312.78" y1="356.40" x2="318.08" y2="356.40" stroke="#8a8a8a" stroke-width="0.9" />
<rect x="312.78" y="375.00" width="5.30" height="0.30" fill="#1474c8" />
<rect x="312.78" y="375.30" width="5.30" height="30.10" fill="#7b7b7b" />
<rect x="320.51" y="273.03" width="5.30" height="2.97" fill="#e8894f" />
<rect x="320.51" y="206.90" width="5.30" height="66.13" fill="#7b7b7b" />
<line x1="320.51" y1="356.40" x2="325.81" y2="356.40" stroke="#8a8a8a" stroke-width="0.9" />
<rect x="320.51" y="375.00" width="5.30" height="0.00" fill="#1474c8" />
<rect x="320.51" y="375.00" width="5.30" height="30.40" fill="#7b7b7b" />
<rect x="328.24" y="255.68" width="5.30" height="20.32" fill="#e8894f" />
<rect x="328.24" y="207.59" width="5.30" height="48.09" fill="#7b7b7b" />
<rect x="328.24" y="206.90" width="5.30" height="0.69" fill="#c98a2a" />
<line x1="328.24" y1="356.40" x2="333.54" y2="356.40" stroke="#8a8a8a" stroke-width="0.9" />
<rect x="328.24" y="375.00" width="5.30" height="0.30" fill="#1474c8" />
<rect x="328.24" y="375.30" width="5.30" height="30.10" fill="#7b7b7b" />
<rect x="335.97" y="261.77" width="5.30" height="14.23" fill="#e8894f" />
<rect x="335.97" y="206.90" width="5.30" height="54.87" fill="#7b7b7b" />
<line x1="335.97" y1="356.40" x2="341.27" y2="356.40" stroke="#8a8a8a" stroke-width="0.9" />
<rect x="335.97" y="375.00" width="5.30" height="0.46" fill="#1474c8" />
<rect x="335.97" y="375.46" width="5.30" height="29.94" fill="#7b7b7b" />
<rect x="343.70" y="250.36" width="5.30" height="25.64" fill="#e8894f" />
<rect x="343.70" y="208.97" width="5.30" height="41.39" fill="#7b7b7b" />
<rect x="343.70" y="208.28" width="5.30" height="0.69" fill="#8b2f02" />
<rect x="343.70" y="206.90" width="5.30" height="1.38" fill="#f5df41" />
<line x1="346.35" y1="309.26" x2="346.35" y2="337.14" stroke="#b8b8b8" stroke-width="0.7" />
<line x1="346.35" y1="356.40" x2="346.35" y2="356.40" stroke="#b8b8b8" stroke-width="0.7" />
<line x1="345.15" y1="309.26" x2="347.55" y2="309.26" stroke="#b8b8b8" stroke-width="0.7" />
<line x1="345.15" y1="356.40" x2="347.55" y2="356.40" stroke="#b8b8b8" stroke-width="0.7" />
<rect x="343.90" y="337.14" width="4.90" height="19.26" fill="#56b4cb" stroke="#6a6a6a" stroke-width="0.35"/>
<line x1="343.90" y1="353.74" x2="348.80" y2="353.74" stroke="#555" stroke-width="0.6" />
<rect x="343.70" y="375.00" width="5.30" height="4.86" fill="#1474c8" />
<rect x="343.70" y="379.86" width="5.30" height="25.54" fill="#7b7b7b" />
<rect x="351.43" y="251.88" width="5.30" height="24.12" fill="#e8894f" />
<rect x="351.43" y="214.78" width="5.30" height="37.11" fill="#7b7b7b" />
<rect x="351.43" y="206.90" width="5.30" height="7.88" fill="#8b2f02" />
<line x1="354.08" y1="290.00" x2="354.08" y2="319.88" stroke="#b8b8b8" stroke-width="0.7" />
<line x1="354.08" y1="356.40" x2="354.08" y2="356.40" stroke="#b8b8b8" stroke-width="0.7" />
<line x1="352.88" y1="290.00" x2="355.28" y2="290.00" stroke="#b8b8b8" stroke-width="0.7" />
<line x1="352.88" y1="356.40" x2="355.28" y2="356.40" stroke="#b8b8b8" stroke-width="0.7" />
<rect x="351.63" y="319.88" width="4.90" height="36.52" fill="#56b4cb" stroke="#6a6a6a" stroke-width="0.35"/>
<line x1="351.63" y1="352.08" x2="356.53" y2="352.08" stroke="#555" stroke-width="0.6" />
<rect x="351.43" y="375.00" width="5.30" height="9.12" fill="#1474c8" />
<rect x="351.43" y="384.12" width="5.30" height="21.28" fill="#7b7b7b" />
<rect x="359.16" y="228.60" width="5.30" height="47.40" fill="#e8894f" />
<rect x="359.16" y="212.43" width="5.30" height="16.17" fill="#7b7b7b" />
<rect x="359.16" y="206.90" width="5.30" height="5.53" fill="#8b2f02" />
<line x1="361.81" y1="290.00" x2="361.81" y2="329.18" stroke="#b8b8b8" stroke-width="0.7" />
<line x1="361.81" y1="355.07" x2="361.81" y2="356.40" stroke="#b8b8b8" stroke-width="0.7" />
<line x1="360.61" y1="290.00" x2="363.01" y2="290.00" stroke="#b8b8b8" stroke-width="0.7" />
<line x1="360.61" y1="356.40" x2="363.01" y2="356.40" stroke="#b8b8b8" stroke-width="0.7" />
<rect x="359.36" y="329.18" width="4.90" height="25.90" fill="#56b4cb" stroke="#6a6a6a" stroke-width="0.35"/>
<line x1="359.36" y1="350.42" x2="364.26" y2="350.42" stroke="#555" stroke-width="0.6" />
<rect x="359.16" y="375.00" width="5.30" height="6.69" fill="#1474c8" />
<rect x="359.16" y="381.69" width="5.30" height="23.71" fill="#7b7b7b" />
<rect x="366.89" y="222.10" width="5.30" height="53.90" fill="#e8894f" />
<rect x="366.89" y="214.57" width="5.30" height="7.53" fill="#7b7b7b" />
<rect x="366.89" y="206.90" width="5.30" height="7.67" fill="#8b2f02" />
<line x1="369.54" y1="290.00" x2="369.54" y2="315.90" stroke="#b8b8b8" stroke-width="0.7" />
<line x1="369.54" y1="349.76" x2="369.54" y2="356.40" stroke="#b8b8b8" stroke-width="0.7" />
<line x1="368.34" y1="290.00" x2="370.74" y2="290.00" stroke="#b8b8b8" stroke-width="0.7" />
<line x1="368.34" y1="356.40" x2="370.74" y2="356.40" stroke="#b8b8b8" stroke-width="0.7" />
<rect x="367.09" y="315.90" width="4.90" height="33.86" fill="#56b4cb" stroke="#6a6a6a" stroke-width="0.35"/>
<line x1="367.09" y1="338.47" x2="371.99" y2="338.47" stroke="#555" stroke-width="0.6" />
<rect x="366.89" y="375.00" width="5.30" height="10.03" fill="#1474c8" />
<rect x="366.89" y="385.03" width="5.30" height="20.37" fill="#7b7b7b" />
<text x="318" y="412.6" font-size="6.85" text-anchor="middle" fill="#222" font-weight="normal" >PSC-derived organoids</text>
<rect x="380.50" y="203.50" width="102.30" height="73.10" fill="none" stroke="#6f6f6f" stroke-width="0.9"/>
<rect x="380.50" y="286.30" width="102.30" height="72.90" fill="none" stroke="#6f6f6f" stroke-width="0.9"/>
<rect x="380.50" y="373.30" width="102.30" height="32.50" fill="none" stroke="#6f6f6f" stroke-width="0.9"/>
<rect x="382.50" y="267.71" width="5.30" height="8.29" fill="#e8894f" />
<rect x="382.50" y="212.22" width="5.30" height="55.49" fill="#7b7b7b" />
<rect x="382.50" y="206.90" width="5.30" height="5.32" fill="#f5df41" />
<line x1="385.15" y1="353.08" x2="385.15" y2="355.07" stroke="#b8b8b8" stroke-width="0.7" />
<line x1="385.15" y1="356.40" x2="385.15" y2="356.40" stroke="#b8b8b8" stroke-width="0.7" />
<line x1="383.95" y1="353.08" x2="386.35" y2="353.08" stroke="#b8b8b8" stroke-width="0.7" />
<line x1="383.95" y1="356.40" x2="386.35" y2="356.40" stroke="#b8b8b8" stroke-width="0.7" />
<rect x="382.70" y="355.07" width="4.90" height="1.33" fill="#8790b8" stroke="#6a6a6a" stroke-width="0.35"/>
<line x1="382.70" y1="355.74" x2="387.60" y2="355.74" stroke="#555" stroke-width="0.6" />
<rect x="382.50" y="375.00" width="5.30" height="3.04" fill="#1474c8" />
<rect x="382.50" y="378.04" width="5.30" height="27.36" fill="#7b7b7b" />
<rect x="390.23" y="274.00" width="5.30" height="2.00" fill="#e8894f" />
<rect x="390.23" y="207.94" width="5.30" height="66.06" fill="#7b7b7b" />
<rect x="390.23" y="206.90" width="5.30" height="1.04" fill="#c9a02a" />
<line x1="390.23" y1="356.40" x2="395.53" y2="356.40" stroke="#8a8a8a" stroke-width="0.9" />
<rect x="390.23" y="375.00" width="5.30" height="0.91" fill="#1474c8" />
<rect x="390.23" y="375.91" width="5.30" height="29.49" fill="#7b7b7b" />
<rect x="397.96" y="250.92" width="5.30" height="25.08" fill="#e8894f" />
<rect x="397.96" y="208.97" width="5.30" height="41.94" fill="#7b7b7b" />
<rect x="397.96" y="206.90" width="5.30" height="2.07" fill="#f5df41" />
<line x1="400.61" y1="346.44" x2="400.61" y2="352.02" stroke="#b8b8b8" stroke-width="0.7" />
<line x1="400.61" y1="356.40" x2="400.61" y2="356.40" stroke="#b8b8b8" stroke-width="0.7" />
<line x1="399.41" y1="346.44" x2="401.81" y2="346.44" stroke="#b8b8b8" stroke-width="0.7" />
<line x1="399.41" y1="356.40" x2="401.81" y2="356.40" stroke="#b8b8b8" stroke-width="0.7" />
<rect x="398.16" y="352.02" width="4.90" height="4.38" fill="#8790b8" stroke="#6a6a6a" stroke-width="0.35"/>
<line x1="398.16" y1="355.07" x2="403.06" y2="355.07" stroke="#555" stroke-width="0.6" />
<rect x="397.96" y="375.00" width="5.30" height="2.43" fill="#1474c8" />
<rect x="397.96" y="377.43" width="5.30" height="27.97" fill="#7b7b7b" />
<rect x="405.69" y="257.83" width="5.30" height="18.17" fill="#e8894f" />
<rect x="405.69" y="255.06" width="5.30" height="2.76" fill="#7a4b3c" />
<rect x="405.69" y="207.59" width="5.30" height="47.47" fill="#7b7b7b" />
<rect x="405.69" y="206.90" width="5.30" height="0.69" fill="#f5df41" />
<line x1="408.34" y1="328.51" x2="408.34" y2="345.11" stroke="#b8b8b8" stroke-width="0.7" />
<line x1="408.34" y1="356.40" x2="408.34" y2="356.40" stroke="#b8b8b8" stroke-width="0.7" />
<line x1="407.14" y1="328.51" x2="409.54" y2="328.51" stroke="#b8b8b8" stroke-width="0.7" />
<line x1="407.14" y1="356.40" x2="409.54" y2="356.40" stroke="#b8b8b8" stroke-width="0.7" />
<rect x="405.89" y="345.11" width="4.90" height="11.29" fill="#8790b8" stroke="#6a6a6a" stroke-width="0.35"/>
<line x1="405.89" y1="355.74" x2="410.79" y2="355.74" stroke="#555" stroke-width="0.6" />
<rect x="405.69" y="375.00" width="5.30" height="4.56" fill="#1474c8" />
<rect x="405.69" y="379.56" width="5.30" height="25.84" fill="#7b7b7b" />
<rect x="413.42" y="255.27" width="5.30" height="20.73" fill="#e8894f" />
<rect x="413.42" y="218.72" width="5.30" height="36.55" fill="#7b7b7b" />
<rect x="413.42" y="206.90" width="5.30" height="11.82" fill="#8b2f02" />
<line x1="416.07" y1="290.00" x2="416.07" y2="321.87" stroke="#b8b8b8" stroke-width="0.7" />
<line x1="416.07" y1="355.07" x2="416.07" y2="356.40" stroke="#b8b8b8" stroke-width="0.7" />
<line x1="414.87" y1="290.00" x2="417.27" y2="290.00" stroke="#b8b8b8" stroke-width="0.7" />
<line x1="414.87" y1="356.40" x2="417.27" y2="356.40" stroke="#b8b8b8" stroke-width="0.7" />
<rect x="413.62" y="321.87" width="4.90" height="33.20" fill="#8790b8" stroke="#6a6a6a" stroke-width="0.35"/>
<line x1="413.62" y1="351.42" x2="418.52" y2="351.42" stroke="#555" stroke-width="0.6" />
<rect x="413.42" y="375.00" width="5.30" height="8.21" fill="#1474c8" />
<rect x="413.42" y="383.21" width="5.30" height="22.19" fill="#7b7b7b" />
<rect x="421.15" y="249.74" width="5.30" height="26.26" fill="#e8894f" />
<rect x="421.15" y="220.10" width="5.30" height="29.64" fill="#7b7b7b" />
<rect x="421.15" y="206.90" width="5.30" height="13.20" fill="#8b2f02" />
<line x1="423.80" y1="290.00" x2="423.80" y2="317.89" stroke="#b8b8b8" stroke-width="0.7" />
<line x1="423.80" y1="354.41" x2="423.80" y2="356.40" stroke="#b8b8b8" stroke-width="0.7" />
<line x1="422.60" y1="290.00" x2="425.00" y2="290.00" stroke="#b8b8b8" stroke-width="0.7" />
<line x1="422.60" y1="356.40" x2="425.00" y2="356.40" stroke="#b8b8b8" stroke-width="0.7" />
<rect x="421.35" y="317.89" width="4.90" height="36.52" fill="#8790b8" stroke="#6a6a6a" stroke-width="0.35"/>
<line x1="421.35" y1="350.62" x2="426.25" y2="350.62" stroke="#555" stroke-width="0.6" />
<rect x="421.15" y="375.00" width="5.30" height="9.42" fill="#1474c8" />
<rect x="421.15" y="384.42" width="5.30" height="20.98" fill="#7b7b7b" />
<rect x="428.88" y="222.72" width="5.30" height="53.28" fill="#e8894f" />
<rect x="428.88" y="216.99" width="5.30" height="5.74" fill="#7b7b7b" />
<rect x="428.88" y="206.90" width="5.30" height="10.09" fill="#8b2f02" />
<line x1="431.53" y1="290.00" x2="431.53" y2="327.18" stroke="#b8b8b8" stroke-width="0.7" />
<line x1="431.53" y1="352.42" x2="431.53" y2="356.40" stroke="#b8b8b8" stroke-width="0.7" />
<line x1="430.33" y1="290.00" x2="432.73" y2="290.00" stroke="#b8b8b8" stroke-width="0.7" />
<line x1="430.33" y1="356.40" x2="432.73" y2="356.40" stroke="#b8b8b8" stroke-width="0.7" />
<rect x="429.08" y="327.18" width="4.90" height="25.23" fill="#8790b8" stroke="#6a6a6a" stroke-width="0.35"/>
<line x1="429.08" y1="346.17" x2="433.98" y2="346.17" stroke="#555" stroke-width="0.6" />
<rect x="428.88" y="375.00" width="5.30" height="7.30" fill="#1474c8" />
<rect x="428.88" y="382.30" width="5.30" height="23.10" fill="#7b7b7b" />
<rect x="436.61" y="222.31" width="5.30" height="53.69" fill="#e8894f" />
<rect x="436.61" y="211.46" width="5.30" height="10.85" fill="#7b7b7b" />
<rect x="436.61" y="206.90" width="5.30" height="4.56" fill="#8b2f02" />
<line x1="439.26" y1="304.61" x2="439.26" y2="333.16" stroke="#b8b8b8" stroke-width="0.7" />
<line x1="439.26" y1="352.42" x2="439.26" y2="356.40" stroke="#b8b8b8" stroke-width="0.7" />
<line x1="438.06" y1="304.61" x2="440.46" y2="304.61" stroke="#b8b8b8" stroke-width="0.7" />
<line x1="438.06" y1="356.40" x2="440.46" y2="356.40" stroke="#b8b8b8" stroke-width="0.7" />
<rect x="436.81" y="333.16" width="4.90" height="19.26" fill="#8790b8" stroke="#6a6a6a" stroke-width="0.35"/>
<line x1="436.81" y1="345.38" x2="441.71" y2="345.38" stroke="#555" stroke-width="0.6" />
<rect x="436.61" y="375.00" width="5.30" height="5.78" fill="#1474c8" />
<rect x="436.61" y="380.78" width="5.30" height="24.62" fill="#7b7b7b" />
<rect x="444.34" y="249.95" width="5.30" height="26.05" fill="#e8894f" />
<rect x="444.34" y="220.93" width="5.30" height="29.02" fill="#7b7b7b" />
<rect x="444.34" y="206.90" width="5.30" height="14.03" fill="#8b2f02" />
<line x1="446.99" y1="290.00" x2="446.99" y2="315.23" stroke="#b8b8b8" stroke-width="0.7" />
<line x1="446.99" y1="354.41" x2="446.99" y2="356.40" stroke="#b8b8b8" stroke-width="0.7" />
<line x1="445.79" y1="290.00" x2="448.19" y2="290.00" stroke="#b8b8b8" stroke-width="0.7" />
<line x1="445.79" y1="356.40" x2="448.19" y2="356.40" stroke="#b8b8b8" stroke-width="0.7" />
<rect x="444.54" y="315.23" width="4.90" height="39.18" fill="#8790b8" stroke="#6a6a6a" stroke-width="0.35"/>
<line x1="444.54" y1="339.40" x2="449.44" y2="339.40" stroke="#555" stroke-width="0.6" />
<rect x="444.34" y="375.00" width="5.30" height="10.64" fill="#1474c8" />
<rect x="444.34" y="385.64" width="5.30" height="19.76" fill="#7b7b7b" />
<rect x="452.07" y="232.95" width="5.30" height="43.05" fill="#e8894f" />
<rect x="452.07" y="218.37" width="5.30" height="14.58" fill="#7b7b7b" />
<rect x="452.07" y="206.90" width="5.30" height="11.47" fill="#8b2f02" />
<line x1="454.72" y1="290.00" x2="454.72" y2="317.89" stroke="#b8b8b8" stroke-width="0.7" />
<line x1="454.72" y1="350.42" x2="454.72" y2="356.40" stroke="#b8b8b8" stroke-width="0.7" />
<line x1="453.52" y1="290.00" x2="455.92" y2="290.00" stroke="#b8b8b8" stroke-width="0.7" />
<line x1="453.52" y1="356.40" x2="455.92" y2="356.40" stroke="#b8b8b8" stroke-width="0.7" />
<rect x="452.27" y="317.89" width="4.90" height="32.54" fill="#8790b8" stroke="#6a6a6a" stroke-width="0.35"/>
<line x1="452.27" y1="338.80" x2="457.17" y2="338.80" stroke="#555" stroke-width="0.6" />
<rect x="452.07" y="375.00" width="5.30" height="9.42" fill="#1474c8" />
<rect x="452.07" y="384.42" width="5.30" height="20.98" fill="#7b7b7b" />
<rect x="459.80" y="207.87" width="5.30" height="68.13" fill="#e8894f" />
<rect x="459.80" y="206.90" width="5.30" height="0.97" fill="#7b7b7b" />
<line x1="462.45" y1="293.32" x2="462.45" y2="323.20" stroke="#b8b8b8" stroke-width="0.7" />
<line x1="462.45" y1="343.78" x2="462.45" y2="356.40" stroke="#b8b8b8" stroke-width="0.7" />
<line x1="461.25" y1="293.32" x2="463.65" y2="293.32" stroke="#b8b8b8" stroke-width="0.7" />
<line x1="461.25" y1="356.40" x2="463.65" y2="356.40" stroke="#b8b8b8" stroke-width="0.7" />
<rect x="460.00" y="323.20" width="4.90" height="20.58" fill="#8790b8" stroke="#6a6a6a" stroke-width="0.35"/>
<line x1="460.00" y1="334.49" x2="464.90" y2="334.49" stroke="#555" stroke-width="0.6" />
<rect x="459.80" y="375.00" width="5.30" height="8.21" fill="#1474c8" />
<rect x="459.80" y="383.21" width="5.30" height="22.19" fill="#7b7b7b" />
<rect x="467.53" y="229.63" width="5.30" height="46.37" fill="#e8894f" />
<rect x="467.53" y="215.81" width="5.30" height="13.82" fill="#7b7b7b" />
<rect x="467.53" y="206.90" width="5.30" height="8.91" fill="#8b2f02" />
<line x1="470.18" y1="290.00" x2="470.18" y2="317.89" stroke="#b8b8b8" stroke-width="0.7" />
<line x1="470.18" y1="347.10" x2="470.18" y2="356.40" stroke="#b8b8b8" stroke-width="0.7" />
<line x1="468.98" y1="290.00" x2="471.38" y2="290.00" stroke="#b8b8b8" stroke-width="0.7" />
<line x1="468.98" y1="356.40" x2="471.38" y2="356.40" stroke="#b8b8b8" stroke-width="0.7" />
<rect x="467.73" y="317.89" width="4.90" height="29.22" fill="#8790b8" stroke="#6a6a6a" stroke-width="0.35"/>
<line x1="467.73" y1="334.49" x2="472.63" y2="334.49" stroke="#555" stroke-width="0.6" />
<rect x="467.53" y="375.00" width="5.30" height="10.03" fill="#1474c8" />
<rect x="467.53" y="385.03" width="5.30" height="20.37" fill="#7b7b7b" />
<rect x="475.26" y="251.75" width="5.30" height="24.25" fill="#e8894f" />
<rect x="475.26" y="247.74" width="5.30" height="4.01" fill="#7a4b3c" />
<rect x="475.26" y="237.51" width="5.30" height="10.23" fill="#7b7b7b" />
<rect x="475.26" y="235.92" width="5.30" height="1.59" fill="#8cc5ea" />
<rect x="475.26" y="206.90" width="5.30" height="29.02" fill="#f5df41" />
<line x1="477.91" y1="290.00" x2="477.91" y2="290.00" stroke="#b8b8b8" stroke-width="0.7" />
<line x1="477.91" y1="339.80" x2="477.91" y2="356.40" stroke="#b8b8b8" stroke-width="0.7" />
<line x1="476.71" y1="290.00" x2="479.11" y2="290.00" stroke="#b8b8b8" stroke-width="0.7" />
<line x1="476.71" y1="356.40" x2="479.11" y2="356.40" stroke="#b8b8b8" stroke-width="0.7" />
<rect x="475.46" y="290.00" width="4.90" height="49.80" fill="#8790b8" stroke="#6a6a6a" stroke-width="0.35"/>
<line x1="475.46" y1="292.99" x2="480.36" y2="292.99" stroke="#555" stroke-width="0.6" />
<rect x="475.26" y="375.00" width="5.30" height="20.98" fill="#1474c8" />
<rect x="475.26" y="395.98" width="5.30" height="9.42" fill="#7b7b7b" />
<text x="432" y="412.6" font-size="6.85" text-anchor="middle" fill="#222" font-weight="normal" >FSC-derived organoids</text>
<rect x="489.00" y="203.50" width="195.60" height="73.10" fill="none" stroke="#6f6f6f" stroke-width="0.9"/>
<rect x="489.00" y="286.30" width="195.60" height="72.90" fill="none" stroke="#6f6f6f" stroke-width="0.9"/>
<rect x="489.00" y="373.30" width="195.60" height="32.50" fill="none" stroke="#6f6f6f" stroke-width="0.9"/>
<rect x="490.90" y="237.51" width="5.30" height="38.49" fill="#e8894f" />
<rect x="490.90" y="209.87" width="5.30" height="27.64" fill="#7b7b7b" />
<rect x="490.90" y="206.90" width="5.30" height="2.97" fill="#8b2f02" />
<line x1="493.55" y1="306.60" x2="493.55" y2="335.82" stroke="#b8b8b8" stroke-width="0.7" />
<line x1="493.55" y1="355.74" x2="493.55" y2="356.40" stroke="#b8b8b8" stroke-width="0.7" />
<line x1="492.35" y1="306.60" x2="494.75" y2="306.60" stroke="#b8b8b8" stroke-width="0.7" />
<line x1="492.35" y1="356.40" x2="494.75" y2="356.40" stroke="#b8b8b8" stroke-width="0.7" />
<rect x="491.10" y="335.82" width="4.90" height="19.92" fill="#d6574a" stroke="#6a6a6a" stroke-width="0.35"/>
<line x1="491.10" y1="352.42" x2="496.00" y2="352.42" stroke="#555" stroke-width="0.6" />
<rect x="490.90" y="375.00" width="5.30" height="4.86" fill="#1474c8" />
<rect x="490.90" y="379.86" width="5.30" height="25.54" fill="#7b7b7b" />
<rect x="498.68" y="228.04" width="5.30" height="47.96" fill="#e8894f" />
<rect x="498.68" y="225.07" width="5.30" height="2.97" fill="#7b7b7b" />
<rect x="498.68" y="216.78" width="5.30" height="8.29" fill="#8b2f02" />
<rect x="498.68" y="206.90" width="5.30" height="9.88" fill="#f5df41" />
<line x1="501.33" y1="290.00" x2="501.33" y2="292.66" stroke="#b8b8b8" stroke-width="0.7" />
<line x1="501.33" y1="335.15" x2="501.33" y2="356.40" stroke="#b8b8b8" stroke-width="0.7" />
<line x1="500.13" y1="290.00" x2="502.53" y2="290.00" stroke="#b8b8b8" stroke-width="0.7" />
<line x1="500.13" y1="356.40" x2="502.53" y2="356.40" stroke="#b8b8b8" stroke-width="0.7" />
<rect x="498.88" y="292.66" width="4.90" height="42.50" fill="#d6574a" stroke="#6a6a6a" stroke-width="0.35"/>
<line x1="498.88" y1="312.58" x2="503.78" y2="312.58" stroke="#555" stroke-width="0.6" />
<rect x="498.68" y="375.00" width="5.30" height="18.70" fill="#1474c8" />
<rect x="498.68" y="393.70" width="5.30" height="11.70" fill="#7b7b7b" />
<rect x="506.46" y="229.63" width="5.30" height="46.37" fill="#e8894f" />
<rect x="506.46" y="226.04" width="5.30" height="3.59" fill="#7b7b7b" />
<rect x="506.46" y="216.78" width="5.30" height="9.26" fill="#8b2f02" />
<rect x="506.46" y="206.90" width="5.30" height="9.88" fill="#f5df41" />
<line x1="509.11" y1="290.00" x2="509.11" y2="291.99" stroke="#b8b8b8" stroke-width="0.7" />
<line x1="509.11" y1="335.82" x2="509.11" y2="356.40" stroke="#b8b8b8" stroke-width="0.7" />
<line x1="507.91" y1="290.00" x2="510.31" y2="290.00" stroke="#b8b8b8" stroke-width="0.7" />
<line x1="507.91" y1="356.40" x2="510.31" y2="356.40" stroke="#b8b8b8" stroke-width="0.7" />
<rect x="506.66" y="291.99" width="4.90" height="43.82" fill="#d6574a" stroke="#6a6a6a" stroke-width="0.35"/>
<line x1="506.66" y1="312.58" x2="511.56" y2="312.58" stroke="#555" stroke-width="0.6" />
<rect x="506.46" y="375.00" width="5.30" height="18.70" fill="#1474c8" />
<rect x="506.46" y="393.70" width="5.30" height="11.70" fill="#7b7b7b" />
<rect x="514.24" y="228.60" width="5.30" height="47.40" fill="#e8894f" />
<rect x="514.24" y="226.04" width="5.30" height="2.56" fill="#7b7b7b" />
<rect x="514.24" y="217.20" width="5.30" height="8.84" fill="#8b2f02" />
<rect x="514.24" y="206.90" width="5.30" height="10.30" fill="#f5df41" />
<line x1="516.89" y1="290.00" x2="516.89" y2="291.99" stroke="#b8b8b8" stroke-width="0.7" />
<line x1="516.89" y1="334.49" x2="516.89" y2="356.40" stroke="#b8b8b8" stroke-width="0.7" />
<line x1="515.69" y1="290.00" x2="518.09" y2="290.00" stroke="#b8b8b8" stroke-width="0.7" />
<line x1="515.69" y1="356.40" x2="518.09" y2="356.40" stroke="#b8b8b8" stroke-width="0.7" />
<rect x="514.44" y="291.99" width="4.90" height="42.50" fill="#d6574a" stroke="#6a6a6a" stroke-width="0.35"/>
<line x1="514.44" y1="312.58" x2="519.34" y2="312.58" stroke="#555" stroke-width="0.6" />
<rect x="514.24" y="375.00" width="5.30" height="19.00" fill="#1474c8" />
<rect x="514.24" y="394.00" width="5.30" height="11.40" fill="#7b7b7b" />
<rect x="522.02" y="222.72" width="5.30" height="53.28" fill="#e8894f" />
<rect x="522.02" y="220.72" width="5.30" height="2.00" fill="#7b7b7b" />
<rect x="522.02" y="209.25" width="5.30" height="11.47" fill="#8b2f02" />
<rect x="522.02" y="206.90" width="5.30" height="2.35" fill="#f5df41" />
<line x1="524.67" y1="290.00" x2="524.67" y2="297.30" stroke="#b8b8b8" stroke-width="0.7" />
<line x1="524.67" y1="326.52" x2="524.67" y2="356.40" stroke="#b8b8b8" stroke-width="0.7" />
<line x1="523.47" y1="290.00" x2="525.87" y2="290.00" stroke="#b8b8b8" stroke-width="0.7" />
<line x1="523.47" y1="356.40" x2="525.87" y2="356.40" stroke="#b8b8b8" stroke-width="0.7" />
<rect x="522.22" y="297.30" width="4.90" height="29.22" fill="#d6574a" stroke="#6a6a6a" stroke-width="0.35"/>
<line x1="522.22" y1="311.91" x2="527.12" y2="311.91" stroke="#555" stroke-width="0.6" />
<rect x="522.02" y="375.00" width="5.30" height="22.04" fill="#1474c8" />
<rect x="522.02" y="397.04" width="5.30" height="8.36" fill="#7b7b7b" />
<rect x="529.80" y="227.63" width="5.30" height="48.37" fill="#e8894f" />
<rect x="529.80" y="225.07" width="5.30" height="2.56" fill="#7b7b7b" />
<rect x="529.80" y="211.25" width="5.30" height="13.82" fill="#8b2f02" />
<rect x="529.80" y="206.90" width="5.30" height="4.35" fill="#f5df41" />
<line x1="532.45" y1="290.00" x2="532.45" y2="292.66" stroke="#b8b8b8" stroke-width="0.7" />
<line x1="532.45" y1="335.82" x2="532.45" y2="356.40" stroke="#b8b8b8" stroke-width="0.7" />
<line x1="531.25" y1="290.00" x2="533.65" y2="290.00" stroke="#b8b8b8" stroke-width="0.7" />
<line x1="531.25" y1="356.40" x2="533.65" y2="356.40" stroke="#b8b8b8" stroke-width="0.7" />
<rect x="530.00" y="292.66" width="4.90" height="43.16" fill="#d6574a" stroke="#6a6a6a" stroke-width="0.35"/>
<line x1="530.00" y1="311.91" x2="534.90" y2="311.91" stroke="#555" stroke-width="0.6" />
<rect x="529.80" y="375.00" width="5.30" height="19.46" fill="#1474c8" />
<rect x="529.80" y="394.46" width="5.30" height="10.94" fill="#7b7b7b" />
<rect x="537.58" y="227.63" width="5.30" height="48.37" fill="#e8894f" />
<rect x="537.58" y="225.07" width="5.30" height="2.56" fill="#7b7b7b" />
<rect x="537.58" y="211.25" width="5.30" height="13.82" fill="#8b2f02" />
<rect x="537.58" y="206.90" width="5.30" height="4.35" fill="#f5df41" />
<line x1="540.23" y1="290.00" x2="540.23" y2="291.99" stroke="#b8b8b8" stroke-width="0.7" />
<line x1="540.23" y1="334.49" x2="540.23" y2="356.40" stroke="#b8b8b8" stroke-width="0.7" />
<line x1="539.03" y1="290.00" x2="541.43" y2="290.00" stroke="#b8b8b8" stroke-width="0.7" />
<line x1="539.03" y1="356.40" x2="541.43" y2="356.40" stroke="#b8b8b8" stroke-width="0.7" />
<rect x="537.78" y="291.99" width="4.90" height="42.50" fill="#d6574a" stroke="#6a6a6a" stroke-width="0.35"/>
<line x1="537.78" y1="311.91" x2="542.68" y2="311.91" stroke="#555" stroke-width="0.6" />
<rect x="537.58" y="375.00" width="5.30" height="19.00" fill="#1474c8" />
<rect x="537.58" y="394.00" width="5.30" height="11.40" fill="#7b7b7b" />
<rect x="545.36" y="227.63" width="5.30" height="48.37" fill="#e8894f" />
<rect x="545.36" y="225.07" width="5.30" height="2.56" fill="#7b7b7b" />
<rect x="545.36" y="211.81" width="5.30" height="13.27" fill="#8b2f02" />
<rect x="545.36" y="206.90" width="5.30" height="4.91" fill="#f5df41" />
<line x1="548.01" y1="290.00" x2="548.01" y2="291.99" stroke="#b8b8b8" stroke-width="0.7" />
<line x1="548.01" y1="337.14" x2="548.01" y2="356.40" stroke="#b8b8b8" stroke-width="0.7" />
<line x1="546.81" y1="290.00" x2="549.21" y2="290.00" stroke="#b8b8b8" stroke-width="0.7" />
<line x1="546.81" y1="356.40" x2="549.21" y2="356.40" stroke="#b8b8b8" stroke-width="0.7" />
<rect x="545.56" y="291.99" width="4.90" height="45.15" fill="#d6574a" stroke="#6a6a6a" stroke-width="0.35"/>
<line x1="545.56" y1="311.91" x2="550.46" y2="311.91" stroke="#555" stroke-width="0.6" />
<rect x="545.36" y="375.00" width="5.30" height="19.76" fill="#1474c8" />
<rect x="545.36" y="394.76" width="5.30" height="10.64" fill="#7b7b7b" />
<rect x="553.14" y="229.63" width="5.30" height="46.37" fill="#e8894f" />
<rect x="553.14" y="226.25" width="5.30" height="3.39" fill="#7b7b7b" />
<rect x="553.14" y="217.20" width="5.30" height="9.05" fill="#8b2f02" />
<rect x="553.14" y="206.90" width="5.30" height="10.30" fill="#f5df41" />
<line x1="555.79" y1="290.00" x2="555.79" y2="291.33" stroke="#b8b8b8" stroke-width="0.7" />
<line x1="555.79" y1="335.82" x2="555.79" y2="356.40" stroke="#b8b8b8" stroke-width="0.7" />
<line x1="554.59" y1="290.00" x2="556.99" y2="290.00" stroke="#b8b8b8" stroke-width="0.7" />
<line x1="554.59" y1="356.40" x2="556.99" y2="356.40" stroke="#b8b8b8" stroke-width="0.7" />
<rect x="553.34" y="291.33" width="4.90" height="44.49" fill="#d6574a" stroke="#6a6a6a" stroke-width="0.35"/>
<line x1="553.34" y1="311.91" x2="558.24" y2="311.91" stroke="#555" stroke-width="0.6" />
<rect x="553.14" y="375.00" width="5.30" height="19.00" fill="#1474c8" />
<rect x="553.14" y="394.00" width="5.30" height="11.40" fill="#7b7b7b" />
<rect x="560.92" y="227.22" width="5.30" height="48.78" fill="#e8894f" />
<rect x="560.92" y="226.66" width="5.30" height="0.55" fill="#7b7b7b" />
<rect x="560.92" y="206.90" width="5.30" height="19.76" fill="#8b2f02" />
<line x1="563.57" y1="290.00" x2="563.57" y2="290.66" stroke="#b8b8b8" stroke-width="0.7" />
<line x1="563.57" y1="327.85" x2="563.57" y2="356.40" stroke="#b8b8b8" stroke-width="0.7" />
<line x1="562.37" y1="290.00" x2="564.77" y2="290.00" stroke="#b8b8b8" stroke-width="0.7" />
<line x1="562.37" y1="356.40" x2="564.77" y2="356.40" stroke="#b8b8b8" stroke-width="0.7" />
<rect x="561.12" y="290.66" width="4.90" height="37.18" fill="#d6574a" stroke="#6a6a6a" stroke-width="0.35"/>
<line x1="561.12" y1="310.58" x2="566.02" y2="310.58" stroke="#555" stroke-width="0.6" />
<rect x="560.92" y="375.00" width="5.30" height="21.74" fill="#1474c8" />
<rect x="560.92" y="396.74" width="5.30" height="8.66" fill="#7b7b7b" />
<rect x="568.70" y="228.04" width="5.30" height="47.96" fill="#e8894f" />
<rect x="568.70" y="225.63" width="5.30" height="2.42" fill="#7b7b7b" />
<rect x="568.70" y="211.25" width="5.30" height="14.37" fill="#8b2f02" />
<rect x="568.70" y="206.90" width="5.30" height="4.35" fill="#f5df41" />
<line x1="571.35" y1="290.00" x2="571.35" y2="291.99" stroke="#b8b8b8" stroke-width="0.7" />
<line x1="571.35" y1="333.82" x2="571.35" y2="356.40" stroke="#b8b8b8" stroke-width="0.7" />
<line x1="570.15" y1="290.00" x2="572.55" y2="290.00" stroke="#b8b8b8" stroke-width="0.7" />
<line x1="570.15" y1="356.40" x2="572.55" y2="356.40" stroke="#b8b8b8" stroke-width="0.7" />
<rect x="568.90" y="291.99" width="4.90" height="41.83" fill="#d6574a" stroke="#6a6a6a" stroke-width="0.35"/>
<line x1="568.90" y1="310.58" x2="573.80" y2="310.58" stroke="#555" stroke-width="0.6" />
<rect x="568.70" y="375.00" width="5.30" height="19.76" fill="#1474c8" />
<rect x="568.70" y="394.76" width="5.30" height="10.64" fill="#7b7b7b" />
<rect x="576.48" y="226.66" width="5.30" height="49.34" fill="#e8894f" />
<rect x="576.48" y="225.63" width="5.30" height="1.04" fill="#7b7b7b" />
<rect x="576.48" y="206.90" width="5.30" height="18.73" fill="#8b2f02" />
<line x1="579.13" y1="290.00" x2="579.13" y2="290.66" stroke="#b8b8b8" stroke-width="0.7" />
<line x1="579.13" y1="325.86" x2="579.13" y2="356.40" stroke="#b8b8b8" stroke-width="0.7" />
<line x1="577.93" y1="290.00" x2="580.33" y2="290.00" stroke="#b8b8b8" stroke-width="0.7" />
<line x1="577.93" y1="356.40" x2="580.33" y2="356.40" stroke="#b8b8b8" stroke-width="0.7" />
<rect x="576.68" y="290.66" width="4.90" height="35.19" fill="#d6574a" stroke="#6a6a6a" stroke-width="0.35"/>
<line x1="576.68" y1="308.59" x2="581.58" y2="308.59" stroke="#555" stroke-width="0.6" />
<rect x="576.48" y="375.00" width="5.30" height="22.50" fill="#1474c8" />
<rect x="576.48" y="397.50" width="5.30" height="7.90" fill="#7b7b7b" />
<rect x="584.26" y="223.28" width="5.30" height="52.72" fill="#e8894f" />
<rect x="584.26" y="222.79" width="5.30" height="0.48" fill="#7b7b7b" />
<rect x="584.26" y="206.90" width="5.30" height="15.89" fill="#8b2f02" />
<line x1="586.91" y1="290.00" x2="586.91" y2="293.98" stroke="#b8b8b8" stroke-width="0.7" />
<line x1="586.91" y1="320.54" x2="586.91" y2="356.40" stroke="#b8b8b8" stroke-width="0.7" />
<line x1="585.71" y1="290.00" x2="588.11" y2="290.00" stroke="#b8b8b8" stroke-width="0.7" />
<line x1="585.71" y1="356.40" x2="588.11" y2="356.40" stroke="#b8b8b8" stroke-width="0.7" />
<rect x="584.46" y="293.98" width="4.90" height="26.56" fill="#d6574a" stroke="#6a6a6a" stroke-width="0.35"/>
<line x1="584.46" y1="307.93" x2="589.36" y2="307.93" stroke="#555" stroke-width="0.6" />
<rect x="584.26" y="375.00" width="5.30" height="24.78" fill="#1474c8" />
<rect x="584.26" y="399.78" width="5.30" height="5.62" fill="#7b7b7b" />
<rect x="592.04" y="245.80" width="5.30" height="30.20" fill="#e8894f" />
<rect x="592.04" y="233.16" width="5.30" height="12.65" fill="#7b7b7b" />
<rect x="592.04" y="218.37" width="5.30" height="14.79" fill="#8b2f02" />
<rect x="592.04" y="206.90" width="5.30" height="11.47" fill="#f5df41" />
<line x1="594.69" y1="290.00" x2="594.69" y2="290.00" stroke="#b8b8b8" stroke-width="0.7" />
<line x1="594.69" y1="346.44" x2="594.69" y2="356.40" stroke="#b8b8b8" stroke-width="0.7" />
<line x1="593.49" y1="290.00" x2="595.89" y2="290.00" stroke="#b8b8b8" stroke-width="0.7" />
<line x1="593.49" y1="356.40" x2="595.89" y2="356.40" stroke="#b8b8b8" stroke-width="0.7" />
<rect x="592.24" y="290.00" width="4.90" height="56.44" fill="#d6574a" stroke="#6a6a6a" stroke-width="0.35"/>
<line x1="592.24" y1="304.61" x2="597.14" y2="304.61" stroke="#555" stroke-width="0.6" />
<rect x="592.04" y="375.00" width="5.30" height="19.00" fill="#1474c8" />
<rect x="592.04" y="394.00" width="5.30" height="11.40" fill="#7b7b7b" />
<rect x="599.82" y="216.78" width="5.30" height="59.22" fill="#e8894f" />
<rect x="599.82" y="206.90" width="5.30" height="9.88" fill="#8b2f02" />
<line x1="602.47" y1="290.00" x2="602.47" y2="293.98" stroke="#b8b8b8" stroke-width="0.7" />
<line x1="602.47" y1="317.89" x2="602.47" y2="351.75" stroke="#b8b8b8" stroke-width="0.7" />
<line x1="601.27" y1="290.00" x2="603.67" y2="290.00" stroke="#b8b8b8" stroke-width="0.7" />
<line x1="601.27" y1="351.75" x2="603.67" y2="351.75" stroke="#b8b8b8" stroke-width="0.7" />
<rect x="600.02" y="293.98" width="4.90" height="23.90" fill="#d6574a" stroke="#6a6a6a" stroke-width="0.35"/>
<line x1="600.02" y1="303.28" x2="604.92" y2="303.28" stroke="#555" stroke-width="0.6" />
<rect x="599.82" y="375.00" width="5.30" height="25.84" fill="#1474c8" />
<rect x="599.82" y="400.84" width="5.30" height="4.56" fill="#7b7b7b" />
<rect x="607.60" y="213.81" width="5.30" height="62.19" fill="#e8894f" />
<rect x="607.60" y="206.90" width="5.30" height="6.91" fill="#8b2f02" />
<line x1="610.25" y1="290.00" x2="610.25" y2="295.31" stroke="#b8b8b8" stroke-width="0.7" />
<line x1="610.25" y1="315.23" x2="610.25" y2="345.11" stroke="#b8b8b8" stroke-width="0.7" />
<line x1="609.05" y1="290.00" x2="611.45" y2="290.00" stroke="#b8b8b8" stroke-width="0.7" />
<line x1="609.05" y1="345.11" x2="611.45" y2="345.11" stroke="#b8b8b8" stroke-width="0.7" />
<rect x="607.80" y="295.31" width="4.90" height="19.92" fill="#d6574a" stroke="#6a6a6a" stroke-width="0.35"/>
<line x1="607.80" y1="303.28" x2="612.70" y2="303.28" stroke="#555" stroke-width="0.6" />
<rect x="607.60" y="375.00" width="5.30" height="26.60" fill="#1474c8" />
<rect x="607.60" y="401.60" width="5.30" height="3.80" fill="#7b7b7b" />
<rect x="615.38" y="248.36" width="5.30" height="27.64" fill="#e8894f" />
<rect x="615.38" y="234.95" width="5.30" height="13.41" fill="#7b7b7b" />
<rect x="615.38" y="218.37" width="5.30" height="16.58" fill="#8b2f02" />
<rect x="615.38" y="206.90" width="5.30" height="11.47" fill="#f5df41" />
<line x1="618.03" y1="290.00" x2="618.03" y2="290.00" stroke="#b8b8b8" stroke-width="0.7" />
<line x1="618.03" y1="348.43" x2="618.03" y2="356.40" stroke="#b8b8b8" stroke-width="0.7" />
<line x1="616.83" y1="290.00" x2="619.23" y2="290.00" stroke="#b8b8b8" stroke-width="0.7" />
<line x1="616.83" y1="356.40" x2="619.23" y2="356.40" stroke="#b8b8b8" stroke-width="0.7" />
<rect x="615.58" y="290.00" width="4.90" height="58.43" fill="#d6574a" stroke="#6a6a6a" stroke-width="0.35"/>
<line x1="615.58" y1="303.28" x2="620.48" y2="303.28" stroke="#555" stroke-width="0.6" />
<rect x="615.38" y="375.00" width="5.30" height="18.70" fill="#1474c8" />
<rect x="615.38" y="393.70" width="5.30" height="11.70" fill="#7b7b7b" />
<rect x="623.16" y="248.36" width="5.30" height="27.64" fill="#e8894f" />
<rect x="623.16" y="236.13" width="5.30" height="12.23" fill="#7b7b7b" />
<rect x="623.16" y="220.72" width="5.30" height="15.41" fill="#8b2f02" />
<rect x="623.16" y="206.90" width="5.30" height="13.82" fill="#f5df41" />
<line x1="625.81" y1="290.00" x2="625.81" y2="290.00" stroke="#b8b8b8" stroke-width="0.7" />
<line x1="625.81" y1="344.45" x2="625.81" y2="356.40" stroke="#b8b8b8" stroke-width="0.7" />
<line x1="624.61" y1="290.00" x2="627.01" y2="290.00" stroke="#b8b8b8" stroke-width="0.7" />
<line x1="624.61" y1="356.40" x2="627.01" y2="356.40" stroke="#b8b8b8" stroke-width="0.7" />
<rect x="623.36" y="290.00" width="4.90" height="54.45" fill="#d6574a" stroke="#6a6a6a" stroke-width="0.35"/>
<line x1="623.36" y1="302.62" x2="628.26" y2="302.62" stroke="#555" stroke-width="0.6" />
<rect x="623.16" y="375.00" width="5.30" height="18.70" fill="#1474c8" />
<rect x="623.16" y="393.70" width="5.30" height="11.70" fill="#7b7b7b" />
<rect x="630.94" y="242.07" width="5.30" height="33.93" fill="#e8894f" />
<rect x="630.94" y="238.06" width="5.30" height="4.01" fill="#7b7b7b" />
<rect x="630.94" y="235.16" width="5.30" height="2.90" fill="#8b2f02" />
<rect x="630.94" y="206.90" width="5.30" height="28.26" fill="#f5df41" />
<line x1="633.59" y1="290.00" x2="633.59" y2="290.00" stroke="#b8b8b8" stroke-width="0.7" />
<line x1="633.59" y1="329.84" x2="633.59" y2="356.40" stroke="#b8b8b8" stroke-width="0.7" />
<line x1="632.39" y1="290.00" x2="634.79" y2="290.00" stroke="#b8b8b8" stroke-width="0.7" />
<line x1="632.39" y1="356.40" x2="634.79" y2="356.40" stroke="#b8b8b8" stroke-width="0.7" />
<rect x="631.14" y="290.00" width="4.90" height="39.84" fill="#d6574a" stroke="#6a6a6a" stroke-width="0.35"/>
<line x1="631.14" y1="295.31" x2="636.04" y2="295.31" stroke="#555" stroke-width="0.6" />
<rect x="630.94" y="375.00" width="5.30" height="21.74" fill="#1474c8" />
<rect x="630.94" y="396.74" width="5.30" height="8.66" fill="#7b7b7b" />
<rect x="638.72" y="268.12" width="5.30" height="7.88" fill="#e8894f" />
<rect x="638.72" y="243.45" width="5.30" height="24.67" fill="#7a4b3c" />
<rect x="638.72" y="241.86" width="5.30" height="1.59" fill="#7b7b7b" />
<rect x="638.72" y="238.89" width="5.30" height="2.97" fill="#8cc5ea" />
<rect x="638.72" y="206.90" width="5.30" height="31.99" fill="#f5df41" />
<line x1="638.72" y1="290.00" x2="644.02" y2="290.00" stroke="#8a8a8a" stroke-width="0.9" />
<rect x="638.72" y="375.00" width="5.30" height="28.88" fill="#1474c8" />
<rect x="638.72" y="403.88" width="5.30" height="1.52" fill="#7b7b7b" />
<rect x="646.50" y="274.00" width="5.30" height="2.00" fill="#7a4b3c" />
<rect x="646.50" y="267.09" width="5.30" height="6.91" fill="#8cc5ea" />
<rect x="646.50" y="206.90" width="5.30" height="60.19" fill="#f5df41" />
<line x1="646.50" y1="290.00" x2="651.80" y2="290.00" stroke="#8a8a8a" stroke-width="0.9" />
<rect x="646.50" y="375.00" width="5.30" height="30.40" fill="#1474c8" />
<rect x="646.50" y="405.40" width="5.30" height="0.00" fill="#7b7b7b" />
<rect x="654.28" y="206.90" width="5.30" height="69.10" fill="#f5df41" />
<line x1="654.28" y1="290.00" x2="659.58" y2="290.00" stroke="#8a8a8a" stroke-width="0.9" />
<rect x="654.28" y="375.00" width="5.30" height="30.40" fill="#1474c8" />
<rect x="654.28" y="405.40" width="5.30" height="0.00" fill="#7b7b7b" />
<rect x="662.06" y="206.90" width="5.30" height="69.10" fill="#f5df41" />
<line x1="662.06" y1="290.00" x2="667.36" y2="290.00" stroke="#8a8a8a" stroke-width="0.9" />
<rect x="662.06" y="375.00" width="5.30" height="30.10" fill="#1474c8" />
<rect x="662.06" y="405.10" width="5.30" height="0.30" fill="#7b7b7b" />
<rect x="669.84" y="272.61" width="5.30" height="3.39" fill="#7b7b7b" />
<rect x="669.84" y="206.90" width="5.30" height="65.71" fill="#f5df41" />
<line x1="669.84" y1="290.00" x2="675.14" y2="290.00" stroke="#8a8a8a" stroke-width="0.9" />
<rect x="669.84" y="375.00" width="5.30" height="30.10" fill="#1474c8" />
<rect x="669.84" y="405.10" width="5.30" height="0.30" fill="#7b7b7b" />
<rect x="677.62" y="265.15" width="5.30" height="10.85" fill="#e8894f" />
<rect x="677.62" y="259.21" width="5.30" height="5.94" fill="#7a4b3c" />
<rect x="677.62" y="245.39" width="5.30" height="13.82" fill="#8b2f02" />
<rect x="677.62" y="206.90" width="5.30" height="38.49" fill="#f5df41" />
<line x1="677.62" y1="290.00" x2="682.92" y2="290.00" stroke="#8a8a8a" stroke-width="0.9" />
<rect x="677.62" y="375.00" width="5.30" height="30.40" fill="#1474c8" />
<rect x="677.62" y="405.40" width="5.30" height="0.00" fill="#7b7b7b" />
<text x="587" y="412.6" font-size="6.85" text-anchor="middle" fill="#222" font-weight="normal" >ASC-derived organoid</text>
<text x="447.4" y="368.2" font-size="8.5" text-anchor="middle" fill="#111" font-weight="bold" >*</text>
<text x="626.4" y="368.2" font-size="8.5" text-anchor="middle" fill="#111" font-weight="bold" >*</text>
<text x="673.2" y="368.2" font-size="8.5" text-anchor="middle" fill="#111" font-weight="bold" >*</text>
<line x1="262.80" y1="207.00" x2="264.60" y2="207.00" stroke="#6f6f6f" stroke-width="0.7" />
<text x="260.40000000000003" y="209.4" font-size="6.7" text-anchor="end" fill="#222" font-weight="normal" >1.0</text>
<line x1="262.80" y1="241.40" x2="264.60" y2="241.40" stroke="#6f6f6f" stroke-width="0.7" />
<text x="260.40000000000003" y="243.8" font-size="6.7" text-anchor="end" fill="#222" font-weight="normal" >0.5</text>
<line x1="262.80" y1="275.80" x2="264.60" y2="275.80" stroke="#6f6f6f" stroke-width="0.7" />
<text x="260.40000000000003" y="278.2" font-size="6.7" text-anchor="end" fill="#222" font-weight="normal" >0</text>
<line x1="262.80" y1="290.00" x2="264.60" y2="290.00" stroke="#6f6f6f" stroke-width="0.7" />
<text x="260.40000000000003" y="292.4" font-size="6.7" text-anchor="end" fill="#222" font-weight="normal" >1.0</text>
<line x1="262.80" y1="323.30" x2="264.60" y2="323.30" stroke="#6f6f6f" stroke-width="0.7" />
<text x="260.40000000000003" y="325.7" font-size="6.7" text-anchor="end" fill="#222" font-weight="normal" >0.5</text>
<line x1="262.80" y1="356.40" x2="264.60" y2="356.40" stroke="#6f6f6f" stroke-width="0.7" />
<text x="260.40000000000003" y="358.79999999999995" font-size="6.7" text-anchor="end" fill="#222" font-weight="normal" >0</text>
<line x1="262.80" y1="375.60" x2="264.60" y2="375.60" stroke="#6f6f6f" stroke-width="0.7" />
<text x="260.40000000000003" y="378.0" font-size="6.7" text-anchor="end" fill="#222" font-weight="normal" >1.0</text>
<line x1="262.80" y1="405.20" x2="264.60" y2="405.20" stroke="#6f6f6f" stroke-width="0.7" />
<text x="260.40000000000003" y="407.59999999999997" font-size="6.7" text-anchor="end" fill="#222" font-weight="normal" >0</text>
<text x="0" y="0" font-size="7.1" text-anchor="middle" fill="#222" font-weight="normal" transform="translate(248.2,242.2) rotate(-90)">Cell proportion</text>
<text x="0" y="0" font-size="7.0" text-anchor="middle" fill="#222" font-weight="normal" transform="translate(248.5,323) rotate(-90)">Adult probability</text>
<text x="0" y="0" font-size="6.2" text-anchor="middle" fill="#222" font-weight="normal" transform="translate(241.3,389.2) rotate(-90)">Tissue</text>
<text x="0" y="0" font-size="6.2" text-anchor="middle" fill="#222" font-weight="normal" transform="translate(248.2,388) rotate(-90)">proportion</text>
<rect x="547.4" y="7.2" width="83.2" height="137.9" fill="none" stroke="#6f6f6f" stroke-width="0.9"/>
<line x1="545.60" y1="14.60" x2="547.40" y2="14.60" stroke="#6f6f6f" stroke-width="0.6" />
<text x="544.3" y="16.8" font-size="6.2" text-anchor="end" fill="#222" font-weight="normal" >TP63</text>
<line x1="545.60" y1="22.27" x2="547.40" y2="22.27" stroke="#6f6f6f" stroke-width="0.6" />
<text x="544.3" y="24.47" font-size="6.2" text-anchor="end" fill="#222" font-weight="normal" >KRT5</text>
<line x1="545.60" y1="29.94" x2="547.40" y2="29.94" stroke="#6f6f6f" stroke-width="0.6" />
<text x="544.3" y="32.14" font-size="6.2" text-anchor="end" fill="#222" font-weight="normal" >FOXJ1</text>
<line x1="545.60" y1="37.61" x2="547.40" y2="37.61" stroke="#6f6f6f" stroke-width="0.6" />
<text x="544.3" y="39.81" font-size="6.2" text-anchor="end" fill="#222" font-weight="normal" >CDHR3</text>
<line x1="545.60" y1="45.28" x2="547.40" y2="45.28" stroke="#6f6f6f" stroke-width="0.6" />
<text x="544.3" y="47.480000000000004" font-size="6.2" text-anchor="end" fill="#222" font-weight="normal" >CAV1</text>
<line x1="545.60" y1="52.95" x2="547.40" y2="52.95" stroke="#6f6f6f" stroke-width="0.6" />
<text x="544.3" y="55.150000000000006" font-size="6.2" text-anchor="end" fill="#222" font-weight="normal" >HOPX</text>
<line x1="545.60" y1="60.62" x2="547.40" y2="60.62" stroke="#6f6f6f" stroke-width="0.6" />
<text x="544.3" y="62.82" font-size="6.2" text-anchor="end" fill="#222" font-weight="normal" >SFTPC</text>
<line x1="545.60" y1="68.29" x2="547.40" y2="68.29" stroke="#6f6f6f" stroke-width="0.6" />
<text x="544.3" y="70.49" font-size="6.2" text-anchor="end" fill="#222" font-weight="normal" >SFTPD</text>
<line x1="545.60" y1="75.96" x2="547.40" y2="75.96" stroke="#6f6f6f" stroke-width="0.6" />
<text x="544.3" y="78.16" font-size="6.2" text-anchor="end" fill="#222" font-weight="normal" >SCGB3A2</text>
<line x1="545.60" y1="83.63" x2="547.40" y2="83.63" stroke="#6f6f6f" stroke-width="0.6" />
<text x="544.3" y="85.83" font-size="6.2" text-anchor="end" fill="#222" font-weight="normal" >SCGB1A1</text>
<line x1="545.60" y1="91.30" x2="547.40" y2="91.30" stroke="#6f6f6f" stroke-width="0.6" />
<text x="544.3" y="93.5" font-size="6.2" text-anchor="end" fill="#222" font-weight="normal" >MUC5AC</text>
<line x1="545.60" y1="98.97" x2="547.40" y2="98.97" stroke="#6f6f6f" stroke-width="0.6" />
<text x="544.3" y="101.17" font-size="6.2" text-anchor="end" fill="#222" font-weight="normal" >TSPAN8</text>
<line x1="545.60" y1="106.64" x2="547.40" y2="106.64" stroke="#6f6f6f" stroke-width="0.6" />
<text x="544.3" y="108.83999999999999" font-size="6.2" text-anchor="end" fill="#222" font-weight="normal" >CHGA</text>
<line x1="545.60" y1="114.31" x2="547.40" y2="114.31" stroke="#6f6f6f" stroke-width="0.6" />
<text x="544.3" y="116.50999999999999" font-size="6.2" text-anchor="end" fill="#222" font-weight="normal" >FABP1</text>
<line x1="545.60" y1="121.98" x2="547.40" y2="121.98" stroke="#6f6f6f" stroke-width="0.6" />
<text x="544.3" y="124.17999999999999" font-size="6.2" text-anchor="end" fill="#222" font-weight="normal" >AFP</text>
<line x1="545.60" y1="129.65" x2="547.40" y2="129.65" stroke="#6f6f6f" stroke-width="0.6" />
<text x="544.3" y="131.85" font-size="6.2" text-anchor="end" fill="#222" font-weight="normal" >DCN</text>
<line x1="545.60" y1="137.32" x2="547.40" y2="137.32" stroke="#6f6f6f" stroke-width="0.6" />
<text x="544.3" y="139.51999999999998" font-size="6.2" text-anchor="end" fill="#222" font-weight="normal" >POSTN</text>
<line x1="553.90" y1="145.10" x2="553.90" y2="146.90" stroke="#6f6f6f" stroke-width="0.6" />
<text x="0" y="0" font-size="6.2" text-anchor="end" fill="#222" font-weight="normal" transform="translate(553.70,152.6) rotate(-45)">Basal</text>
<line x1="561.67" y1="145.10" x2="561.67" y2="146.90" stroke="#6f6f6f" stroke-width="0.6" />
<text x="0" y="0" font-size="6.2" text-anchor="end" fill="#222" font-weight="normal" transform="translate(561.47,152.6) rotate(-45)">Ciliated</text>
<line x1="569.44" y1="145.10" x2="569.44" y2="146.90" stroke="#6f6f6f" stroke-width="0.6" />
<text x="0" y="0" font-size="6.2" text-anchor="end" fill="#222" font-weight="normal" transform="translate(569.24,152.6) rotate(-45)">AT1</text>
<line x1="577.21" y1="145.10" x2="577.21" y2="146.90" stroke="#6f6f6f" stroke-width="0.6" />
<text x="0" y="0" font-size="6.2" text-anchor="end" fill="#222" font-weight="normal" transform="translate(577.01,152.6) rotate(-45)">AT2</text>
<line x1="584.98" y1="145.10" x2="584.98" y2="146.90" stroke="#6f6f6f" stroke-width="0.6" />
<text x="0" y="0" font-size="6.2" text-anchor="end" fill="#222" font-weight="normal" transform="translate(584.78,152.6) rotate(-45)">Airway secretory</text>
<line x1="592.75" y1="145.10" x2="592.75" y2="146.90" stroke="#6f6f6f" stroke-width="0.6" />
<text x="0" y="0" font-size="6.2" text-anchor="end" fill="#222" font-weight="normal" transform="translate(592.55,152.6) rotate(-45)">Club</text>
<line x1="600.52" y1="145.10" x2="600.52" y2="146.90" stroke="#6f6f6f" stroke-width="0.6" />
<text x="0" y="0" font-size="6.2" text-anchor="end" fill="#222" font-weight="normal" transform="translate(600.32,152.6) rotate(-45)">Goblet</text>
<line x1="608.29" y1="145.10" x2="608.29" y2="146.90" stroke="#6f6f6f" stroke-width="0.6" />
<text x="0" y="0" font-size="6.2" text-anchor="end" fill="#222" font-weight="normal" transform="translate(608.09,152.6) rotate(-45)">Neuroendocrine</text>
<line x1="616.06" y1="145.10" x2="616.06" y2="146.90" stroke="#6f6f6f" stroke-width="0.6" />
<text x="0" y="0" font-size="6.2" text-anchor="end" fill="#222" font-weight="normal" transform="translate(615.86,152.6) rotate(-45)">Progenitor</text>
<line x1="623.83" y1="145.10" x2="623.83" y2="146.90" stroke="#6f6f6f" stroke-width="0.6" />
<text x="0" y="0" font-size="6.2" text-anchor="end" fill="#222" font-weight="normal" transform="translate(623.63,152.6) rotate(-45)">Mesenchymal</text>
<circle cx="553.90" cy="14.60" r="2.10" fill="#67000d" stroke="#333" stroke-width="0.35"/>
<circle cx="561.67" cy="14.60" r="0.35" fill="#bbb" />
<circle cx="569.44" cy="14.60" r="0.35" fill="#bbb" />
<circle cx="577.21" cy="14.60" r="0.35" fill="#bbb" />
<circle cx="584.98" cy="14.60" r="0.35" fill="#bbb" />
<circle cx="592.75" cy="14.60" r="0.70" fill="#777" />
<circle cx="600.52" cy="14.60" r="0.35" fill="#bbb" />
<circle cx="608.29" cy="14.60" r="0.35" fill="#bbb" />
<circle cx="616.06" cy="14.60" r="0.35" fill="#bbb" />
<circle cx="623.83" cy="14.60" r="0.35" fill="#bbb" />
<circle cx="553.90" cy="22.27" r="1.60" fill="#67000d" stroke="#333" stroke-width="0.35"/>
<circle cx="561.67" cy="22.27" r="0.50" fill="#555" />
<circle cx="569.44" cy="22.27" r="0.35" fill="#bbb" />
<circle cx="577.21" cy="22.27" r="0.35" fill="#bbb" />
<circle cx="584.98" cy="22.27" r="0.35" fill="#bbb" />
<circle cx="592.75" cy="22.27" r="1.30" fill="#d7301f" stroke="#333" stroke-width="0.35"/>
<circle cx="600.52" cy="22.27" r="0.35" fill="#bbb" />
<circle cx="608.29" cy="22.27" r="0.35" fill="#bbb" />
<circle cx="616.06" cy="22.27" r="0.35" fill="#bbb" />
<circle cx="623.83" cy="22.27" r="0.35" fill="#bbb" />
<circle cx="553.90" cy="29.94" r="0.35" fill="#bbb" />
<circle cx="561.67" cy="29.94" r="1.70" fill="#67000d" stroke="#333" stroke-width="0.35"/>
<circle cx="569.44" cy="29.94" r="0.35" fill="#bbb" />
<circle cx="577.21" cy="29.94" r="0.35" fill="#bbb" />
<circle cx="584.98" cy="29.94" r="0.60" fill="#777" />
<circle cx="592.75" cy="29.94" r="0.35" fill="#bbb" />
<circle cx="600.52" cy="29.94" r="0.35" fill="#bbb" />
<circle cx="608.29" cy="29.94" r="0.35" fill="#bbb" />
<circle cx="616.06" cy="29.94" r="0.35" fill="#bbb" />
<circle cx="623.83" cy="29.94" r="0.35" fill="#bbb" />
<circle cx="553.90" cy="37.61" r="0.35" fill="#bbb" />
<circle cx="561.67" cy="37.61" r="1.30" fill="#67000d" stroke="#333" stroke-width="0.35"/>
<circle cx="569.44" cy="37.61" r="0.35" fill="#bbb" />
<circle cx="577.21" cy="37.61" r="0.35" fill="#bbb" />
<circle cx="584.98" cy="37.61" r="0.35" fill="#bbb" />
<circle cx="592.75" cy="37.61" r="0.35" fill="#bbb" />
<circle cx="600.52" cy="37.61" r="0.35" fill="#bbb" />
<circle cx="608.29" cy="37.61" r="0.35" fill="#bbb" />
<circle cx="616.06" cy="37.61" r="0.35" fill="#bbb" />
<circle cx="623.83" cy="37.61" r="0.35" fill="#bbb" />
<circle cx="553.90" cy="45.28" r="1.60" fill="#fcae91" stroke="#333" stroke-width="0.35"/>
<circle cx="561.67" cy="45.28" r="0.80" fill="#999" />
<circle cx="569.44" cy="45.28" r="2.70" fill="#67000d" stroke="#333" stroke-width="0.35"/>
<circle cx="577.21" cy="45.28" r="0.90" fill="#fdd5c4" />
<circle cx="584.98" cy="45.28" r="1.50" fill="#fcae91" stroke="#333" stroke-width="0.35"/>
<circle cx="592.75" cy="45.28" r="0.90" fill="#fdd5c4" />
<circle cx="600.52" cy="45.28" r="0.70" fill="#aaa" />
<circle cx="608.29" cy="45.28" r="0.35" fill="#bbb" />
<circle cx="616.06" cy="45.28" r="0.60" fill="#777" />
<circle cx="623.83" cy="45.28" r="1.00" fill="#fcae91" />
<circle cx="553.90" cy="52.95" r="0.70" fill="#777" />
<circle cx="561.67" cy="52.95" r="0.70" fill="#888" />
<circle cx="569.44" cy="52.95" r="2.90" fill="#67000d" stroke="#333" stroke-width="0.35"/>
<circle cx="577.21" cy="52.95" r="1.70" fill="#f4876a" stroke="#333" stroke-width="0.35"/>
<circle cx="584.98" cy="52.95" r="2.00" fill="#ee6a4a" stroke="#333" stroke-width="0.35"/>
<circle cx="592.75" cy="52.95" r="0.60" fill="#777" />
<circle cx="600.52" cy="52.95" r="0.35" fill="#bbb" />
<circle cx="608.29" cy="52.95" r="0.35" fill="#bbb" />
<circle cx="616.06" cy="52.95" r="0.35" fill="#bbb" />
<circle cx="623.83" cy="52.95" r="0.35" fill="#bbb" />
<circle cx="553.90" cy="60.62" r="0.50" fill="#aaa" />
<circle cx="561.67" cy="60.62" r="0.80" fill="#888" />
<circle cx="569.44" cy="60.62" r="2.70" fill="#ef4a35" stroke="#333" stroke-width="0.35"/>
<circle cx="577.21" cy="60.62" r="2.90" fill="#67000d" stroke="#333" stroke-width="0.35"/>
<circle cx="584.98" cy="60.62" r="2.20" fill="#f4876a" stroke="#333" stroke-width="0.35"/>
<circle cx="592.75" cy="60.62" r="0.70" fill="#777" />
<circle cx="600.52" cy="60.62" r="0.35" fill="#bbb" />
<circle cx="608.29" cy="60.62" r="0.35" fill="#bbb" />
<circle cx="616.06" cy="60.62" r="0.90" fill="#999" />
<circle cx="623.83" cy="60.62" r="0.35" fill="#bbb" />
<circle cx="553.90" cy="68.29" r="0.35" fill="#bbb" />
<circle cx="561.67" cy="68.29" r="0.50" fill="#777" />
<circle cx="569.44" cy="68.29" r="1.20" fill="#f4876a" stroke="#333" stroke-width="0.35"/>
<circle cx="577.21" cy="68.29" r="1.50" fill="#67000d" stroke="#333" stroke-width="0.35"/>
<circle cx="584.98" cy="68.29" r="1.20" fill="#d7301f" stroke="#333" stroke-width="0.35"/>
<circle cx="592.75" cy="68.29" r="0.35" fill="#bbb" />
<circle cx="600.52" cy="68.29" r="0.35" fill="#bbb" />
<circle cx="608.29" cy="68.29" r="0.35" fill="#bbb" />
<circle cx="616.06" cy="68.29" r="0.35" fill="#bbb" />
<circle cx="623.83" cy="68.29" r="0.35" fill="#bbb" />
<circle cx="553.90" cy="75.96" r="0.60" fill="#888" />
<circle cx="561.67" cy="75.96" r="0.90" fill="#f4876a" />
<circle cx="569.44" cy="75.96" r="2.10" fill="#f4876a" stroke="#333" stroke-width="0.35"/>
<circle cx="577.21" cy="75.96" r="1.30" fill="#fdd5c4" stroke="#333" stroke-width="0.35"/>
<circle cx="584.98" cy="75.96" r="2.80" fill="#67000d" stroke="#333" stroke-width="0.35"/>
<circle cx="592.75" cy="75.96" r="0.40" fill="#aaa" />
<circle cx="600.52" cy="75.96" r="0.35" fill="#bbb" />
<circle cx="608.29" cy="75.96" r="0.35" fill="#bbb" />
<circle cx="616.06" cy="75.96" r="0.35" fill="#bbb" />
<circle cx="623.83" cy="75.96" r="0.35" fill="#bbb" />
<circle cx="553.90" cy="83.63" r="1.40" fill="#fdd5c4" stroke="#333" stroke-width="0.35"/>
<circle cx="561.67" cy="83.63" r="1.40" fill="#fdd5c4" stroke="#333" stroke-width="0.35"/>
<circle cx="569.44" cy="83.63" r="0.35" fill="#bbb" />
<circle cx="577.21" cy="83.63" r="0.35" fill="#bbb" />
<circle cx="584.98" cy="83.63" r="0.90" fill="#a44" />
<circle cx="592.75" cy="83.63" r="2.80" fill="#67000d" stroke="#333" stroke-width="0.35"/>
<circle cx="600.52" cy="83.63" r="0.35" fill="#bbb" />
<circle cx="608.29" cy="83.63" r="1.20" fill="#fcae91" stroke="#333" stroke-width="0.35"/>
<circle cx="616.06" cy="83.63" r="0.35" fill="#bbb" />
<circle cx="623.83" cy="83.63" r="0.70" fill="#777" />
<circle cx="553.90" cy="91.30" r="0.60" fill="#777" />
<circle cx="561.67" cy="91.30" r="0.35" fill="#bbb" />
<circle cx="569.44" cy="91.30" r="0.35" fill="#bbb" />
<circle cx="577.21" cy="91.30" r="0.35" fill="#bbb" />
<circle cx="584.98" cy="91.30" r="0.35" fill="#bbb" />
<circle cx="592.75" cy="91.30" r="1.00" fill="#fcae91" />
<circle cx="600.52" cy="91.30" r="2.60" fill="#67000d" stroke="#333" stroke-width="0.35"/>
<circle cx="608.29" cy="91.30" r="1.40" fill="#f07050" stroke="#333" stroke-width="0.35"/>
<circle cx="616.06" cy="91.30" r="0.35" fill="#bbb" />
<circle cx="623.83" cy="91.30" r="0.35" fill="#bbb" />
<circle cx="553.90" cy="98.97" r="0.70" fill="#777" />
<circle cx="561.67" cy="98.97" r="0.35" fill="#bbb" />
<circle cx="569.44" cy="98.97" r="1.20" fill="#fcae91" stroke="#333" stroke-width="0.35"/>
<circle cx="577.21" cy="98.97" r="1.20" fill="#f4876a" stroke="#333" stroke-width="0.35"/>
<circle cx="584.98" cy="98.97" r="1.40" fill="#f4876a" stroke="#333" stroke-width="0.35"/>
<circle cx="592.75" cy="98.97" r="1.20" fill="#fcae91" stroke="#333" stroke-width="0.35"/>
<circle cx="600.52" cy="98.97" r="2.60" fill="#67000d" stroke="#333" stroke-width="0.35"/>
<circle cx="608.29" cy="98.97" r="0.35" fill="#bbb" />
<circle cx="616.06" cy="98.97" r="0.90" fill="#b55" />
<circle cx="623.83" cy="98.97" r="0.35" fill="#bbb" />
<circle cx="553.90" cy="106.64" r="0.35" fill="#bbb" />
<circle cx="561.67" cy="106.64" r="0.35" fill="#bbb" />
<circle cx="569.44" cy="106.64" r="0.35" fill="#bbb" />
<circle cx="577.21" cy="106.64" r="0.35" fill="#bbb" />
<circle cx="584.98" cy="106.64" r="0.35" fill="#bbb" />
<circle cx="592.75" cy="106.64" r="0.35" fill="#bbb" />
<circle cx="600.52" cy="106.64" r="0.35" fill="#bbb" />
<circle cx="608.29" cy="106.64" r="2.80" fill="#67000d" stroke="#333" stroke-width="0.35"/>
<circle cx="616.06" cy="106.64" r="0.35" fill="#bbb" />
<circle cx="623.83" cy="106.64" r="0.35" fill="#bbb" />
<circle cx="553.90" cy="114.31" r="0.35" fill="#bbb" />
<circle cx="561.67" cy="114.31" r="0.35" fill="#bbb" />
<circle cx="569.44" cy="114.31" r="0.35" fill="#bbb" />
<circle cx="577.21" cy="114.31" r="0.35" fill="#bbb" />
<circle cx="584.98" cy="114.31" r="0.60" fill="#777" />
<circle cx="592.75" cy="114.31" r="0.35" fill="#bbb" />
<circle cx="600.52" cy="114.31" r="0.35" fill="#bbb" />
<circle cx="608.29" cy="114.31" r="0.35" fill="#bbb" />
<circle cx="616.06" cy="114.31" r="0.90" fill="#67000d" />
<circle cx="623.83" cy="114.31" r="0.60" fill="#777" />
<circle cx="553.90" cy="121.98" r="0.35" fill="#bbb" />
<circle cx="561.67" cy="121.98" r="0.90" fill="#a33" />
<circle cx="569.44" cy="121.98" r="0.35" fill="#bbb" />
<circle cx="577.21" cy="121.98" r="0.35" fill="#bbb" />
<circle cx="584.98" cy="121.98" r="0.90" fill="#a33" />
<circle cx="592.75" cy="121.98" r="0.35" fill="#bbb" />
<circle cx="600.52" cy="121.98" r="0.35" fill="#bbb" />
<circle cx="608.29" cy="121.98" r="0.35" fill="#bbb" />
<circle cx="616.06" cy="121.98" r="0.90" fill="#67000d" />
<circle cx="623.83" cy="121.98" r="0.35" fill="#bbb" />
<circle cx="553.90" cy="129.65" r="0.35" fill="#bbb" />
<circle cx="561.67" cy="129.65" r="0.35" fill="#bbb" />
<circle cx="569.44" cy="129.65" r="0.35" fill="#bbb" />
<circle cx="577.21" cy="129.65" r="0.35" fill="#bbb" />
<circle cx="584.98" cy="129.65" r="0.35" fill="#bbb" />
<circle cx="592.75" cy="129.65" r="0.35" fill="#bbb" />
<circle cx="600.52" cy="129.65" r="0.35" fill="#bbb" />
<circle cx="608.29" cy="129.65" r="0.35" fill="#bbb" />
<circle cx="616.06" cy="129.65" r="0.35" fill="#bbb" />
<circle cx="623.83" cy="129.65" r="2.10" fill="#67000d" stroke="#333" stroke-width="0.35"/>
<circle cx="553.90" cy="137.32" r="0.35" fill="#bbb" />
<circle cx="561.67" cy="137.32" r="0.35" fill="#bbb" />
<circle cx="569.44" cy="137.32" r="0.35" fill="#bbb" />
<circle cx="577.21" cy="137.32" r="0.35" fill="#bbb" />
<circle cx="584.98" cy="137.32" r="0.35" fill="#bbb" />
<circle cx="592.75" cy="137.32" r="0.35" fill="#bbb" />
<circle cx="600.52" cy="137.32" r="0.35" fill="#bbb" />
<circle cx="608.29" cy="137.32" r="0.35" fill="#bbb" />
<circle cx="616.06" cy="137.32" r="0.35" fill="#bbb" />
<circle cx="623.83" cy="137.32" r="1.90" fill="#67000d" stroke="#333" stroke-width="0.35"/>
<text x="658" y="21.4" font-size="6.2" text-anchor="middle" fill="#222" font-weight="normal" >Fraction of cells</text>
<text x="658" y="28.6" font-size="6.2" text-anchor="middle" fill="#222" font-weight="normal" >in group (%)</text>
<circle cx="646.50" cy="36.10" r="3.10" fill="#7a7a7a" stroke="#333" stroke-width="0.4"/>
<text x="654.3" y="38.300000000000004" font-size="6.2" text-anchor="start" fill="#222" font-weight="normal" >100</text>
<circle cx="646.50" cy="45.10" r="2.60" fill="#7a7a7a" stroke="#333" stroke-width="0.4"/>
<text x="654.3" y="47.300000000000004" font-size="6.2" text-anchor="start" fill="#222" font-weight="normal" >80</text>
<circle cx="646.50" cy="53.50" r="2.10" fill="#7a7a7a" stroke="#333" stroke-width="0.4"/>
<text x="654.3" y="55.7" font-size="6.2" text-anchor="start" fill="#222" font-weight="normal" >60</text>
<circle cx="646.50" cy="61.80" r="1.50" fill="#7a7a7a" stroke="#333" stroke-width="0.4"/>
<text x="654.3" y="64.0" font-size="6.2" text-anchor="start" fill="#222" font-weight="normal" >40</text>
<circle cx="646.50" cy="70.40" r="0.90" fill="#7a7a7a" stroke="#333" stroke-width="0.4"/>
<text x="654.3" y="72.60000000000001" font-size="6.2" text-anchor="start" fill="#222" font-weight="normal" >20</text>
<text x="658" y="89.6" font-size="6.2" text-anchor="middle" fill="#222" font-weight="normal" >Mean expression</text>
<text x="658" y="96.0" font-size="6.2" text-anchor="middle" fill="#222" font-weight="normal" >in group</text>
<defs><linearGradient id="cb" x1="0" y1="0" x2="0" y2="1"><stop offset="0" stop-color="#67000d"/><stop offset="0.25" stop-color="#c0161c"/><stop offset="0.5" stop-color="#f1573f"/><stop offset="0.75" stop-color="#fcae91"/><stop offset="1" stop-color="#fff5f0"/></linearGradient></defs>
<rect x="645.8" y="101.9" width="5.8" height="36.6" fill="url(#cb)" stroke="#555" stroke-width="0.3"/>
<line x1="651.60" y1="101.90" x2="654.50" y2="101.90" stroke="#333" stroke-width="0.5" />
<line x1="651.60" y1="138.50" x2="654.50" y2="138.50" stroke="#333" stroke-width="0.5" />
<text x="656.5" y="104.3" font-size="6.2" text-anchor="start" fill="#222" font-weight="normal" >High</text>
<text x="656.5" y="140.9" font-size="6.2" text-anchor="start" fill="#222" font-weight="normal" >Low</text>
</svg>
</body></html>
